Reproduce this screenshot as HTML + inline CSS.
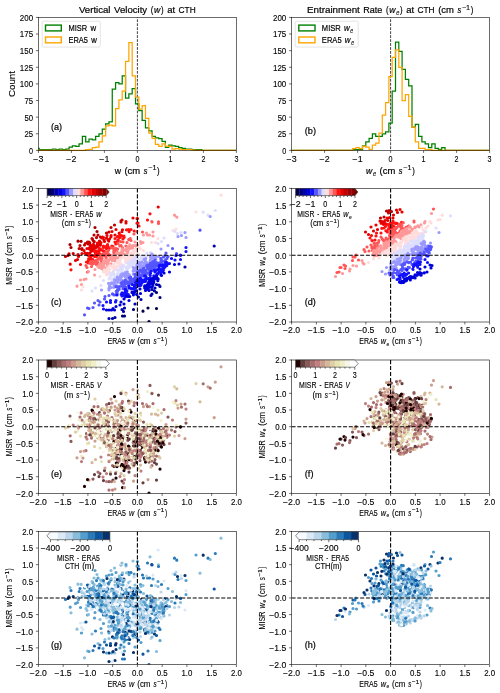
<!DOCTYPE html><html><head><meta charset="utf-8"><style>html,body{margin:0;padding:0;background:#fff}svg{display:block;will-change:transform}text{stroke:#000;stroke-width:0.12px}</style></head><body><svg width="500" height="693" viewBox="0 0 500 693" font-family="'Liberation Sans', sans-serif">
<rect width="500" height="693" fill="#fff"/>
<defs><clipPath id="ch0"><rect x="38.4" y="17.4" width="198" height="134"/></clipPath></defs>
<path d="M137.4 17.4V150.4" stroke="#000" stroke-width="0.75" stroke-dasharray="2.77 1.2" stroke-dashoffset="2.07"/>
<g clip-path="url(#ch0)">
<path d="M38.4 150.4H35.9V148.41H39.22V149.74H42.54V149.74H45.86V149.74H49.18V149.74H52.5V149.07H55.82V149.74H59.14V149.07H62.46V149.74H65.78V149.07H69.1V147.08H72.42V145.75H75.74V146.41H79.06V143.75H82.38V136.44H85.7V141.75H89.02V139.09H92.34V139.76H95.66V136.44H98.98V133.78H102.3V129.12H105.62V123.8H108.94V121.81H112.26V89.22H115.58V82.57H118.9V83.9H122.22V75.92H125.54V98.2H128.86V93.88H132.18V88.56H135.5V103.85H138.82V110.5H142.14V120.48H145.46V127.79H148.78V130.78H152.1V136.44H155.42V137.77H158.74V138.7H162.06V141.49H165.38V147.47H168.7V145.08H172.02V145.75H175.34V146.41H178.66V147.74H181.98V148.41H185.3V149.07H188.62V149.07H191.94V149.74H195.26V149.74H198.58V149.74H201.9V150.4H236.4" fill="none" stroke="#008000" stroke-width="1.25" stroke-linejoin="miter"/>
<path d="M38.4 150.4H85.7V149.74H89.02V149.4H92.34V147.74H95.66V147.08H98.98V141.75H102.3V135.77H105.62V125.8H108.94V125.13H112.26V125.8H115.58V108.5H118.9V99.86H122.22V91.22H125.54V61.29H128.86V42.67H132.18V75.92H135.5V97.2H138.82V109.17H142.14V105.51H145.46V118.48H148.78V133.11H152.1V138.43H155.42V144.41H158.74V146.41H162.06V143.75H165.38V146.01H168.7V146.41H172.02V149.07H175.34V148.74H178.66V149.07H181.98V149.74H185.3V149.74H188.62V149.74H191.94V150.07H195.26V150.4H236.4" fill="none" stroke="#ffa500" stroke-width="1.25" stroke-linejoin="miter"/>
</g>
<rect x="38.4" y="17.4" width="198" height="133" fill="none" stroke="#000" stroke-width="0.58"/>
<path d="M38.4 150.4v2.5M71.4 150.4v2.5M104.4 150.4v2.5M137.4 150.4v2.5M170.4 150.4v2.5M203.4 150.4v2.5M236.4 150.4v2.5" stroke="#000" stroke-width="0.58"/>
<text x="38.4" y="161.6" text-anchor="middle" font-size="8.32" textLength="10.1" lengthAdjust="spacingAndGlyphs">−3</text>
<text x="71.4" y="161.6" text-anchor="middle" font-size="8.32" textLength="10.1" lengthAdjust="spacingAndGlyphs">−2</text>
<text x="104.4" y="161.6" text-anchor="middle" font-size="8.32" textLength="10.1" lengthAdjust="spacingAndGlyphs">−1</text>
<text x="137.4" y="161.6" text-anchor="middle" font-size="8.32" textLength="3.99" lengthAdjust="spacingAndGlyphs">0</text>
<text x="170.4" y="161.6" text-anchor="middle" font-size="8.32" textLength="3.99" lengthAdjust="spacingAndGlyphs">1</text>
<text x="203.4" y="161.6" text-anchor="middle" font-size="8.32" textLength="3.99" lengthAdjust="spacingAndGlyphs">2</text>
<text x="236.4" y="161.6" text-anchor="middle" font-size="8.32" textLength="3.99" lengthAdjust="spacingAndGlyphs">3</text>
<path d="M38.4 150.4h-2.5M38.4 133.78h-2.5M38.4 117.15h-2.5M38.4 100.53h-2.5M38.4 83.9h-2.5M38.4 67.28h-2.5M38.4 50.65h-2.5M38.4 34.03h-2.5M38.4 17.4h-2.5" stroke="#000" stroke-width="0.58"/>
<text x="33.1" y="153.8" text-anchor="end" font-size="8.32" textLength="3.99" lengthAdjust="spacingAndGlyphs">0</text>
<text x="33.1" y="137.18" text-anchor="end" font-size="8.32" textLength="8.63" lengthAdjust="spacingAndGlyphs">25</text>
<text x="33.1" y="120.55" text-anchor="end" font-size="8.32" textLength="8.63" lengthAdjust="spacingAndGlyphs">50</text>
<text x="33.1" y="103.93" text-anchor="end" font-size="8.32" textLength="8.63" lengthAdjust="spacingAndGlyphs">75</text>
<text x="33.1" y="87.3" text-anchor="end" font-size="8.32" textLength="13.28" lengthAdjust="spacingAndGlyphs">100</text>
<text x="33.1" y="70.68" text-anchor="end" font-size="8.32" textLength="13.28" lengthAdjust="spacingAndGlyphs">125</text>
<text x="33.1" y="54.05" text-anchor="end" font-size="8.32" textLength="13.28" lengthAdjust="spacingAndGlyphs">150</text>
<text x="33.1" y="37.43" text-anchor="end" font-size="8.32" textLength="13.28" lengthAdjust="spacingAndGlyphs">175</text>
<text x="33.1" y="20.8" text-anchor="end" font-size="8.32" textLength="13.28" lengthAdjust="spacingAndGlyphs">200</text>
<defs><clipPath id="ch1"><rect x="291.6" y="17.4" width="198" height="134"/></clipPath></defs>
<path d="M390.6 17.4V150.4" stroke="#000" stroke-width="0.75" stroke-dasharray="2.77 1.2" stroke-dashoffset="2.07"/>
<g clip-path="url(#ch1)">
<path d="M291.6 150.4H352.6V149.74H355.9V149.74H359.2V149.74H362.5V145.75H365.8V141.75H369.1V138.43H372.4V133.78H375.7V136.44H379V136.44H382.3V133.78H385.6V131.78H388.9V123.14H392.2V91.22H395.5V42H398.8V51.31H402.1V69.27H405.4V79.25H408.7V85.89H412V127.12H415.3V124.47H418.6V136.44H421.9V141.75H425.2V143.75H428.5V147.74H431.8V143.75H435.1V148.41H438.4V149.4H441.7V147.74H445V150.4H489.6" fill="none" stroke="#008000" stroke-width="1.25" stroke-linejoin="miter"/>
<path d="M291.6 150.4H352.6V148.74H355.9V147.74H359.2V148.74H362.5V146.01H365.8V147.08H369.1V149.4H372.4V145.08H375.7V143.09H379V133.11H382.3V115.16H385.6V102.52H388.9V76.59H392.2V57.3H395.5V49.98H398.8V67.28H402.1V100.53H405.4V94.54H408.7V116.49H412V127.12H415.3V141.75H418.6V148.41H421.9V148.41H425.2V149.74H428.5V149.74H431.8V150.4H489.6" fill="none" stroke="#ffa500" stroke-width="1.25" stroke-linejoin="miter"/>
</g>
<rect x="291.6" y="17.4" width="198" height="133" fill="none" stroke="#000" stroke-width="0.58"/>
<path d="M291.6 150.4v2.5M324.6 150.4v2.5M357.6 150.4v2.5M390.6 150.4v2.5M423.6 150.4v2.5M456.6 150.4v2.5M489.6 150.4v2.5" stroke="#000" stroke-width="0.58"/>
<text x="291.6" y="161.6" text-anchor="middle" font-size="8.32" textLength="10.1" lengthAdjust="spacingAndGlyphs">−3</text>
<text x="324.6" y="161.6" text-anchor="middle" font-size="8.32" textLength="10.1" lengthAdjust="spacingAndGlyphs">−2</text>
<text x="357.6" y="161.6" text-anchor="middle" font-size="8.32" textLength="10.1" lengthAdjust="spacingAndGlyphs">−1</text>
<text x="390.6" y="161.6" text-anchor="middle" font-size="8.32" textLength="3.99" lengthAdjust="spacingAndGlyphs">0</text>
<text x="423.6" y="161.6" text-anchor="middle" font-size="8.32" textLength="3.99" lengthAdjust="spacingAndGlyphs">1</text>
<text x="456.6" y="161.6" text-anchor="middle" font-size="8.32" textLength="3.99" lengthAdjust="spacingAndGlyphs">2</text>
<text x="489.6" y="161.6" text-anchor="middle" font-size="8.32" textLength="3.99" lengthAdjust="spacingAndGlyphs">3</text>
<path d="M291.6 150.4h-2.5M291.6 133.78h-2.5M291.6 117.15h-2.5M291.6 100.53h-2.5M291.6 83.9h-2.5M291.6 67.28h-2.5M291.6 50.65h-2.5M291.6 34.03h-2.5M291.6 17.4h-2.5" stroke="#000" stroke-width="0.58"/>
<text x="286.3" y="153.8" text-anchor="end" font-size="8.32" textLength="3.99" lengthAdjust="spacingAndGlyphs">0</text>
<text x="286.3" y="137.18" text-anchor="end" font-size="8.32" textLength="8.63" lengthAdjust="spacingAndGlyphs">25</text>
<text x="286.3" y="120.55" text-anchor="end" font-size="8.32" textLength="8.63" lengthAdjust="spacingAndGlyphs">50</text>
<text x="286.3" y="103.93" text-anchor="end" font-size="8.32" textLength="8.63" lengthAdjust="spacingAndGlyphs">75</text>
<text x="286.3" y="87.3" text-anchor="end" font-size="8.32" textLength="13.28" lengthAdjust="spacingAndGlyphs">100</text>
<text x="286.3" y="70.68" text-anchor="end" font-size="8.32" textLength="13.28" lengthAdjust="spacingAndGlyphs">125</text>
<text x="286.3" y="54.05" text-anchor="end" font-size="8.32" textLength="13.28" lengthAdjust="spacingAndGlyphs">150</text>
<text x="286.3" y="37.43" text-anchor="end" font-size="8.32" textLength="13.28" lengthAdjust="spacingAndGlyphs">175</text>
<text x="286.3" y="20.8" text-anchor="end" font-size="8.32" textLength="13.28" lengthAdjust="spacingAndGlyphs">200</text>
<rect x="42.2" y="21.2" width="58.1" height="25.9" rx="1.4" fill="#fff" fill-opacity="0.8" stroke="#d0d0d0" stroke-width="0.58"/>
<rect x="45.5" y="25.1" width="15.8" height="5.8" fill="none" stroke="#008000" stroke-width="1.4"/>
<rect x="45.5" y="37.0" width="15.8" height="5.8" fill="none" stroke="#ffa500" stroke-width="1.4"/>
<text x="68.47" y="31" font-size="9.46" textLength="18.68" lengthAdjust="spacingAndGlyphs" style="stroke-width:0.2px">MISR</text><text x="90.39" y="31" font-size="9.46" textLength="5.64" lengthAdjust="spacingAndGlyphs" style="stroke-width:0.2px">w</text>
<text x="68.47" y="42.9" font-size="9.46" textLength="19.45" lengthAdjust="spacingAndGlyphs" style="stroke-width:0.2px">ERA5</text><text x="91.14" y="42.9" font-size="9.46" textLength="5.59" lengthAdjust="spacingAndGlyphs" style="stroke-width:0.2px">w</text>
<rect x="295.2" y="21.2" width="63" height="25.9" rx="1.4" fill="#fff" fill-opacity="0.8" stroke="#d0d0d0" stroke-width="0.58"/>
<rect x="298.8" y="25.1" width="16.2" height="5.8" fill="none" stroke="#008000" stroke-width="1.4"/>
<rect x="298.8" y="37.0" width="16.2" height="5.8" fill="none" stroke="#ffa500" stroke-width="1.4"/>
<text x="321.87" y="31" font-size="9.46" textLength="18.89" lengthAdjust="spacingAndGlyphs" style="stroke-width:0.2px">MISR</text><text x="344.02" y="31" font-size="9.46" font-style="italic" textLength="5.71" lengthAdjust="spacingAndGlyphs" style="stroke-width:0.2px">w</text><text x="350.36" y="32.83" font-size="6.62" font-style="italic" textLength="2.88" lengthAdjust="spacingAndGlyphs">e</text>
<text x="321.87" y="42.9" font-size="9.46" textLength="19.74" lengthAdjust="spacingAndGlyphs" style="stroke-width:0.2px">ERA5</text><text x="344.86" y="42.9" font-size="9.46" font-style="italic" textLength="5.68" lengthAdjust="spacingAndGlyphs" style="stroke-width:0.2px">w</text><text x="351.18" y="44.73" font-size="6.62" font-style="italic" textLength="2.86" lengthAdjust="spacingAndGlyphs">e</text>
<text x="78.99" y="13.2" font-size="9.8" textLength="31.53" lengthAdjust="spacingAndGlyphs" style="stroke-width:0.2px">Vertical</text><text x="114.04" y="13.2" font-size="9.8" textLength="33.09" lengthAdjust="spacingAndGlyphs" style="stroke-width:0.2px">Velocity</text><text x="150.64" y="13.2" font-size="9.8" textLength="2.59" lengthAdjust="spacingAndGlyphs" style="stroke-width:0.2px">(</text><text x="154.01" y="13.2" font-size="9.8" font-style="italic" textLength="6.29" lengthAdjust="spacingAndGlyphs" style="stroke-width:0.2px">w</text><text x="161.07" y="13.2" font-size="9.8" textLength="2.59" lengthAdjust="spacingAndGlyphs" style="stroke-width:0.2px">)</text><text x="167.18" y="13.2" font-size="9.8" textLength="7.9" lengthAdjust="spacingAndGlyphs" style="stroke-width:0.2px">at</text><text x="178.6" y="13.2" font-size="9.8" textLength="17.02" lengthAdjust="spacingAndGlyphs" style="stroke-width:0.2px">CTH</text>
<text x="306.99" y="13.2" font-size="9.8" textLength="52.84" lengthAdjust="spacingAndGlyphs" style="stroke-width:0.2px">Entrainment</text><text x="363.35" y="13.2" font-size="9.8" textLength="19.03" lengthAdjust="spacingAndGlyphs" style="stroke-width:0.2px">Rate</text><text x="385.9" y="13.2" font-size="9.8" textLength="2.6" lengthAdjust="spacingAndGlyphs" style="stroke-width:0.2px">(</text><text x="389.27" y="13.2" font-size="9.8" font-style="italic" textLength="6.29" lengthAdjust="spacingAndGlyphs" style="stroke-width:0.2px">w</text><text x="396.21" y="15.09" font-size="6.86" font-style="italic" textLength="3.18" lengthAdjust="spacingAndGlyphs">e</text><text x="400.05" y="13.2" font-size="9.8" textLength="2.6" lengthAdjust="spacingAndGlyphs" style="stroke-width:0.2px">)</text><text x="406.16" y="13.2" font-size="9.8" textLength="7.9" lengthAdjust="spacingAndGlyphs" style="stroke-width:0.2px">at</text><text x="417.59" y="13.2" font-size="9.8" textLength="17.03" lengthAdjust="spacingAndGlyphs" style="stroke-width:0.2px">CTH</text><text x="438.13" y="13.2" font-size="9.8" textLength="15.76" lengthAdjust="spacingAndGlyphs" style="stroke-width:0.2px">(cm</text><text x="457.41" y="13.2" font-size="9.8" font-style="italic" textLength="3.73" lengthAdjust="spacingAndGlyphs" style="stroke-width:0.2px">s</text><text x="461.79" y="9.76" font-size="6.86" textLength="8.37" lengthAdjust="spacingAndGlyphs">−1</text><text x="470.82" y="13.2" font-size="9.8" textLength="2.6" lengthAdjust="spacingAndGlyphs" style="stroke-width:0.2px">)</text>
<g transform="rotate(-90 15.3 84)"><text x="2.26" y="84" font-size="9.23" textLength="26.07" lengthAdjust="spacingAndGlyphs">Count</text></g>
<text x="114.69" y="173.5" font-size="9.8" textLength="6.28" lengthAdjust="spacingAndGlyphs" style="stroke-width:0.2px">w</text><text x="124.48" y="173.5" font-size="9.8" textLength="15.73" lengthAdjust="spacingAndGlyphs" style="stroke-width:0.2px">(cm</text><text x="143.73" y="173.5" font-size="9.8" font-style="italic" textLength="3.72" lengthAdjust="spacingAndGlyphs" style="stroke-width:0.2px">s</text><text x="148.11" y="170.06" font-size="6.86" textLength="8.36" lengthAdjust="spacingAndGlyphs">−1</text><text x="157.12" y="173.5" font-size="9.8" textLength="2.59" lengthAdjust="spacingAndGlyphs" style="stroke-width:0.2px">)</text>
<text x="366.09" y="173.9" font-size="9.8" font-style="italic" textLength="6.26" lengthAdjust="spacingAndGlyphs" style="stroke-width:0.2px">w</text><text x="373.01" y="175.79" font-size="6.86" font-style="italic" textLength="3.16" lengthAdjust="spacingAndGlyphs">e</text><text x="379.56" y="173.9" font-size="9.8" textLength="15.7" lengthAdjust="spacingAndGlyphs" style="stroke-width:0.2px">(cm</text><text x="398.77" y="173.9" font-size="9.8" font-style="italic" textLength="3.71" lengthAdjust="spacingAndGlyphs" style="stroke-width:0.2px">s</text><text x="403.14" y="170.46" font-size="6.86" textLength="8.34" lengthAdjust="spacingAndGlyphs">−1</text><text x="412.13" y="173.9" font-size="9.8" textLength="2.58" lengthAdjust="spacingAndGlyphs" style="stroke-width:0.2px">)</text>
<text x="50.98" y="130.3" font-size="9.58" textLength="11.14" lengthAdjust="spacingAndGlyphs" style="stroke-width:0.2px">(a)</text>
<text x="304.78" y="133.7" font-size="9.58" textLength="11.24" lengthAdjust="spacingAndGlyphs" style="stroke-width:0.2px">(b)</text>
<defs><clipPath id="csc"><rect x="38.4" y="188.4" width="198" height="133.6"/></clipPath></defs>
<g clip-path="url(#csc)">
<path d="M122 220h0M121 221h0M80 245.5h0M84.5 245h0M87.5 242h0M82 248.5h0M69 253.8h0M73.2 253.5h0M68 255.5h0M121 222h0M114.5 225h0M111 227.5h0M109 232h0M106.5 233h0M94 235h0M98 235h0M100.5 237h0M92 238.5h0M89 242h0M93.5 241h0M88.2 244h0M65.5 256.5h0M79.2 248.5h0M89.8 242.9h0M85.3 243.5h0M96.5 237.6h0M82 249.4h0M92.6 239.4h0M88.9 243.5h0M94.2 241.7h0" stroke="#c30000" stroke-width="3.2" stroke-linecap="round"/>
<path d="M126 221.5h0M133 218h0M137 218.5h0M158.2 207h0M137.5 218.5h0M84 250.5h0M87 248.5h0M78 254.5h0M82 253.5h0M86.5 254h0M126 223h0M116 229.5h0M122.5 229.8h0M112 231.5h0M107 235.5h0M115 235h0M103.5 237.5h0M109.5 239h0M97.5 243h0M101 242.5h0M104.5 241.5h0M94.2 249.2h0M96.9 245.2h0M90.1 246h0M95.5 246.7h0M91.1 251.5h0M92 246h0M96.2 247.5h0M92.8 250.1h0M89.4 248h0M91.4 249.5h0M98.1 245.6h0M89.8 253h0M91.8 247.6h0M97.5 245h0M93.7 250.2h0M93 245.8h0M92.6 250.3h0M94.3 250.8h0M90.8 245.3h0M92.8 250h0M90.9 246.6h0M94.1 247.2h0M93.4 244.4h0M93.6 247h0M89.4 248.8h0M100.5 245.1h0M78.5 256.5h0M75.5 260.5h0M77.5 259.5h0M70.2 264.2h0M102.5 237.2h0M89.5 249.1h0M78 255.3h0M87.2 253.3h0M108.1 240.1h0M111.1 235.6h0M104 240h0M111 236.8h0M106.5 238h0M100.2 243.3h0M97.8 246.5h0M99.5 241.1h0M101.7 238h0M100.5 243.2h0M92 246.2h0M119.2 233.2h0M108.7 241.1h0M85.1 253.2h0M122 231.6h0" stroke="#e60000" stroke-width="3.2" stroke-linecap="round"/>
<path d="M150 213.8h0M147.5 220h0M137 223.2h0M126.5 229.8h0M128.5 229.5h0M131 229.5h0M119.5 235h0M120 237.5h0M123 239h0M115 238.5h0M118 240h0M107.5 244.5h0M115 242h0M103.5 246h0M109.5 248h0M113 246.5h0M106.4 246.3h0M88.2 255.3h0M99.6 250.3h0M97.3 251.1h0M104.3 251.3h0M98.1 253.2h0M100.2 254.5h0M107.7 246.1h0M100.4 249h0M97.8 251.5h0M102.6 250.5h0M109.3 248.4h0M107.8 246.2h0M98.3 250.8h0M96.7 255.3h0M103.4 246.6h0M99.1 252.9h0M96.1 251.1h0M96 252.8h0M97.7 253.4h0M99.3 248.4h0M106.4 248.8h0M103.2 250.8h0M96.6 252.7h0M89.2 255.3h0M98.1 251.5h0M98.8 250.7h0M94.4 251.3h0M103.3 247.4h0M138 223h0M139 226h0M80.5 264.5h0M71 269.8h0M86.5 262h0M88.7 260.4h0M95 256.2h0M91.5 260.5h0M89.2 260h0M89.2 259.1h0M94.6 256.4h0M88.1 262.8h0M92.9 259.6h0M88.6 258.9h0M90.6 258.2h0M91.7 255.7h0M92.1 255.6h0M96.6 256.5h0M88.6 260.6h0M90.2 256.6h0M95 255h0M95 255.1h0M104.7 246.9h0M121.8 235.9h0M117.6 241.2h0M124.2 237.3h0M111.9 246h0M123.9 236.1h0M92 255.7h0M121 235.6h0M95.5 252.9h0M134.2 231h0M117.4 236.7h0M104.2 252.4h0M115.8 244h0M118.3 240h0M129.1 231.6h0" stroke="#ff1111" stroke-width="3.2" stroke-linecap="round"/>
<path d="M151.8 221.5h0M158.5 221.8h0M134 234h0M131 240.5h0M118 243.5h0M123 242h0M127 242.5h0M121 245.5h0M126 246h0M115.7 248.3h0M105 255.6h0M108.7 254.6h0M106.4 252.1h0M109 255.4h0M114.9 250.2h0M108.3 253.5h0M122.6 247.9h0M113.8 250.9h0M106.6 252.5h0M105.3 255.1h0M105.5 254.8h0M105.9 255.7h0M102.2 254.3h0M115.5 251.9h0M108.5 250.3h0M114.6 251.1h0M105.7 253.8h0M103.7 253.6h0M100.1 255.9h0M99.8 255.8h0M116.1 251.8h0M116.5 251.6h0M113.8 252.6h0M152 222h0M158.5 223.5h0M142.5 232h0M86 265.5h0M87 267.5h0M87.5 272h0M91.5 266.5h0M90 263.3h0M110.6 255.4h0M92.9 261.3h0M103.7 255.7h0M95 261.7h0M100.9 259.5h0M98.1 258.5h0M96.3 260.3h0M100.1 257.1h0M110.4 256.1h0M101.7 255.4h0M93.4 263.7h0M94.7 261.3h0M90.8 261.7h0M102.1 258.5h0M98.4 259.2h0M92.4 263.8h0M103.2 261.5h0M101.2 262.1h0M106.1 257.8h0M95.5 261.9h0M97.6 262.4h0M96.5 264.6h0M97.2 264.6h0M104.3 253.5h0M111.4 247.7h0M128.7 239.6h0M105.2 252.8h0M119.8 245.9h0M112.6 247.9h0M115.7 252.8h0M117.6 249h0M102.6 254.5h0M114.3 249.3h0M120.6 241.6h0M114 250.3h0M136.7 231.5h0M130.2 238.6h0" stroke="#ff5555" stroke-width="3.2" stroke-linecap="round"/>
<path d="M174.5 215.2h0M176.8 217.2h0M135 242h0M130 245.5h0M135 245.5h0M129.3 247.6h0M116.9 252.8h0M123.5 253.9h0M128.4 246.8h0M131.7 246.6h0M128.1 250.7h0M113.9 255.5h0M127.4 253.3h0M126.1 249.8h0M122.9 250.7h0M136.4 246.8h0M118.4 253.6h0M122 250.2h0M132.7 248h0M122.7 252.1h0M127.9 247.1h0M122.3 248.8h0M124.9 249.8h0M121.8 251.5h0M124.3 254.2h0M128.9 246.8h0M127.6 248.1h0M121.1 254.4h0M126.4 250.7h0M122.5 252h0M122.2 249.1h0M127.9 251.5h0M127.7 247h0M116.2 253.5h0M127.2 247.9h0M146.5 233h0M143.5 235h0M147.5 235h0M149.5 235h0M153 232h0M153 236h0M140.5 241.5h0M143 242.5h0M141 243.5h0M137.5 245h0M80.5 280h0M84 279.5h0M86 279h0M77 286.2h0M81.5 284.5h0M95 269.5h0M88.5 271.5h0M94.5 275h0M101.3 265.7h0M107.4 265.6h0M105.3 268.3h0M112.6 258.6h0M105.1 262.2h0M97.8 266.3h0M115.9 259.5h0M108.1 261.9h0M110.5 259.1h0M109.3 264.5h0M101.2 267.7h0M103.5 264.9h0M112.3 258.6h0M119.8 255.9h0M110.2 257.4h0M107.2 260.3h0M108.5 259.9h0M118.4 257.6h0M108.1 266h0M100 264.1h0M107.5 264.3h0M108.4 261.3h0M101.2 266h0M116.6 258h0M101.4 265.9h0M100.1 267h0M103.9 266.6h0M111.3 259.6h0M110.2 259h0M120.9 255.9h0M105.9 262.6h0M103.7 263.7h0M103.4 261.7h0M122.7 255.1h0M114.1 255.7h0M114.7 258.1h0M99.9 264.2h0M111.2 263.9h0M101.8 264.2h0M102.4 266.4h0M113.9 255.9h0M112.2 260.4h0M102.9 265.3h0M111.7 259.4h0M103.6 269.4h0M115.6 259.9h0M115.6 256.7h0M115.1 260.9h0M101.7 268.7h0M100.7 263.9h0M112.1 257.8h0M112.8 255.6h0M99 267.4h0M105.5 260h0M103.2 262.2h0M102.8 267.2h0M103.5 267.4h0M104 264.1h0M103.8 268.1h0M129.9 244.8h0M118.3 252.9h0M128.9 246.9h0M121 252.6h0M130.3 248.5h0M133.1 245.6h0" stroke="#ff9999" stroke-width="3.2" stroke-linecap="round"/>
<path d="M221 195.2h0M196 212h0M136.9 248.9h0M136.9 252.9h0M131.5 253.3h0M137.2 254h0M135.7 249h0M137.5 255.1h0M133 250.6h0M134.5 251.7h0M131.3 255h0M133.7 254.9h0M136.5 248.6h0M132.9 252.3h0M173 230.5h0M176 229h0M158 238.5h0M151.5 242.5h0M155.5 242.5h0M139 247h0M140.5 249h0M143.5 250.5h0M138.5 254h0M83 286.5h0M100 276.5h0M108.6 268.3h0M125.6 260.3h0M119.4 265.8h0M127.8 259.5h0M125.8 262.8h0M127 259.3h0M120.1 263h0M134.3 256.6h0M106.9 274.7h0M113.9 267.5h0M120 260.8h0M128.2 261.3h0M105.5 272.2h0M129.4 258.5h0M130.1 255.4h0M118.4 262.6h0M120.4 258.4h0M104.4 271h0M109 266.3h0M113.9 269.8h0M108.7 273.6h0M119.4 261.6h0M117.1 262.9h0M118.7 266h0M104.4 269.8h0M107.3 269.5h0M131.8 258.1h0M127.5 257.9h0M132 258.7h0M116.4 269.3h0M121.8 257.5h0M104.4 270.5h0M106.7 269.8h0M116.9 266.7h0M132.7 255.3h0M128.3 256.7h0M124.7 257.9h0M131.2 258h0M107.3 272.1h0M110.2 265.6h0M120.1 263.9h0M127.4 255.7h0M114.7 265.9h0M117.6 260.7h0M128.5 259.4h0M117.9 266h0M108.3 268.2h0M109.9 269.1h0M113.6 264.1h0M121.4 258.2h0M125.6 261.5h0M103.4 272h0M129.5 260.1h0M117.8 261.5h0M120.9 263.9h0M125.8 261.3h0M123.7 256.6h0M125.1 258.4h0M112.6 267.1h0M116 269.1h0M130.9 255.5h0M108.8 273.7h0M106.5 275h0M109.5 272.2h0M128.1 261.1h0M81.5 290h0M131.4 255.5h0M130.8 253h0" stroke="#ffdddd" stroke-width="3.2" stroke-linecap="round"/>
<path d="M203.2 212.2h0M208 215.2h0M215.3 210.5h0M137.7 255h0M175 231.5h0M177.5 233.5h0M181 232.5h0M164 238h0M161.5 241.5h0M158 243.5h0M147 253h0M150.5 252.5h0M103.5 280.5h0M95.5 288h0M101 285.5h0M122.1 268.7h0M114.9 277.4h0M133.8 260.4h0M109.1 278.9h0M118 270.6h0M136.8 262.7h0M113.4 271.7h0M132.1 265.9h0M121.6 272h0M127.6 262.9h0M121.6 272.6h0M111.6 273.8h0M133 259.6h0M127.8 269h0M121.2 274h0M118.7 270.3h0M111.7 275h0M128.2 262.1h0M133.5 263.9h0M129.5 265.2h0M122.3 267.1h0M129.1 267.5h0M115.9 277.1h0M111.1 273.5h0M112.4 279.9h0M127.2 266.8h0M122.5 273.1h0M122.6 266.5h0M109.4 278.3h0M135.5 258.3h0M122.1 269.9h0M120.7 266.9h0M120.1 273.9h0M113.3 274.3h0M113.9 274.1h0M117.4 273.9h0M135.2 261.6h0M115.1 276.8h0M131 262.3h0M132.8 260.6h0M113.4 278.6h0M120.7 268.6h0M131.2 261.7h0M122.4 268.4h0M130.3 264.6h0M128.1 263.6h0M130.5 263.6h0M125.7 267.2h0M110.2 276.6h0M134.8 257.5h0M123.1 265.1h0M129.9 261.9h0M118.5 273.5h0M133.8 260.3h0M136.7 259.8h0M113.6 273.9h0M137.3 255.8h0M135.8 262.1h0M110.1 277.8h0M117.6 275.8h0M117.3 270.1h0M122.2 268.8h0M129.3 262.2h0M127.5 269.2h0M131.5 265h0M136.6 256.6h0M113.6 274.1h0M135.8 262.6h0M120.1 269h0M136.2 263.1h0M110.5 273.5h0M137 257.3h0M126.5 270h0M133.4 261.6h0M128.3 267.7h0M135.5 261.3h0M110.8 273.5h0M143.4 256.6h0M143.1 258.6h0M140.7 258h0M139 259.5h0M146.5 256.3h0M139.9 259.5h0M141.5 256.3h0M137.3 260.8h0M137.9 258.7h0M146.9 256.2h0M141.5 258h0M138.8 261.4h0M92 291h0" stroke="#ddddff" stroke-width="3.2" stroke-linecap="round"/>
<path d="M210.2 216.5h0M185 232.5h0M178 236.5h0M181.5 235.5h0M186 237.5h0M168 245.5h0M161 249h0M152 254h0M114 285h0M120.3 279.7h0M128.5 274.4h0M120.1 280.1h0M116.4 285.6h0M129.4 275.2h0M122.3 280.7h0M117.4 277.2h0M136.7 265.6h0M122.2 273.9h0M121.1 274.9h0M114.1 282.4h0M125.1 276.7h0M128.2 277.8h0M127.5 275h0M121 276.5h0M114.2 284h0M134.7 268.3h0M136 271.3h0M133.3 267.5h0M120.8 282.6h0M108.6 283.4h0M111 287.6h0M124.6 274.5h0M121.3 277.6h0M113.8 287.3h0M136.8 266.3h0M137.4 264.3h0M117.7 281.1h0M117.6 282.3h0M133.2 270.9h0M109.5 286.3h0M120.7 275.4h0M124.1 280.7h0M115.4 282h0M123.9 275.6h0M126 277.3h0M111.5 282.9h0M133.9 269.4h0M108.9 288.4h0M125 272.5h0M111.1 283.8h0M115.3 285.5h0M119.6 277.5h0M127.3 272h0M116 285.5h0M114.6 279.9h0M133.4 274.2h0M127.4 273.5h0M118.4 280h0M124.8 274.2h0M136.1 269.3h0M134.4 269.3h0M135.5 269.3h0M116.2 279.8h0M158.5 256.5h0M152 257.3h0M137.3 270.3h0M139.1 264h0M139.6 265.2h0M151.5 255.5h0M151.1 257.9h0M143.9 263.4h0M139.2 267h0M152.5 256.3h0M140.4 263h0M138.9 262.7h0M144.2 259.3h0M140.4 267.5h0M142.8 266.2h0M147.3 262.8h0M150.2 260.8h0M140.7 264.7h0M153.9 257.1h0M139.3 264.7h0M140.1 269.9h0M145.7 258.7h0M150.4 257h0M139 263.3h0M150.5 259.5h0M142 261.8h0M145.8 264.9h0M140.6 264.6h0M101.5 290h0M109 290h0M155.9 256.6h0M145.2 263.7h0M146.4 264.5h0M155.9 259.2h0M153 257.8h0M144.2 266.6h0M140 266h0M145.5 261.7h0M150.5 260.2h0M152.3 256.3h0M153.2 256.9h0M152.6 260.9h0M144.4 263.1h0" stroke="#9999ff" stroke-width="3.2" stroke-linecap="round"/>
<path d="M78 241.2h0M70 244.5h0M71 247.5h0M95 227.5h0M97 231.5h0M81.1 241.3h0" stroke="#a20000" stroke-width="3.2" stroke-linecap="round"/>
<path d="M172.5 248.5h0M166 253h0M176.5 253.5h0M165 255.5h0M200 230.2h0M137.5 272.1h0M136.6 278.9h0M124.6 283.2h0M121.9 286.1h0M118.8 287.3h0M125.4 280.2h0M118 286.9h0M135.8 279.4h0M132.9 279.2h0M127.7 282.6h0M123.6 286.7h0M135 274.3h0M126 287.9h0M137.7 277h0M128.7 282h0M130.6 280h0M125.8 287.1h0M123.4 287.8h0M126.2 280.6h0M128.5 285h0M131.3 282.2h0M137.8 279.8h0M122 285.3h0M134.2 279.2h0M134.3 279.8h0M137.2 279.8h0M123 288.7h0M121.8 284.2h0M115.9 286.7h0M130.7 279.9h0M121.1 283.4h0M130.8 279.4h0M133.7 281.9h0M125.7 283.6h0M124.2 286.2h0M122.9 281.8h0M134.6 281.8h0M121.7 284.6h0M130 280h0M129.4 277.9h0M119.1 287.2h0M130.5 282h0M125.2 288.2h0M123.9 282h0M135.1 277.2h0M124 288.3h0M133.8 281.6h0M125.7 281.1h0M125.8 287h0M119.2 286.6h0M131.2 282.8h0M130.6 277.1h0M129.5 283.8h0M131.3 279.4h0M132.1 281.9h0M163.5 257h0M168 256.5h0M156 262.5h0M159.5 263h0M143.6 269.7h0M148.8 272.5h0M141.4 275.9h0M152 266.5h0M145 270.4h0M151.6 267.3h0M158.1 264.3h0M150.3 263.4h0M152.7 262.1h0M146.9 265.6h0M150.3 266.3h0M139.2 277.7h0M140.8 276.5h0M145.7 270.6h0M153.4 268.5h0M154.2 261.9h0M146.4 273.7h0M138.3 277.7h0M138.1 277.7h0M146.5 272.6h0M138.9 273.4h0M137.9 272.7h0M137.7 274.8h0M142.7 270.8h0M149.3 266.3h0M143.4 271.7h0M153.3 264.4h0M148 265.1h0M157.5 264.8h0M144.1 273.5h0M157.9 265.3h0M150.6 265.8h0M156.7 265.7h0M139.7 276.7h0M145.5 271.5h0M153 268.4h0M151.1 268.6h0M157.6 265.5h0M148.2 266.2h0M154 267h0M149 269.4h0M160.4 264.6h0M146.1 274.2h0M149 268.2h0M157.7 265.9h0M150.1 268.6h0M139.4 278.1h0M138.9 271.7h0M142.9 273.9h0M139.2 270.8h0M147.6 273.1h0M155.9 264.8h0M158 266.2h0M159.4 264.9h0M142.3 270.8h0M152.6 263h0M138.1 272.1h0M152.1 265.2h0M139.7 275.9h0M144 268.3h0M160.3 263.4h0M151 263.6h0M146.7 266.3h0M151.9 270.4h0M105 296.5h0M104.5 299h0M109 295.5h0M114 295h0M98 300.5h0M100 302h0M94.5 303h0M99 305h0M89 308.5h0M93 307.5h0M119.2 289.3h0M117.2 293.3h0M117.6 290.8h0M117.5 290h0M115.9 294.6h0M116.3 291.4h0M117.6 289.5h0M112.5 293.9h0M84.5 314.8h0M87.5 308h0M141.8 271.8h0M142 274.6h0M153.8 267.1h0M153.3 268.4h0M142.4 271.3h0M144.1 272.8h0M165 261.1h0M160.8 258.4h0M161.1 261.7h0M153.4 261.7h0M139.9 274.9h0M154.8 262.3h0M143.4 270.6h0M159.7 264.7h0M154.9 260.2h0M161.7 262.4h0M149 269.4h0M156.5 265.7h0M160.9 263.9h0M147.6 268.6h0M143.2 274.7h0M140.4 270.3h0M167 258.4h0M154.1 264.2h0M150.1 264.3h0M143.1 275.9h0M142.8 268.9h0M161 259.8h0M162.1 260.5h0M155 267.4h0M157.3 262.9h0M165.7 259.5h0M162.1 262.1h0" stroke="#5555ff" stroke-width="3.2" stroke-linecap="round"/>
<path d="M186 247.5h0M186 251.5h0M180.5 255h0M134.8 286h0M136.3 282.5h0M138 286h0M136.3 282.1h0M134.6 285.1h0M132.3 284.5h0M135.5 288.1h0M129 286.4h0M131.5 288.9h0M136.8 280.7h0M134.3 286h0M131.4 288.3h0M135.6 282.5h0M135.4 288.3h0M134.3 287.3h0M136.9 281h0M129.1 288.1h0M133.4 288.9h0M171.5 258.5h0M175 260h0M180.5 259.5h0M176 255.5h0M180.5 255.5h0M165.5 262.5h0M169.5 263.5h0M164 268h0M161.5 271h0M141 285h0M154.4 270.4h0M145.8 279.4h0M157.6 273.8h0M148.7 279h0M163.3 267.4h0M163.2 269h0M145.5 281.1h0M162.8 271.3h0M150.9 271.4h0M141.5 281.2h0M163.4 270.1h0M140.5 281h0M140.6 278.7h0M161.4 269.5h0M140.3 285.7h0M139.3 279.5h0M137.5 284.1h0M166.9 265.3h0M145.1 279.3h0M145.2 281.4h0M163 264.9h0M157.3 273.9h0M160.6 272.7h0M138.4 283.9h0M159.2 265.7h0M141.5 283.2h0M144.7 275.9h0M140 278.6h0M144.9 279.7h0M163.7 265.2h0M143.8 280.8h0M162.3 266.2h0M155.3 270.8h0M166.4 265.7h0M141 284.1h0M150.6 273h0M140 283.9h0M160.4 265.1h0M137.5 285h0M152.6 278.3h0M162.4 271.2h0M142.8 282h0M140.6 283.6h0M137.9 280.9h0M139.4 281.4h0M117 295h0M122 296h0M103 305.5h0M106.5 302h0M110.5 300.5h0M110.5 302.5h0M116 300.5h0M115.5 302h0M103.5 309h0M125.1 292.2h0M125.1 292.7h0M125.2 289.3h0M128.3 294.6h0M126.9 290.9h0M126.5 294.2h0M126.6 290.6h0M122.9 293.6h0M121.2 294.4h0M122 292.8h0M123.2 294.1h0M125.4 290.8h0M126.8 294.6h0M126.6 292.9h0M125.3 291.5h0M124.9 295.8h0M125.1 296.9h0M125.1 292.4h0M124.8 295.6h0M139.8 283.1h0M152 278.6h0M155.6 270.8h0M157.4 269.6h0M150.7 278.7h0M149.8 278.1h0M163.1 265.1h0M150 275.1h0M150.2 275.4h0M159.3 266.5h0M146 276.7h0M165.8 263.5h0M153.8 275.9h0M159.2 268.8h0M145.7 281.1h0M161.4 265.7h0M163.1 267.3h0M165 267h0M155.9 276.1h0M142.9 280h0M141.4 281h0M164.9 266.7h0M159.1 271.6h0M164.5 265.2h0M150.2 279.2h0M148.5 278.7h0M156.1 275.7h0M166.9 262.5h0M155 272h0M166.8 263.7h0M166.5 262.3h0" stroke="#1111ff" stroke-width="3.2" stroke-linecap="round"/>
<path d="M214.2 246h0M185 267h0M156.5 284.5h0M159 285h0M160 286.5h0M155 288h0M135 304h0M122 309.5h0M124.5 308h0M123.5 311.5h0M109 318.5h0M112.5 318.5h0M115 317.5h0M149 290.5h0M152 289.5h0M154.5 291h0M151 295.5h0M152 294h0M138.5 297h0M141 299.5h0" stroke="#0000ac" stroke-width="3.2" stroke-linecap="round"/>
<path d="M174.5 264.5h0M179 264h0M164 273h0M169.5 272h0M161.5 275.5h0M156 278.5h0M153 284h0M152 287h0M146 288h0M148 283.5h0M146.9 288.3h0M152.8 285.3h0M153.8 281.8h0M144.8 285.8h0M145.2 287.7h0M151.3 282.8h0M151 282.8h0M146.5 286.3h0M151.6 280h0M153.5 282.9h0M150.4 283.7h0M144.7 288.1h0M150 287.2h0M148.9 282.8h0M149.7 284.5h0M154.5 277.5h0M146.8 285.4h0M156.7 277.4h0M152.8 285h0M146.1 287.6h0M145.3 286.7h0M149 285h0M150.2 281.6h0M144.6 286.5h0M150.1 280.3h0M154.1 279.4h0M152.9 279.8h0M148 287.3h0M148 288.5h0M156 277.9h0M148.9 281.6h0M128 296.5h0M134 293.5h0M121 302h0M124 299h0M129 300.5h0M120 305h0M124 304h0M106.5 310h0M109 310h0M111.5 310h0M114.5 310h0M113 308.5h0M116 306.5h0M136.8 294.6h0M133.4 294.8h0M133 292.5h0M134.6 291.7h0M129.7 296.5h0M132 292.4h0M126.6 296.1h0M136.6 290.9h0M140 289h0M145.5 290.5h0M140.5 293.5h0M148.9 285.1h0M153.3 282h0M147.1 285.4h0M157.8 280.7h0M158.2 279h0M151.5 279.3h0M147.9 289.2h0M153 283.2h0M153.1 278.5h0M148.2 284.5h0M156.6 275.9h0M160.9 274.8h0M145.9 285.9h0M157.4 278.1h0M149.5 281.8h0" stroke="#0000db" stroke-width="3.2" stroke-linecap="round"/>
<path d="M133.5 309.5h0M122.5 316h0M124.5 316h0M156.5 292.5h0M160 297.5h0" stroke="#00007c" stroke-width="3.2" stroke-linecap="round"/>
<path d="M148 308h0M156.5 308.5h0M143 311.2h0M149 321.5h0" stroke="#00004c" stroke-width="3.2" stroke-linecap="round"/>
<path d="M38.4 255.2H236.4" stroke="#000" stroke-width="1.1" stroke-dasharray="4 1.715"/>
<path d="M137.4 188.4V322" stroke="#000" stroke-width="1.1" stroke-dasharray="4.16 1.8"/>
</g>
<rect x="38.4" y="188.4" width="198" height="133.6" fill="none" stroke="#000" stroke-width="0.58"/>
<path d="M38.4 322v2.5M63.15 322v2.5M87.9 322v2.5M112.65 322v2.5M137.4 322v2.5M162.15 322v2.5M186.9 322v2.5M211.65 322v2.5M236.4 322v2.5" stroke="#000" stroke-width="0.58"/>
<text x="38.4" y="333.1" text-anchor="middle" font-size="8.32" textLength="17.07" lengthAdjust="spacingAndGlyphs">−2.0</text>
<text x="63.15" y="333.1" text-anchor="middle" font-size="8.32" textLength="17.07" lengthAdjust="spacingAndGlyphs">−1.5</text>
<text x="87.9" y="333.1" text-anchor="middle" font-size="8.32" textLength="17.07" lengthAdjust="spacingAndGlyphs">−1.0</text>
<text x="112.65" y="333.1" text-anchor="middle" font-size="8.32" textLength="17.07" lengthAdjust="spacingAndGlyphs">−0.5</text>
<text x="137.4" y="333.1" text-anchor="middle" font-size="8.32" textLength="10.95" lengthAdjust="spacingAndGlyphs">0.0</text>
<text x="162.15" y="333.1" text-anchor="middle" font-size="8.32" textLength="10.95" lengthAdjust="spacingAndGlyphs">0.5</text>
<text x="186.9" y="333.1" text-anchor="middle" font-size="8.32" textLength="10.95" lengthAdjust="spacingAndGlyphs">1.0</text>
<text x="211.65" y="333.1" text-anchor="middle" font-size="8.32" textLength="10.95" lengthAdjust="spacingAndGlyphs">1.5</text>
<text x="236.4" y="333.1" text-anchor="middle" font-size="8.32" textLength="10.95" lengthAdjust="spacingAndGlyphs">2.0</text>
<path d="M38.4 322h-2.5M38.4 305.3h-2.5M38.4 288.6h-2.5M38.4 271.9h-2.5M38.4 255.2h-2.5M38.4 238.5h-2.5M38.4 221.8h-2.5M38.4 205.1h-2.5M38.4 188.4h-2.5" stroke="#000" stroke-width="0.58"/>
<text x="33.1" y="325.4" text-anchor="end" font-size="8.32" textLength="17.07" lengthAdjust="spacingAndGlyphs">−2.0</text>
<text x="33.1" y="308.7" text-anchor="end" font-size="8.32" textLength="17.07" lengthAdjust="spacingAndGlyphs">−1.5</text>
<text x="33.1" y="292" text-anchor="end" font-size="8.32" textLength="17.07" lengthAdjust="spacingAndGlyphs">−1.0</text>
<text x="33.1" y="275.3" text-anchor="end" font-size="8.32" textLength="17.07" lengthAdjust="spacingAndGlyphs">−0.5</text>
<text x="33.1" y="258.6" text-anchor="end" font-size="8.32" textLength="10.95" lengthAdjust="spacingAndGlyphs">0.0</text>
<text x="33.1" y="241.9" text-anchor="end" font-size="8.32" textLength="10.95" lengthAdjust="spacingAndGlyphs">0.5</text>
<text x="33.1" y="225.2" text-anchor="end" font-size="8.32" textLength="10.95" lengthAdjust="spacingAndGlyphs">1.0</text>
<text x="33.1" y="208.5" text-anchor="end" font-size="8.32" textLength="10.95" lengthAdjust="spacingAndGlyphs">1.5</text>
<text x="33.1" y="191.8" text-anchor="end" font-size="8.32" textLength="10.95" lengthAdjust="spacingAndGlyphs">2.0</text>
<rect x="47.1" y="188.5" width="3.99" height="7.1" fill="#00004c"/>
<rect x="50.79" y="188.5" width="3.99" height="7.1" fill="#00007c"/>
<rect x="54.49" y="188.5" width="3.99" height="7.1" fill="#0000ac"/>
<rect x="58.18" y="188.5" width="3.99" height="7.1" fill="#0000db"/>
<rect x="61.88" y="188.5" width="3.99" height="7.1" fill="#1111ff"/>
<rect x="65.57" y="188.5" width="3.99" height="7.1" fill="#5555ff"/>
<rect x="69.26" y="188.5" width="3.99" height="7.1" fill="#9999ff"/>
<rect x="72.96" y="188.5" width="3.99" height="7.1" fill="#ddddff"/>
<rect x="76.65" y="188.5" width="3.99" height="7.1" fill="#ffdddd"/>
<rect x="80.34" y="188.5" width="3.99" height="7.1" fill="#ff9999"/>
<rect x="84.04" y="188.5" width="3.99" height="7.1" fill="#ff5555"/>
<rect x="87.73" y="188.5" width="3.99" height="7.1" fill="#ff1111"/>
<rect x="91.43" y="188.5" width="3.99" height="7.1" fill="#e60000"/>
<rect x="95.12" y="188.5" width="3.99" height="7.1" fill="#c30000"/>
<rect x="98.81" y="188.5" width="3.99" height="7.1" fill="#a20000"/>
<rect x="102.51" y="188.5" width="3.69" height="7.1" fill="#800000"/>
<path d="M106.2 188.5L109.2 192.05L106.2 195.6Z" fill="#800000"/>
<path d="M47.1 188.5H106.2L109.2 192.05L106.2 195.6H47.1Z" fill="none" stroke="#333" stroke-width="0.58"/>
<path d="M47.1 195.6v2.5M50.79 195.6v1.44M54.49 195.6v1.44M58.18 195.6v1.44M61.88 195.6v2.5M65.57 195.6v1.44M69.26 195.6v1.44M72.96 195.6v1.44M76.65 195.6v2.5M80.34 195.6v1.44M84.04 195.6v1.44M87.73 195.6v1.44M91.43 195.6v2.5M95.12 195.6v1.44M98.81 195.6v1.44M102.51 195.6v1.44M106.2 195.6v2.5" stroke="#000" stroke-width="0.58"/>
<text x="47.1" y="206.8" text-anchor="middle" font-size="8.32" textLength="10.1" lengthAdjust="spacingAndGlyphs">−2</text>
<text x="61.88" y="206.8" text-anchor="middle" font-size="8.32" textLength="10.1" lengthAdjust="spacingAndGlyphs">−1</text>
<text x="76.65" y="206.8" text-anchor="middle" font-size="8.32" textLength="3.99" lengthAdjust="spacingAndGlyphs">0</text>
<text x="91.43" y="206.8" text-anchor="middle" font-size="8.32" textLength="3.99" lengthAdjust="spacingAndGlyphs">1</text>
<text x="106.2" y="206.8" text-anchor="middle" font-size="8.32" textLength="3.99" lengthAdjust="spacingAndGlyphs">2</text>
<text x="50.22" y="217.2" font-size="8.21" textLength="17.22" lengthAdjust="spacingAndGlyphs">MISR</text><text x="70.37" y="217.2" font-size="8.21" textLength="1.94" lengthAdjust="spacingAndGlyphs">-</text><text x="75.25" y="217.2" font-size="8.21" textLength="18.07" lengthAdjust="spacingAndGlyphs">ERA5</text><text x="96.25" y="217.2" font-size="8.21" font-style="italic" textLength="5.23" lengthAdjust="spacingAndGlyphs">w</text>
<text x="61.82" y="226" font-size="8.21" textLength="13.01" lengthAdjust="spacingAndGlyphs">(cm</text><text x="77.76" y="226" font-size="8.21" font-style="italic" textLength="3.07" lengthAdjust="spacingAndGlyphs">s</text><text x="81.38" y="223.12" font-size="5.75" textLength="6.91" lengthAdjust="spacingAndGlyphs">−1</text><text x="88.84" y="226" font-size="8.21" textLength="2.14" lengthAdjust="spacingAndGlyphs">)</text>
<text x="107.54" y="344.1" font-size="8.66" textLength="18.37" lengthAdjust="spacingAndGlyphs">ERA5</text><text x="128.92" y="344.1" font-size="8.66" font-style="italic" textLength="5.29" lengthAdjust="spacingAndGlyphs">w</text><text x="137.22" y="344.1" font-size="8.66" textLength="13.31" lengthAdjust="spacingAndGlyphs">(cm</text><text x="153.54" y="344.1" font-size="8.66" font-style="italic" textLength="3.12" lengthAdjust="spacingAndGlyphs">s</text><text x="157.24" y="341.06" font-size="6.06" textLength="7.06" lengthAdjust="spacingAndGlyphs">−1</text><text x="164.89" y="344.1" font-size="8.66" textLength="2.17" lengthAdjust="spacingAndGlyphs">)</text>
<g transform="rotate(-90 12.5 255.2)"><text x="-17.16" y="255.2" font-size="8.66" textLength="17.7" lengthAdjust="spacingAndGlyphs">MISR</text><text x="3.58" y="255.2" font-size="8.66" font-style="italic" textLength="5.36" lengthAdjust="spacingAndGlyphs">w</text><text x="11.98" y="255.2" font-size="8.66" textLength="13.47" lengthAdjust="spacingAndGlyphs">(cm</text><text x="28.48" y="255.2" font-size="8.66" font-style="italic" textLength="3.17" lengthAdjust="spacingAndGlyphs">s</text><text x="32.23" y="252.16" font-size="6.06" textLength="7.15" lengthAdjust="spacingAndGlyphs">−1</text><text x="39.96" y="255.2" font-size="8.66" textLength="2.2" lengthAdjust="spacingAndGlyphs">)</text></g>
<text x="50.98" y="305.1" font-size="9.58" textLength="10.42" lengthAdjust="spacingAndGlyphs" style="stroke-width:0.2px">(c)</text>
<defs><clipPath id="csd"><rect x="291.6" y="188.4" width="198" height="133.6"/></clipPath></defs>
<g clip-path="url(#csd)">
<path d="M386.5 211h0M389 210.5h0M388.5 213h0M380.5 218h0M384 217h0M391.5 211.5h0" stroke="#c30000" stroke-width="3.2" stroke-linecap="round"/>
<path d="M387 218h0M389.5 217.5h0M385 220.5h0M388 220.5h0M380 221h0M382 221.5h0M393.5 215h0M393 218h0M396.5 210h0M397.5 212.5h0M400 209.5h0M402 212h0M376 225h0M371 227h0M365.5 232h0M373.5 231h0M377.5 229.5h0M368.5 234.5h0M384 222.1h0M383.4 224.3h0M385.8 223.9h0M385.7 224.1h0M385 223.8h0M383.1 222.3h0M381.1 223.2h0" stroke="#e60000" stroke-width="3.2" stroke-linecap="round"/>
<path d="M393 221h0M371.5 235.5h0M376.5 233h0M376 236h0M381 233h0M384 228h0M387 231h0M370 238h0M372 240.5h0M375 240h0M388.9 225.6h0M385.6 226.3h0M390.5 223.1h0M390.7 226.9h0M387.6 224.3h0M385.9 230.8h0M381.8 228.3h0M387.5 231.9h0M388.7 224.8h0M389.5 224.6h0M388.6 228.7h0M390.6 227.4h0M395.9 223.2h0M393 227.5h0M391 227h0M391 226.1h0M395.5 223.4h0M390.1 229.8h0M394.1 226.6h0M401.5 222.4h0M392.4 228.7h0M390.5 225.9h0M392.2 225.2h0M393.1 222.7h0M393.5 222.6h0M397.3 223.5h0M390.5 227.6h0" stroke="#ff1111" stroke-width="3.2" stroke-linecap="round"/>
<path d="M433.5 209h0M414 221h0M371 245h0M367 247h0M364 249.5h0M365 251.5h0M369 251h0M356 255h0M381 237h0M383 240h0M390.7 230.9h0M389.4 231.3h0M373.1 247.4h0M376.2 247.8h0M374.5 243.7h0M384.2 241.8h0M373.3 248h0M375.4 246.3h0M386.6 240.5h0M378.4 242.6h0M378.9 240.6h0M389.5 235.6h0M382.3 238.9h0M387 239.9h0M373.5 247h0M378 246h0M386.1 238.2h0M386.2 238.4h0M389.9 237h0M372.6 247.4h0M372.5 250.4h0M374 242.8h0M377.1 243.4h0M375.7 246.9h0M372.8 250.3h0M373.4 248.1h0M373.7 246.8h0M386.5 240.3h0M371.8 247.8h0M414 222h0M393.9 235.3h0M391.6 230.3h0M394.1 228.3h0M390 233.5h0M403.2 222.7h0M395.9 228.7h0M404.4 229.2h0M398.2 233.3h0M408.9 226.1h0M400.8 226.5h0M406.1 227.3h0M407.3 226.9h0M390.6 233.7h0M398.5 225.5h0M400.1 231.1h0M396.9 227.3h0M391.2 232.8h0M391 234h0M408.7 226h0M400.2 224.1h0M393.9 232.9h0M390.4 233.5h0M394.6 230.7h0M395.6 228.3h0M402.9 228.7h0M390.3 236.3h0M394 235.5h0M401.9 225.5h0M392.9 233.2h0M400 231.2h0M398.7 226.2h0M393.7 230.8h0M402.7 228.5h0M395.6 232.4h0M390.3 236h0M401.1 229.1h0M400.6 230.9h0M340 267.5h0M337 272.5h0M339 272h0M353 257h0M355 257h0M352.5 260.5h0M358.5 260h0M344 265h0M345.5 266h0M345 268.5h0M341 267.5h0M384.8 240.5h0M396 234.7h0M384 241.2h0M389 239.1h0M374.5 248.5h0M392.2 237h0M377.5 246.7h0" stroke="#ff5555" stroke-width="3.2" stroke-linecap="round"/>
<path d="M431.5 213.5h0M425 221.5h0M377.1 249.3h0M385.7 245.1h0M378.3 255h0M373.4 251.1h0M384.4 246.7h0M390.3 239.8h0M380.8 245.9h0M382.4 251.8h0M377.9 251.6h0M390 243.8h0M374.4 253.4h0M384 245.9h0M388.7 241.9h0M384.3 249.1h0M380.4 247.1h0M377.2 249.9h0M384.1 243.4h0M385.2 245.1h0M376.6 254.3h0M383.9 248.1h0M376.7 253.9h0M386.4 242.2h0M376.9 255.5h0M375.3 253h0M381.1 248.8h0M380.7 247.3h0M376.8 252.1h0M375.9 251.8h0M372.8 254.7h0M373.9 250.6h0M374.3 255.9h0M388.8 246.6h0M373.3 251.5h0M385.9 246.8h0M374.2 255.6h0M384.2 248.9h0M381.4 248.7h0M384.1 243.9h0M390.3 243.1h0M381.5 248.4h0M386.6 248.2h0M380.4 250.1h0M381.4 251.6h0M386.3 241.9h0M384 243.4h0M424.5 223h0M415.5 227h0M419 227h0M401.2 232.7h0M407.3 235.3h0M406.3 232.6h0M404.6 235.3h0M392.7 244.4h0M395.1 236.9h0M406.8 228.9h0M407.9 231.5h0M401.1 234.7h0M403 231.9h0M406.9 233h0M397.9 235.9h0M390.5 242h0M407.7 233.3h0M406.4 231.3h0M407.1 228.3h0M401.1 233h0M401.3 232.9h0M400.2 234h0M396 241.9h0M391.1 245.1h0M403.3 233.6h0M409.6 226.6h0M403.8 236.8h0M401.1 238.6h0M395.8 236.3h0M405.1 229.6h0M403.1 230.7h0M390.4 246.2h0M403.8 237.5h0M393 241.2h0M390.1 245.4h0M409.5 230.9h0M408.6 232.6h0M401.6 231.2h0M402.1 233.4h0M410.4 227.4h0M402.5 232.3h0M395.3 237h0M407 235.2h0M392.3 245.7h0M391.8 243.8h0M403.1 236.4h0M411.5 231.1h0M392.6 244.1h0M401.5 235.7h0M392.4 242.1h0M399.2 234.4h0M396.2 235.4h0M335.5 276.5h0M362 260.5h0M363 263h0M364 264h0M350 269h0M349.5 271h0M353 265.5h0M356.5 266h0M342.5 273.5h0M400.7 234.1h0M379.8 246.3h0M400.3 237.7h0M384.6 247.8h0M401.9 237.2h0M404.8 231.9h0M398.2 237h0M404.7 233.2h0M400.4 234.7h0M394.6 241h0M392.3 244.7h0M393.9 238.4h0M394.9 240.8h0M377.6 248.2h0M386.9 244.4h0M412.4 229h0M402.5 238.4h0M410.6 233.1h0M380.4 252.6h0M415 227.1h0M401.6 235.1h0M400.5 236.1h0M420.9 224.9h0M393.9 244.3h0M415 227.7h0M394.2 241.8h0M394.5 242h0M386.5 243.1h0M385.8 246.8h0M406.8 233.9h0M380.4 245.9h0M417.8 225.9h0M391.4 244.8h0M402.2 232.6h0" stroke="#ff9999" stroke-width="3.2" stroke-linecap="round"/>
<path d="M438 220h0M430 221.5h0M442.2 215.2h0M440 219.5h0M380.4 255.1h0M390.6 252.5h0M390.9 254.3h0M386.4 251.2h0M385 252.8h0M383.6 253.2h0M390.8 254.4h0M389.5 248.4h0M388 254.2h0M389.1 254.1h0M388.8 249.6h0M426 228h0M428 226h0M431 223h0M399.7 243.1h0M416.3 232.8h0M415.2 237.6h0M395.8 248.1h0M411.3 238.7h0M391.9 246.1h0M394.2 245.3h0M405.9 241.7h0M391 254.5h0M390.9 249.4h0M409.8 240.8h0M400.7 245.9h0M411.7 234.5h0M415.8 237.3h0M409.9 242h0M404.7 239.2h0M395.5 243.8h0M390.6 254.2h0M403.8 238h0M418.8 234.1h0M390.5 248.1h0M409.4 240.5h0M411.8 236.8h0M407.4 240.6h0M393.3 248.6h0M419.1 233.5h0M394.3 251.2h0M415.8 233h0M395.1 246.2h0M417.4 233.9h0M406.2 236.5h0M398.4 245.6h0M413.8 236.3h0M417.5 235.6h0M405.7 236.8h0M414.3 233.7h0M418.9 235.4h0M406.2 239.1h0M394.8 247.4h0M393.5 247.7h0M400.4 243.9h0M393.8 250.5h0M395.7 249.6h0M412.4 232.9h0M396.7 250.9h0M400.4 241.9h0M415.1 233h0M408.4 236.1h0M391.8 249.7h0M392.3 249.9h0M402 241.2h0M411.5 240.9h0M403 239h0M414.6 237.1h0M418.8 235.8h0M395.2 244.6h0M391.5 251.5h0M368.5 262.5h0M373.5 259h0M379 258h0M395.9 244.4h0M403.6 239.6h0M415.7 237.5h0M398.7 245.2h0M382.5 252.8h0M414.8 232.2h0M410.8 238.4h0M417.1 233.8h0M405.5 244.2h0M416.7 232.4h0M386.9 255.6h0M413.7 238.9h0M414.1 231.9h0M390.2 252.3h0M409.2 241.8h0M411.5 237h0M421.6 227.1h0M392.1 250.2h0M398.1 244.7h0M405 238.1h0M400.5 247.6h0M388.5 250.4h0M408.6 237.1h0M395.6 244.8h0M423.2 230h0M419.5 233.3h0M415.7 230.5h0M397 245.3h0M412.1 234.5h0M390.1 253.6h0M412.9 233h0M424.7 232h0M401.6 242.5h0M411.9 236.5h0M416.3 233.9h0M419.6 235.2h0M400 248.6h0M416.8 231.1h0M415.3 232.3h0M405.6 242.6h0M400.2 244.7h0M411.9 238.9h0M422.2 233.4h0M394.6 245.2h0M390.8 249.7h0M405.9 242.2h0M407 242.5h0M386.3 250.8h0" stroke="#ffdddd" stroke-width="3.2" stroke-linecap="round"/>
<path d="M450.5 215.8h0M436 228h0M412.6 244.4h0M407.7 245.9h0M405.7 245.5h0M414.7 244.2h0M418.2 239h0M401.3 251h0M418.3 239.6h0M404.9 253.7h0M418.7 240.9h0M394.2 253.3h0M417.8 241.9h0M423.5 236h0M417.9 241h0M393.2 254.2h0M417.7 243.5h0M413.4 244.1h0M406 252.6h0M407.3 250.4h0M410.5 246.9h0M419 240.1h0M420.7 241.5h0M407.9 245.3h0M403.4 249.8h0M418.7 236.9h0M418 244.6h0M398.4 251.6h0M417 240.9h0M394.7 255.1h0M404.3 248.5h0M411.3 241.3h0M405.4 246.1h0M411.8 241.1h0M403.6 250.3h0M414.7 240.9h0M396.9 252.5h0M412.8 243.8h0M402.9 253.2h0M411.3 245.6h0M417.5 242.4h0M405.7 250.3h0M401.2 253.8h0M420.1 242.6h0M406.1 252.8h0M409.8 249.9h0M400.3 251.3h0M408.6 243.6h0M405.1 246.1h0M421.1 239.5h0M404.4 251.9h0M409.4 250.8h0M415.6 240.5h0M416.6 244.5h0M392.8 255h0M423 239h0M408.5 244.8h0M412.3 246.9h0M398.2 252.7h0M414.9 242.8h0M423.2 236.2h0M403.2 249.9h0M411.5 241.1h0M394.8 258.4h0M396.1 258.7h0M393.4 260.7h0M391.4 255.8h0M395.5 259.8h0M392.7 261.2h0M394.5 255h0M395.9 259.8h0M394.5 255.1h0M396.9 255.8h0M390.3 262.6h0M396.5 256.8h0M392.3 259.5h0M392.8 260.1h0M392.4 261h0M394 256.5h0M393.6 259h0M392 258.8h0M392.1 257.3h0M397.7 257.1h0M393.6 261.2h0M400.1 255.7h0M404.1 246.5h0M421.3 235h0M399.9 251.2h0M403.7 252.4h0M425.8 231.7h0M399.6 250.3h0M398.4 253h0M405.1 246.2h0M421.2 236.6h0M399.3 252.2h0M412.9 244h0M406.2 246.4h0M410.9 247.7h0M396.9 254.2h0M407.7 248.1h0M407.5 249.3h0M398.4 251.7h0M422.7 235.4h0M410.4 247.2h0M409.3 246.5h0M410 245h0M402.1 250.9h0M421.5 241h0M423.1 234.9h0M416.3 246.1h0M407.4 250h0M397 252.5h0M422.9 234.7h0M415.3 241.6h0M395.4 253.7h0" stroke="#ddddff" stroke-width="3.2" stroke-linecap="round"/>
<path d="M439 232.5h0M430.5 243h0M417.2 246.7h0M424 241.4h0M420.8 250.2h0M417 247.1h0M418.5 253.1h0M413.8 252.6h0M424.7 242.2h0M418.8 247.7h0M415.9 254.3h0M421.4 247.2h0M415.2 253.9h0M411.9 249.4h0M421.2 243.7h0M423.8 244.8h0M423.2 242h0M427.7 246.2h0M423.4 249.6h0M412 251h0M417.5 249.6h0M409.3 254.6h0M424.2 249h0M425.7 247h0M411.7 254.3h0M422.1 247.6h0M414.9 248.1h0M418.6 252.3h0M414.9 249.3h0M408 253.3h0M407.4 254.7h0M405.1 256h0M418.4 251.2h0M413.4 253.7h0M425.9 246.9h0M417.8 250.4h0M426 246.4h0M420.3 247.7h0M413 249h0M421.6 250.6h0M421.9 244.3h0M407.5 255.4h0M419.3 248.8h0M418.3 251.6h0M425.3 247h0M424.8 244.9h0M412.9 252.5h0M416.1 254.2h0M413.5 252.5h0M420.1 249h0M421.6 248.1h0M416.2 253.6h0M386.5 267.5h0M382 271.5h0M385.5 274h0M390 270h0M405.8 261h0M401.6 256.4h0M401.2 257.5h0M394.4 261.3h0M393.4 262.3h0M399.7 258.6h0M397.1 264.5h0M399.5 261.1h0M399.9 261.2h0M400.2 259.5h0M396.4 263.9h0M400.1 261.5h0M397 262.4h0M402.6 263.8h0M406 256.2h0M406 260.8h0M398.5 262.7h0M405.6 261.1h0M404.2 259.2h0M406.8 258.5h0M400.5 260.3h0M405.4 255.3h0M405 256.4h0M404.1 260.7h0M397.3 259.2h0M399.2 262.8h0M406.6 255.7h0M408.4 258.4h0M400.1 264.4h0M400.1 263.8h0M390.9 263.8h0M408.3 256.4h0M396.1 262.9h0M393.6 266.6h0M395.6 264.8h0M390.3 267.4h0M392.8 269.6h0M391.1 266.1h0M392.5 268.8h0M396.2 267.9h0M395.6 265.7h0M392.2 267.7h0M415.7 246.8h0" stroke="#9999ff" stroke-width="3.2" stroke-linecap="round"/>
<path d="M429.3 253h0M430.6 249.5h0M430.1 246.4h0M419.9 253.7h0M430.6 249.1h0M421.9 254.9h0M429.1 252.1h0M421.8 254.1h0M419.7 254.8h0M424 252h0M426.4 249.2h0M427.2 251.5h0M428.8 246.2h0M428.9 246.8h0M431.4 246.8h0M424.4 253.4h0M419.4 255.7h0M428.4 248.9h0M426.6 255.9h0M420.4 253.2h0M429.2 248.8h0M431 247.7h0M428.9 253h0M426.5 255.3h0M425.7 249h0M421.2 255.2h0M420.3 255.3h0M428.5 248.6h0M429.9 249.5h0M421.7 254h0M426.2 249.8h0M389 273h0M390 275h0M420.6 258.8h0M407.9 262h0M417.4 255.3h0M410.5 262h0M409.4 267.5h0M413.5 264.6h0M402.3 269.2h0M420.9 259.1h0M404.4 264.3h0M403.3 264.3h0M401.9 265h0M421.3 256.2h0M414.6 262.5h0M419.1 258.3h0M415.8 261.4h0M403.8 263.6h0M408.1 267.4h0M420.4 258.1h0M415.6 258h0M404.6 264.3h0M408.6 262.7h0M412 264.4h0M402.5 267h0M418.1 261.2h0M407.9 268.4h0M412.5 259.7h0M407.4 261.8h0M404.8 263.2h0M417.7 258.5h0M416 262.2h0M405.3 268.9h0M416.8 257.6h0M412.8 258.1h0M404.9 268.9h0M397.1 270.4h0M397.9 273.6h0M398.8 274.6h0M393.3 276.5h0M400.5 273.5h0M394.6 269.5h0M393.8 277.5h0M393.8 272.6h0M392.9 277.3h0M392.4 273.6h0M397.3 274.8h0M392.7 273.1h0M400.8 269.7h0M396.5 273.1h0M391.4 273.8h0M393.3 276h0M398.7 271.6h0M394.4 269.5h0M402 270.5h0" stroke="#5555ff" stroke-width="3.2" stroke-linecap="round"/>
<path d="M425 259.5h0M427.5 262.5h0M428 256h0M414 264.5h0M420 264.5h0M413 269.5h0M415.2 264.2h0M417.3 266h0M419.7 262.2h0M420.4 262.1h0M417.7 267.2h0M406.8 270.1h0M417.9 262h0M414.7 265h0M417.5 263.2h0M413.5 266.5h0M412.8 269.1h0M418.1 262.5h0M400.1 279.1h0M399.5 276h0M399.8 278.2h0M398.4 278.8h0M401.2 275h0M406.7 274.3h0M403 274.4h0M397.1 279.5h0M399.4 282.1h0M408.6 273h0M405.6 275.3h0M403.1 277.1h0M404.2 273.2h0" stroke="#1111ff" stroke-width="3.2" stroke-linecap="round"/>
<path d="M430 265h0M432 265.5h0M431 268h0M420 269h0M425 267h0M417.5 272.5h0M427 272h0M421 275.2h0M421.2 275.1h0M415.1 274.8h0M401.7 281.9h0M419.1 274.1h0M408 278.3h0M410.3 280h0M406.5 280.5h0M404.7 280h0M405.7 280.9h0M411.6 276.9h0M402 281.4h0M414.3 276.9h0M401.2 282.7h0M400.3 282.2h0M404.8 281.2h0M406.2 279.2h0M409.2 277.4h0M421.3 273.3h0M417 275.3h0M406.2 278.5h0M411.1 278h0M409.6 278.2h0M403.5 282.5h0M415.1 277.9h0M413.5 277.2h0M404.6 279.2h0M424.2 272.9h0M413.2 277.6h0M419.9 272.5h0M410.6 276.7h0" stroke="#0000db" stroke-width="3.2" stroke-linecap="round"/>
<path d="M291.6 255.2H489.6" stroke="#000" stroke-width="1.1" stroke-dasharray="4 1.715"/>
<path d="M390.6 188.4V322" stroke="#000" stroke-width="1.1" stroke-dasharray="4.16 1.8"/>
</g>
<rect x="291.6" y="188.4" width="198" height="133.6" fill="none" stroke="#000" stroke-width="0.58"/>
<path d="M291.6 322v2.5M316.35 322v2.5M341.1 322v2.5M365.85 322v2.5M390.6 322v2.5M415.35 322v2.5M440.1 322v2.5M464.85 322v2.5M489.6 322v2.5" stroke="#000" stroke-width="0.58"/>
<text x="291.6" y="333.1" text-anchor="middle" font-size="8.32" textLength="17.07" lengthAdjust="spacingAndGlyphs">−2.0</text>
<text x="316.35" y="333.1" text-anchor="middle" font-size="8.32" textLength="17.07" lengthAdjust="spacingAndGlyphs">−1.5</text>
<text x="341.1" y="333.1" text-anchor="middle" font-size="8.32" textLength="17.07" lengthAdjust="spacingAndGlyphs">−1.0</text>
<text x="365.85" y="333.1" text-anchor="middle" font-size="8.32" textLength="17.07" lengthAdjust="spacingAndGlyphs">−0.5</text>
<text x="390.6" y="333.1" text-anchor="middle" font-size="8.32" textLength="10.95" lengthAdjust="spacingAndGlyphs">0.0</text>
<text x="415.35" y="333.1" text-anchor="middle" font-size="8.32" textLength="10.95" lengthAdjust="spacingAndGlyphs">0.5</text>
<text x="440.1" y="333.1" text-anchor="middle" font-size="8.32" textLength="10.95" lengthAdjust="spacingAndGlyphs">1.0</text>
<text x="464.85" y="333.1" text-anchor="middle" font-size="8.32" textLength="10.95" lengthAdjust="spacingAndGlyphs">1.5</text>
<text x="489.6" y="333.1" text-anchor="middle" font-size="8.32" textLength="10.95" lengthAdjust="spacingAndGlyphs">2.0</text>
<path d="M291.6 322h-2.5M291.6 305.3h-2.5M291.6 288.6h-2.5M291.6 271.9h-2.5M291.6 255.2h-2.5M291.6 238.5h-2.5M291.6 221.8h-2.5M291.6 205.1h-2.5M291.6 188.4h-2.5" stroke="#000" stroke-width="0.58"/>
<text x="286.3" y="325.4" text-anchor="end" font-size="8.32" textLength="17.07" lengthAdjust="spacingAndGlyphs">−2.0</text>
<text x="286.3" y="308.7" text-anchor="end" font-size="8.32" textLength="17.07" lengthAdjust="spacingAndGlyphs">−1.5</text>
<text x="286.3" y="292" text-anchor="end" font-size="8.32" textLength="17.07" lengthAdjust="spacingAndGlyphs">−1.0</text>
<text x="286.3" y="275.3" text-anchor="end" font-size="8.32" textLength="17.07" lengthAdjust="spacingAndGlyphs">−0.5</text>
<text x="286.3" y="258.6" text-anchor="end" font-size="8.32" textLength="10.95" lengthAdjust="spacingAndGlyphs">0.0</text>
<text x="286.3" y="241.9" text-anchor="end" font-size="8.32" textLength="10.95" lengthAdjust="spacingAndGlyphs">0.5</text>
<text x="286.3" y="225.2" text-anchor="end" font-size="8.32" textLength="10.95" lengthAdjust="spacingAndGlyphs">1.0</text>
<text x="286.3" y="208.5" text-anchor="end" font-size="8.32" textLength="10.95" lengthAdjust="spacingAndGlyphs">1.5</text>
<text x="286.3" y="191.8" text-anchor="end" font-size="8.32" textLength="10.95" lengthAdjust="spacingAndGlyphs">2.0</text>
<rect x="295.6" y="188.5" width="4.01" height="7.1" fill="#00004c"/>
<rect x="299.31" y="188.5" width="4.01" height="7.1" fill="#00007c"/>
<rect x="303.03" y="188.5" width="4.01" height="7.1" fill="#0000ac"/>
<rect x="306.74" y="188.5" width="4.01" height="7.1" fill="#0000db"/>
<rect x="310.45" y="188.5" width="4.01" height="7.1" fill="#1111ff"/>
<rect x="314.16" y="188.5" width="4.01" height="7.1" fill="#5555ff"/>
<rect x="317.88" y="188.5" width="4.01" height="7.1" fill="#9999ff"/>
<rect x="321.59" y="188.5" width="4.01" height="7.1" fill="#ddddff"/>
<rect x="325.3" y="188.5" width="4.01" height="7.1" fill="#ffdddd"/>
<rect x="329.01" y="188.5" width="4.01" height="7.1" fill="#ff9999"/>
<rect x="332.73" y="188.5" width="4.01" height="7.1" fill="#ff5555"/>
<rect x="336.44" y="188.5" width="4.01" height="7.1" fill="#ff1111"/>
<rect x="340.15" y="188.5" width="4.01" height="7.1" fill="#e60000"/>
<rect x="343.86" y="188.5" width="4.01" height="7.1" fill="#c30000"/>
<rect x="347.57" y="188.5" width="4.01" height="7.1" fill="#a20000"/>
<rect x="351.29" y="188.5" width="3.71" height="7.1" fill="#800000"/>
<path d="M355 188.5L357.9 192.05L355 195.6Z" fill="#800000"/>
<path d="M295.6 188.5H355L357.9 192.05L355 195.6H295.6Z" fill="none" stroke="#333" stroke-width="0.58"/>
<path d="M295.6 195.6v2.5M299.31 195.6v1.44M303.03 195.6v1.44M306.74 195.6v1.44M310.45 195.6v2.5M314.16 195.6v1.44M317.88 195.6v1.44M321.59 195.6v1.44M325.3 195.6v2.5M329.01 195.6v1.44M332.73 195.6v1.44M336.44 195.6v1.44M340.15 195.6v2.5M343.86 195.6v1.44M347.57 195.6v1.44M351.29 195.6v1.44M355 195.6v2.5" stroke="#000" stroke-width="0.58"/>
<text x="295.6" y="206.8" text-anchor="middle" font-size="8.32" textLength="10.1" lengthAdjust="spacingAndGlyphs">−2</text>
<text x="310.45" y="206.8" text-anchor="middle" font-size="8.32" textLength="10.1" lengthAdjust="spacingAndGlyphs">−1</text>
<text x="325.3" y="206.8" text-anchor="middle" font-size="8.32" textLength="3.99" lengthAdjust="spacingAndGlyphs">0</text>
<text x="340.15" y="206.8" text-anchor="middle" font-size="8.32" textLength="3.99" lengthAdjust="spacingAndGlyphs">1</text>
<text x="355" y="206.8" text-anchor="middle" font-size="8.32" textLength="3.99" lengthAdjust="spacingAndGlyphs">2</text>
<text x="297.22" y="217.2" font-size="8.21" textLength="17.19" lengthAdjust="spacingAndGlyphs">MISR</text><text x="317.34" y="217.2" font-size="8.21" textLength="1.94" lengthAdjust="spacingAndGlyphs">-</text><text x="322.2" y="217.2" font-size="8.21" textLength="18.04" lengthAdjust="spacingAndGlyphs">ERA5</text><text x="343.17" y="217.2" font-size="8.21" font-style="italic" textLength="5.22" lengthAdjust="spacingAndGlyphs">w</text><text x="348.94" y="218.78" font-size="5.75" font-style="italic" textLength="2.63" lengthAdjust="spacingAndGlyphs">e</text>
<text x="310.32" y="226" font-size="8.21" textLength="13.01" lengthAdjust="spacingAndGlyphs">(cm</text><text x="326.26" y="226" font-size="8.21" font-style="italic" textLength="3.07" lengthAdjust="spacingAndGlyphs">s</text><text x="329.88" y="223.12" font-size="5.75" textLength="6.91" lengthAdjust="spacingAndGlyphs">−1</text><text x="337.34" y="226" font-size="8.21" textLength="2.14" lengthAdjust="spacingAndGlyphs">)</text>
<text x="359.34" y="344.1" font-size="8.66" textLength="18.33" lengthAdjust="spacingAndGlyphs">ERA5</text><text x="380.67" y="344.1" font-size="8.66" font-style="italic" textLength="5.28" lengthAdjust="spacingAndGlyphs">w</text><text x="386.53" y="345.77" font-size="6.06" font-style="italic" textLength="2.66" lengthAdjust="spacingAndGlyphs">e</text><text x="392.09" y="344.1" font-size="8.66" textLength="13.28" lengthAdjust="spacingAndGlyphs">(cm</text><text x="408.37" y="344.1" font-size="8.66" font-style="italic" textLength="3.12" lengthAdjust="spacingAndGlyphs">s</text><text x="412.07" y="341.06" font-size="6.06" textLength="7.05" lengthAdjust="spacingAndGlyphs">−1</text><text x="419.7" y="344.1" font-size="8.66" textLength="2.16" lengthAdjust="spacingAndGlyphs">)</text>
<g transform="rotate(-90 264.7 255.2)"><text x="233.14" y="255.2" font-size="8.66" textLength="17.88" lengthAdjust="spacingAndGlyphs">MISR</text><text x="254.08" y="255.2" font-size="8.66" font-style="italic" textLength="5.42" lengthAdjust="spacingAndGlyphs">w</text><text x="260.09" y="256.87" font-size="6.06" font-style="italic" textLength="2.74" lengthAdjust="spacingAndGlyphs">e</text><text x="265.78" y="255.2" font-size="8.66" textLength="13.6" lengthAdjust="spacingAndGlyphs">(cm</text><text x="282.44" y="255.2" font-size="8.66" font-style="italic" textLength="3.21" lengthAdjust="spacingAndGlyphs">s</text><text x="286.22" y="252.16" font-size="6.06" textLength="7.22" lengthAdjust="spacingAndGlyphs">−1</text><text x="294.03" y="255.2" font-size="8.66" textLength="2.23" lengthAdjust="spacingAndGlyphs">)</text></g>
<text x="304.78" y="305.1" font-size="9.58" textLength="11.13" lengthAdjust="spacingAndGlyphs" style="stroke-width:0.2px">(d)</text>
<defs><clipPath id="cse"><rect x="38.4" y="360" width="198" height="133.4"/></clipPath></defs>
<g clip-path="url(#cse)">
<path d="M113 480.1h0M154.9 431.8h0M101.2 437.6h0M138.3 449.3h0M154.5 462.6h0M140.6 436.2h0M148 458.9h0M94.5 474.6h0M135.7 420.6h0M125.4 462.4h0M158 437.8h0M139.3 451.1h0M115.3 457.1h0M115.9 458.3h0M122.9 453.4h0M136 442.9h0M103.5 480.6h0" stroke="#643f3f" stroke-width="3.2" stroke-linecap="round"/>
<path d="M90.8 416.9h0M154.1 435.8h0M73.2 425.1h0M125.6 433.1h0M81.1 412.9h0M103 477.1h0M143.4 442.2h0M125.2 460.9h0M150.1 435.9h0M136.2 434.7h0M156.7 437.3h0M154.8 433.9h0M95 433.3h0M150.3 435h0M169.5 443.6h0M150.5 431.8h0M112 403.1h0M131.5 436.6h0M88.9 415.1h0M91.4 421.1h0M164.5 436.8h0M120.9 427.5h0M107.5 416.1h0M111.1 455.4h0" stroke="#c17e7e" stroke-width="3.2" stroke-linecap="round"/>
<path d="M149.5 453.4h0M129.4 430.1h0M111 399.1h0M100.9 431.1h0M125.1 448.3h0M97.8 437.9h0M178 408.1h0M103.5 439h0M118 415.1h0M123.4 459.4h0M128.9 418.5h0M139.9 431.1h0M102.2 425.9h0M141.5 452.8h0M166 424.6h0M133 389.6h0M77 457.8h0M115 489.1h0M181 404.1h0M208 386.8h0M115 410.1h0M151.1 429.5h0M143.4 443.3h0M118 411.6h0M126 448.9h0M126.4 422.3h0" stroke="#cb9d8c" stroke-width="3.2" stroke-linecap="round"/>
<path d="M134.8 457.6h0M131 401.1h0M65.5 428.1h0M115 413.6h0M134.5 423.3h0M127.4 445.1h0M110.5 472.1h0M154.4 442h0M121.1 446.5h0M132.3 456.1h0M111.5 454.5h0M92.8 421.6h0M120.6 413.2h0M165 427.1h0M128.2 449.4h0M161.5 413.1h0" stroke="#decfa6" stroke-width="3.2" stroke-linecap="round"/>
<path d="M125.7 452.7h0M155.5 414.1h0M155.9 447.7h0M146.1 459.2h0M146.5 457.9h0M140 450.2h0M114.5 481.6h0M137.9 444.3h0M155.6 442.4h0M129.3 419.2h0M154.1 451h0M124.2 457.8h0M176.8 388.8h0M151.5 450.9h0M153.8 453.4h0M89.2 431.6h0M94.4 422.9h0M158 415.1h0" stroke="#d5b89a" stroke-width="3.2" stroke-linecap="round"/>
<path d="M112.4 451.5h0M108.9 460h0M97.6 434h0M133.4 466.4h0M111.1 445.1h0M158 410.1h0M103.4 443.6h0M134.8 429.1h0M96.5 436.2h0M113.9 439.1h0M99 439h0M135.1 448.8h0M150.3 437.9h0M154.2 433.5h0M122.3 420.4h0" stroke="#e7e4b2" stroke-width="3.2" stroke-linecap="round"/>
<path d="M114.5 396.6h0M92.6 411h0M117.6 453.9h0M124.6 446.1h0M117.6 462.4h0M127.7 454.2h0M121.3 449.2h0M135.5 459.7h0M120.1 445.5h0M84.5 486.4h0M149 493.1h0M133.9 441h0M160 469.1h0" stroke="#1e0000" stroke-width="3.2" stroke-linecap="round"/>
<path d="M77.5 431.1h0M100.5 408.6h0M161.4 441.1h0M94.7 432.9h0M69 425.4h0M105.3 439.9h0M123.9 407.7h0M118.7 437.6h0M94.2 420.8h0M137.5 426.7h0M128.1 435.2h0" stroke="#efefcc" stroke-width="3.2" stroke-linecap="round"/>
<path d="M144.2 430.9h0M107.2 431.9h0M153 403.6h0M130 417.1h0M150.5 431.1h0M112.5 465.5h0M116.9 424.4h0M176 427.1h0M153.3 453.6h0M86 450.6h0M152 461.1h0M137.2 425.6h0M135.5 440.9h0M100.5 414.8h0M70.2 435.8h0" stroke="#a86d6d" stroke-width="3.2" stroke-linecap="round"/>
<path d="M138.9 443.3h0M137.4 435.9h0M151.6 438.9h0M103.5 436.5h0M137.9 452.5h0" stroke="#ffffff" stroke-width="3.2" stroke-linecap="round"/>
<path d="M140.7 429.6h0M152 438.1h0M142 446.2h0M98.1 423.1h0M186 423.1h0M150.2 453.2h0M160.8 430h0M126.6 467.7h0M86.5 433.6h0M150 385.4h0" stroke="#8a5959" stroke-width="3.2" stroke-linecap="round"/>
<path d="M165.8 435.1h0M91.8 419.2h0M92.9 431.2h0M96.1 422.7h0M139.3 436.3h0M96.5 409.2h0M137.5 416.6h0M97.8 423.1h0M116.9 438.3h0M128.2 432.9h0M131 433.9h0M149.7 456.1h0M82 421h0M97.2 436.2h0M103.4 433.3h0" stroke="#f7f7e7" stroke-width="3.2" stroke-linecap="round"/>
<path d="M99.5 412.7h0M138.9 445h0M112.6 430.2h0M129 472.1h0M99 476.6h0M133.8 432h0M153 454.8h0M128.7 453.6h0M104.5 470.6h0M122 481.1h0M137.5 455.7h0M114 466.6h0M144.8 457.4h0M130.6 451.6h0" stroke="#643f3f" stroke-width="3.2" stroke-linecap="round"/>
<path d="M136.8 466.2h0M158.2 378.6h0M153.3 436h0M114.7 429.7h0M88.7 432h0M156.6 447.5h0M148.9 454.4h0M78 426.9h0M113 418.1h0" stroke="#ffffff" stroke-width="3.2" stroke-linecap="round"/>
<path d="M135 475.6h0M97.5 414.6h0M124.9 421.4h0M116.5 423.2h0M145.2 459.3h0M172.5 420.1h0M108.6 455h0M116.2 451.4h0M124.5 479.6h0M150 446.7h0M120.7 440.2h0M108.6 439.9h0M186 409.1h0M144.7 447.5h0M97.7 425h0M106.5 481.6h0M149.8 449.7h0M136.7 437.2h0M101.7 409.6h0M115.6 428.3h0M137.7 446.4h0" stroke="#c17e7e" stroke-width="3.2" stroke-linecap="round"/>
<path d="M125.1 468.5h0M133.8 453.2h0M90.9 418.2h0M92.4 435.4h0M130 451.6h0M147.6 440.2h0M144.9 451.3h0M122.9 465.2h0M124.3 425.8h0M145 442h0M128.3 428.3h0M152.8 456.6h0M82 420.1h0M137.8 451.4h0M128 468.1h0M159.3 438.1h0" stroke="#a86d6d" stroke-width="3.2" stroke-linecap="round"/>
<path d="M149 439.8h0M167 430h0M96.7 426.9h0M89 480.1h0M121.2 445.6h0M107.7 417.7h0M161.7 434h0M148 479.6h0M139 434.9h0M125.1 464h0M92.9 432.9h0M139.1 435.6h0M117.4 408.3h0M179 435.6h0M146 459.6h0M153.8 447.5h0M90.6 429.8h0M135.4 459.9h0M106.5 446.6h0M113.3 445.9h0M120 409.1h0M155.9 436.4h0M98.3 422.4h0M111.7 446.6h0M126.5 465.8h0" stroke="#cb9d8c" stroke-width="3.2" stroke-linecap="round"/>
<path d="M103.6 441h0M104.3 422.9h0M165 438.6h0M106.4 423.7h0M133.8 431.9h0M120 432.4h0M115.6 431.5h0M94.6 428h0M139 418.6h0M119.5 406.6h0M143.1 447.5h0M123.5 425.5h0M104 435.7h0M99.1 424.5h0" stroke="#e7e4b2" stroke-width="3.2" stroke-linecap="round"/>
<path d="M107.4 437.2h0M140.4 441.9h0M177.5 405.1h0M146.4 445.3h0M109.3 420h0M129.9 416.4h0M122.2 445.5h0M107.3 441.1h0M140.5 420.6h0M124 475.6h0M101.4 437.5h0M159.2 440.4h0M84 422.1h0M174.5 436.1h0M140.5 452.6h0M92 417.8h0M174.5 386.8h0M126.1 421.4h0M107.8 417.8h0M93.4 416h0M145.3 458.3h0M88.5 443.1h0M137 428.9h0" stroke="#decfa6" stroke-width="3.2" stroke-linecap="round"/>
<path d="M81.5 456.1h0M145.7 452.7h0M176.5 425.1h0M93 417.4h0M131.3 426.6h0M127.6 419.7h0M111.3 431.2h0M131.3 451h0M150.1 451.9h0M138.8 433h0M139.6 436.8h0M108.1 433.5h0" stroke="#efefcc" stroke-width="3.2" stroke-linecap="round"/>
<path d="M124.6 454.8h0M112.8 427.2h0M131.4 459.9h0M103.5 417.6h0M96.3 431.9h0M153 407.6h0M137.3 432.4h0M100.1 428.7h0M96.6 424.3h0M150.4 455.3h0" stroke="#f7f7e7" stroke-width="3.2" stroke-linecap="round"/>
<path d="M164 439.6h0M151.8 393.1h0M145.8 436.5h0M119.1 458.8h0M107 407.1h0M106.6 424.1h0M78 426.1h0M149 441h0M116.1 423.4h0M115.9 466.2h0M122.7 423.7h0M119.4 433.2h0M113.8 458.9h0M163.4 441.7h0M139.4 453h0M125.3 463.1h0M125.1 464.3h0M90.2 428.2h0M92.8 421.7h0M117.1 434.5h0" stroke="#d5b89a" stroke-width="3.2" stroke-linecap="round"/>
<path d="M144.4 434.7h0M144.7 459.7h0M153 440h0M143.4 428.2h0M175 431.6h0M147.1 457h0M97.5 416.6h0M146.8 457h0M93.7 421.8h0" stroke="#8a5959" stroke-width="3.2" stroke-linecap="round"/>
<path d="M141.8 443.4h0M166.8 435.3h0M149 456.6h0M134.3 458.9h0M127.2 438.4h0M121.2 466h0M139.4 449.7h0M123 410.6h0M113.9 441.4h0M160.9 446.4h0M153 455.6h0M121.8 407.5h0M117.5 461.6h0" stroke="#1e0000" stroke-width="3.2" stroke-linecap="round"/>
<path d="M155 443.6h0M104.7 418.5h0M117.4 445.5h0M122 421.8h0M113.9 427.5h0M166.9 434.1h0M122.5 401.4h0M89.8 424.6h0M121 392.6h0M101 457.1h0M120.1 434.6h0M117.8 433.1h0M148.7 450.6h0M121 424.2h0M160.9 435.5h0M145.5 452.7h0" stroke="#c17e7e" stroke-width="3.2" stroke-linecap="round"/>
<path d="M151.6 451.6h0M101.7 427h0M137.5 443.7h0M115.7 419.9h0M142.8 437.8h0M101.5 461.6h0M141 415.1h0M111 408.4h0M80.5 436.1h0M131.2 429.6h0M122 467.6h0M132.7 419.6h0M122.1 441.5h0" stroke="#e7e4b2" stroke-width="3.2" stroke-linecap="round"/>
<path d="M143.5 422.1h0M133.7 453.5h0M168 417.1h0M98.1 430.1h0M129.4 446.8h0M149 462.1h0M122.6 438.1h0M70 416.1h0M150.2 447h0M119.6 449.1h0M122.3 452.3h0M108.5 431.5h0M161.5 442.6h0M138.1 443.7h0M140.4 439.1h0M155 459.6h0M152 393.6h0M148 436.7h0" stroke="#8a5959" stroke-width="3.2" stroke-linecap="round"/>
<path d="M88.2 415.6h0M146.5 444.2h0M105 468.1h0M119.2 404.8h0M94.2 413.3h0M128.5 431h0M140.7 436.3h0M150 458.8h0M122.2 420.7h0M185 438.6h0M137.9 430.3h0M150.2 450.8h0M153.4 433.3h0M113.4 450.2h0M105.5 426.4h0M152.5 427.9h0M132.9 450.8h0M138.1 449.3h0M127.4 424.9h0M140 455.5h0M122.4 440h0M94.1 418.8h0M95 441.1h0M162.4 442.8h0" stroke="#cb9d8c" stroke-width="3.2" stroke-linecap="round"/>
<path d="M122.9 422.3h0M115.5 423.5h0M126.5 441.6h0M119.8 417.5h0M146.9 459.9h0M157.3 434.5h0M109.9 440.7h0M101 414.1h0M135.8 433.7h0M121.4 429.8h0M149 441h0M124.1 452.3h0M100.2 426.1h0M148.9 453.2h0M97 403.1h0M145.8 451h0M127.5 440.8h0M103.5 452.1h0" stroke="#f7f7e7" stroke-width="3.2" stroke-linecap="round"/>
<path d="M135 417.1h0M133.4 433.2h0M128.1 422.3h0M103.7 425.2h0M161 420.6h0M132.1 437.5h0M103.8 439.7h0M98.8 422.3h0M124.7 429.5h0M152 428.9h0M120.1 440.6h0M93.4 435.3h0M111.2 435.5h0M108.7 412.7h0M117.6 412.8h0M110.6 427h0M114.7 437.5h0M144.1 444.4h0M133.7 426.5h0M112.2 432h0M143.9 435h0" stroke="#efefcc" stroke-width="3.2" stroke-linecap="round"/>
<path d="M105.5 443.8h0M131.5 424.9h0M153.1 450.1h0M151.5 414.1h0M106.5 409.6h0M147.3 434.4h0M130.9 427.1h0M146.9 427.8h0M155.9 428.2h0M130.6 448.7h0M68 427.1h0M200 401.8h0M124 459.9h0M126 417.6h0M133 422.2h0M136.8 452.3h0M88.2 426.9h0M140.5 465.1h0M126.6 464.5h0M134.3 451.4h0" stroke="#d5b89a" stroke-width="3.2" stroke-linecap="round"/>
<path d="M126.8 466.2h0M122 456.9h0M135 445.9h0M159.7 436.3h0M160.4 436.7h0M122 464.4h0M92 410.1h0M158.5 428.1h0M120.1 451.7h0M134.6 456.7h0M129.1 439.1h0" stroke="#1e0000" stroke-width="3.2" stroke-linecap="round"/>
<path d="M94.5 446.6h0M153.4 440.1h0M123.6 458.3h0M120.8 454.2h0M115.8 415.6h0M108.3 425.1h0M109.3 436.1h0M143.6 441.3h0M87.5 413.6h0M85.1 424.8h0M123.9 447.2h0M104 411.6h0" stroke="#decfa6" stroke-width="3.2" stroke-linecap="round"/>
<path d="M157.7 437.5h0M140.6 450.3h0M118.4 434.2h0M136.3 454.1h0M110.5 474.1h0M133.4 445.8h0M122.2 440.4h0M130.7 451.5h0M139.9 446.5h0M153.2 428.5h0M122.5 444.7h0M157.6 445.4h0M118 458.5h0" stroke="#643f3f" stroke-width="3.2" stroke-linecap="round"/>
<path d="M99.6 421.9h0M158.5 393.4h0M127.4 427.3h0M127.3 443.6h0M126.5 401.4h0M142.9 451.6h0M109.5 443.8h0M121.8 423.1h0" stroke="#ffffff" stroke-width="3.2" stroke-linecap="round"/>
<path d="M164 409.6h0M108.3 439.8h0M163.7 436.8h0M163.5 428.6h0M152 450.2h0M131.3 453.8h0M148.5 450.3h0M96 424.4h0M111.9 417.6h0M160.4 436.2h0M98 406.6h0" stroke="#a86d6d" stroke-width="3.2" stroke-linecap="round"/>
<path d="M128.9 418.4h0M133.2 442.5h0M141.5 429.6h0M106.4 420.4h0M130.5 435.2h0M91.5 438.1h0M156.1 447.3h0M137.5 390.1h0M111.5 481.6h0M115.7 424.4h0M150.6 437.4h0M147.6 444.7h0M165 432.7h0M89.2 426.9h0M181.5 407.1h0M152 465.6h0M104.4 441.4h0M127.9 423.1h0M116 440.7h0M159.4 436.5h0M144.2 438.2h0" stroke="#a86d6d" stroke-width="3.2" stroke-linecap="round"/>
<path d="M121 407.2h0M135.8 451h0M180.5 426.6h0M143.1 430.2h0M105.2 424.4h0M136.3 453.7h0M148.9 456.7h0M108.5 421.9h0M129.7 468.1h0M102.6 426.1h0M130.2 410.2h0M134.7 439.9h0M93 479.1h0" stroke="#8a5959" stroke-width="3.2" stroke-linecap="round"/>
<path d="M142.7 442.4h0M141 456.6h0M103.3 419h0M95.5 459.6h0M88.6 430.5h0M114.1 454h0M136.7 431.4h0M133 431.2h0M159 456.6h0M85.3 415.1h0M111 459.2h0M108.1 437.6h0M145.5 443.1h0M88.1 434.4h0M130.5 453.6h0M152.6 449.9h0M112.1 429.4h0M139.7 448.3h0M116.4 440.9h0M153.5 454.5h0" stroke="#d5b89a" stroke-width="3.2" stroke-linecap="round"/>
<path d="M142.8 440.5h0M118.5 445.1h0M146.5 427.9h0M100.1 427.5h0M95 426.6h0M136.9 452.6h0M89.5 420.7h0M119.2 458.2h0M151.5 427.1h0M110.2 448.2h0M130.8 451h0M125 444.1h0M149.5 406.6h0M117.6 461.1h0M126 459.5h0M129.3 433.8h0M124.8 467.2h0M146.5 404.6h0M123.1 436.7h0M143.5 406.6h0M214.2 417.6h0M137.7 448.6h0M102.5 408.8h0M126 393.1h0" stroke="#cb9d8c" stroke-width="3.2" stroke-linecap="round"/>
<path d="M87 420.1h0M100.1 438.6h0M141.5 427.9h0M116.6 429.6h0M125.8 458.7h0M125.8 434.4h0M136.5 420.2h0M103.9 438.2h0M113.6 445.5h0M122.7 426.7h0M127.2 419.5h0M125.7 438.8h0M105.3 426.7h0" stroke="#efefcc" stroke-width="3.2" stroke-linecap="round"/>
<path d="M82 425.1h0M145.2 453h0M148.2 437.8h0M116.2 425.1h0M114.3 420.9h0M165.5 434.1h0M114.6 451.5h0M175 403.1h0M87.5 443.6h0M89.8 414.5h0M129.5 455.4h0M100 448.1h0M127.5 446.6h0M147 424.6h0M101.7 440.3h0M118.4 451.6h0" stroke="#e7e4b2" stroke-width="3.2" stroke-linecap="round"/>
<path d="M137.7 426.6h0M176 400.6h0M163.1 436.7h0M115.4 453.6h0M134.2 450.8h0M125.1 463.8h0M112.6 419.5h0M140.3 457.3h0M138 394.6h0M154.5 449.1h0M153.9 428.7h0M102.8 438.8h0M146.1 445.8h0M139.2 449.3h0M136.6 450.5h0M157.9 436.9h0M143.2 446.3h0M95 426.7h0" stroke="#c17e7e" stroke-width="3.2" stroke-linecap="round"/>
<path d="M127 414.1h0M92.1 427.2h0M143 414.1h0M109 467.1h0M104.3 425.1h0M131.2 454.4h0M88.6 432.2h0" stroke="#ffffff" stroke-width="3.2" stroke-linecap="round"/>
<path d="M156.5 464.1h0M135.6 454.1h0M96.2 419.1h0M95.5 418.3h0M128.5 401.1h0M118.4 425.2h0M113.6 435.7h0" stroke="#643f3f" stroke-width="3.2" stroke-linecap="round"/>
<path d="M162.1 433.7h0M158.1 435.9h0M102.1 430.1h0M109 427h0M115.1 448.4h0M97.3 422.7h0M130.8 424.6h0M78 412.8h0M111.4 419.3h0M144.1 445.1h0M105 427.2h0M130.1 427h0M127 430.9h0" stroke="#f7f7e7" stroke-width="3.2" stroke-linecap="round"/>
<path d="M116 478.1h0M128.1 432.7h0M119.4 437.4h0M125.2 459.8h0M135.2 433.2h0M121 448.1h0M131 412.1h0M115.9 448.7h0M142.3 442.4h0M122.3 438.7h0M133 464.1h0M134.4 440.9h0M144.6 458.1h0M180.5 427.1h0M121.1 426h0M129.1 459.7h0M87.5 479.6h0" stroke="#1e0000" stroke-width="3.2" stroke-linecap="round"/>
<path d="M91.1 423.1h0M148.8 444.1h0M152.9 451.4h0M116 401.1h0M95 399.1h0M106.9 446.3h0M97.8 418.1h0M142.9 445.5h0M145.5 433.3h0M135 413.6h0M138.5 468.6h0M140.6 455.2h0M91.7 427.3h0M103.5 409.1h0M129.5 431.7h0M75.5 432.1h0M160 458.1h0" stroke="#decfa6" stroke-width="3.2" stroke-linecap="round"/>
<path d="M121 417.1h0M118.3 424.5h0M221 366.8h0M100.2 414.9h0M142 433.4h0M84 451.1h0M142.4 442.9h0M121.8 455.8h0M83 458.1h0M117.6 420.6h0M143.8 452.4h0M186 419.1h0M110.1 449.4h0M127.5 429.5h0M94.3 422.4h0M110.2 429h0M105.9 434.2h0M111.1 407.2h0M125.4 451.8h0M152.8 456.9h0M133.5 481.1h0" stroke="#cb9d8c" stroke-width="3.2" stroke-linecap="round"/>
<path d="M137.3 427.4h0M135.8 434.2h0M96.6 428.1h0M128.7 411.2h0M104.4 442.1h0M173 402.1h0M95.5 424.5h0M153.8 438.7h0M146.9 437.2h0M92 427.3h0M133.4 460.5h0" stroke="#efefcc" stroke-width="3.2" stroke-linecap="round"/>
<path d="M86 437.1h0M136.7 403.1h0M156 449.5h0M127.8 440.6h0M98 472.1h0M138.9 434.3h0M108.7 426.2h0M118 442.2h0M141.4 452.6h0M104.5 413.1h0M141.5 454.8h0M142.5 403.6h0M106.5 404.6h0M94 406.6h0M122 403.2h0M136.1 440.9h0M129.5 436.8h0M147.5 406.6h0M171.5 430.1h0M151 454.4h0" stroke="#a86d6d" stroke-width="3.2" stroke-linecap="round"/>
<path d="M114.1 427.3h0M123 413.6h0M136.4 418.4h0M110.2 430.6h0M106.7 441.4h0M152.3 427.9h0M98.4 430.8h0M137 390.1h0M114 421.9h0M109 437.9h0M102.6 422.1h0" stroke="#f7f7e7" stroke-width="3.2" stroke-linecap="round"/>
<path d="M156.5 437.3h0M128.4 418.4h0M95.5 433.5h0M145.9 457.5h0M162.3 437.8h0M129 458h0M84.5 416.6h0M122.6 419.5h0M156.7 449h0M121 473.6h0M92 462.6h0M91.5 432.1h0M105.1 433.8h0M149.3 437.9h0M89.2 430.7h0M129.1 403.2h0M157.3 445.5h0M100.5 416.7h0M125.8 458.6h0M116 472.1h0M90.8 433.3h0" stroke="#d5b89a" stroke-width="3.2" stroke-linecap="round"/>
<path d="M153 429.4h0M134 465.1h0M166.9 436.9h0M156.5 480.1h0M137.5 456.6h0M143 482.8h0M89.4 419.6h0M117.9 437.6h0M160.6 444.3h0M131.8 429.7h0M140.8 448.1h0M118.8 458.9h0" stroke="#643f3f" stroke-width="3.2" stroke-linecap="round"/>
<path d="M117 466.6h0M128.5 446h0M127.6 434.5h0M136.6 462.5h0M146.4 436.1h0M126.6 462.2h0M110.5 445.1h0M122.5 487.6h0M134.3 428.2h0M154 438.6h0M152.6 432.5h0M137.3 441.9h0M121.1 455h0M145.5 462.1h0M116.3 463h0M156 434.1h0M123.2 465.7h0M141.4 447.5h0M124 470.6h0M156 450.1h0" stroke="#1e0000" stroke-width="3.2" stroke-linecap="round"/>
<path d="M145.7 430.3h0M81.5 461.6h0M141 455.7h0M107.5 435.9h0M157.5 436.4h0M139.2 442.4h0M126.9 462.5h0M141 471.1h0M117.4 448.8h0M123.7 428.2h0M112.6 438.7h0M120.7 447h0M136.9 424.5h0M87 439.1h0M119.8 427.5h0M118.3 411.6h0M113.9 427.1h0M139.8 454.7h0M155 439h0M166.4 437.3h0M120 476.6h0M109 461.6h0M113.8 424.2h0M132.9 423.9h0M125.1 430h0M150.6 444.6h0M99.3 420h0" stroke="#c17e7e" stroke-width="3.2" stroke-linecap="round"/>
<path d="M135.5 432.9h0M155.3 442.4h0M134.6 463.3h0M163.2 440.6h0M109 481.6h0M129.4 449.5h0M140 460.6h0M104.4 442.6h0M120.7 438.5h0M153.3 440h0M142.8 453.6h0M129.9 433.5h0M116 457.1h0" stroke="#8a5959" stroke-width="3.2" stroke-linecap="round"/>
<path d="M122.1 440.3h0M110.8 445.1h0M108.7 445.2h0M113.4 443.3h0M139 397.6h0M124.2 408.9h0M196 383.6h0M117.2 464.9h0M98.1 417.2h0M133.5 435.5h0M92 417.6h0" stroke="#decfa6" stroke-width="3.2" stroke-linecap="round"/>
<path d="M110.2 437.2h0M150.5 424.1h0M109.5 419.6h0M99.9 435.8h0M133.3 439.1h0M113.8 422.5h0M150.1 440.2h0M122 391.6h0M145.1 450.9h0M106.4 417.9h0M114.2 455.6h0M107.3 443.7h0" stroke="#e7e4b2" stroke-width="3.2" stroke-linecap="round"/>
<path d="M102.4 438h0M150.2 432.4h0M86.5 425.6h0M132.8 432.2h0M103.7 427.3h0M139.7 447.5h0" stroke="#ffffff" stroke-width="3.2" stroke-linecap="round"/>
<path d="M118.7 441.9h0M215.3 382.1h0M120.1 435.5h0M80.5 451.6h0M138 457.6h0M163.1 438.9h0M92.6 421.9h0M118.4 429.2h0M161.1 433.3h0M124.8 445.8h0M124.5 487.6h0M128.5 456.6h0M115 406.6h0M145.2 435.3h0M140 437.6h0M123.9 453.6h0M132.7 426.9h0M111.6 445.4h0M138.5 425.6h0M78.5 428.1h0" stroke="#cb9d8c" stroke-width="3.2" stroke-linecap="round"/>
<path d="M100.4 420.6h0M147.5 391.6h0M157.8 452.3h0M139 431.1h0M148 455.1h0M131.2 433.3h0M148.2 456.1h0M109.1 450.5h0M127.8 431.1h0M79.2 420.1h0M105.9 427.3h0M137 394.8h0M152 458.6h0M101.2 433.7h0M122.5 423.6h0M117.6 447.4h0M134.6 453.4h0" stroke="#efefcc" stroke-width="3.2" stroke-linecap="round"/>
<path d="M139.2 438.6h0M164 444.6h0M151.9 442h0M132 430.3h0M108.4 432.9h0M158.5 395.1h0M136.8 434.3h0M116.4 457.2h0M111.7 431h0M117.6 432.3h0M109 403.6h0M128.3 466.2h0M95 427.8h0M159.2 437.3h0M115.5 473.6h0M90 434.9h0M136.8 437.9h0M121 393.6h0M128.3 439.3h0" stroke="#643f3f" stroke-width="3.2" stroke-linecap="round"/>
<path d="M125.8 432.9h0M105.5 431.6h0M96.9 416.8h0M100 435.7h0M109.5 457.9h0M152.6 434.6h0" stroke="#ffffff" stroke-width="3.2" stroke-linecap="round"/>
<path d="M127.9 418.7h0M121.6 443.6h0M93.6 418.6h0M126.2 452.2h0M131.7 418.2h0M109.5 410.6h0M138.4 455.5h0M71 441.4h0M105.7 425.4h0M140.4 434.6h0M140.1 441.5h0M150.7 450.3h0M114.6 422.7h0M151 435.2h0M100 473.6h0" stroke="#8a5959" stroke-width="3.2" stroke-linecap="round"/>
<path d="M98.1 424.8h0M165.7 431.1h0M103.2 433.8h0M157.4 449.7h0M90.1 417.6h0M108.8 445.3h0M144 439.9h0M101.3 437.3h0M80 417.1h0M203.2 383.8h0M123.5 483.1h0M134 405.6h0M99.8 427.4h0M156.5 456.1h0M210.2 388.1h0M109 490.1h0M185 404.1h0" stroke="#a86d6d" stroke-width="3.2" stroke-linecap="round"/>
<path d="M160.3 435h0M166.5 433.9h0M128.2 433.7h0M93.5 412.6h0M134.2 402.6h0M145.7 442.2h0M100.7 435.5h0M131.4 427.1h0M136.9 420.5h0M125.7 455.2h0M132.1 453.5h0M112.5 490.1h0M119.2 460.9h0M137.2 451.4h0M131.5 460.5h0M106.5 473.6h0M159.5 434.6h0M102.9 436.9h0M147.9 460.8h0M120.3 451.3h0M169.5 435.1h0" stroke="#c17e7e" stroke-width="3.2" stroke-linecap="round"/>
<path d="M121.6 444.2h0M161.4 437.3h0M155.9 430.8h0M161.5 447.1h0M120.4 430h0M158.2 450.6h0M162.8 442.9h0M157.4 441.2h0M124.9 467.4h0M159.1 443.2h0M120.9 435.5h0" stroke="#1e0000" stroke-width="3.2" stroke-linecap="round"/>
<path d="M123 460.3h0M89.4 420.4h0M152.1 436.8h0M113.6 445.7h0M89 413.6h0M152 425.6h0M101.2 439.3h0M132 464h0M103.7 435.3h0M108.1 411.7h0M150.9 443h0M152.7 433.7h0M151 467.1h0M87.2 424.9h0M117.3 441.7h0M121.8 429.1h0M161 431.4h0M163 436.5h0" stroke="#d5b89a" stroke-width="3.2" stroke-linecap="round"/>
<path d="M115.9 431.1h0M157.6 437.1h0M106.1 429.4h0M114.9 449h0M148 460.1h0M121.9 457.7h0M127.7 418.6h0M163.3 439h0M103.2 422.4h0M126 394.6h0M103.4 418.2h0M146 448.3h0" stroke="#e7e4b2" stroke-width="3.2" stroke-linecap="round"/>
<path d="M135.5 429.9h0M125.6 431.9h0M130.3 436.2h0M115.1 432.5h0M180.5 431.1h0M121.7 456.2h0M151.1 440.2h0M101.8 435.8h0M164.9 438.3h0M103.2 433.1h0M146.7 437.9h0M110.4 427.7h0M112.3 430.2h0M71 419.1h0M150.4 428.6h0M130.3 420.1h0M113.9 445.7h0" stroke="#f7f7e7" stroke-width="3.2" stroke-linecap="round"/>
<path d="M134.3 457.6h0M104.2 424h0M168 428.1h0M151.3 454.4h0M114 456.6h0M109.4 449.9h0M136.6 428.2h0M140.5 413.1h0M117.7 452.7h0M110.5 430.7h0M133.1 417.2h0M162.1 432.1h0M114.9 421.8h0" stroke="#decfa6" stroke-width="3.2" stroke-linecap="round"/>
<path d="M38.4 426.7H236.4" stroke="#000" stroke-width="1.1" stroke-dasharray="4 1.715"/>
<path d="M137.4 360V493.4" stroke="#000" stroke-width="1.1" stroke-dasharray="4.16 1.8"/>
</g>
<rect x="38.4" y="360" width="198" height="133.4" fill="none" stroke="#000" stroke-width="0.58"/>
<path d="M38.4 493.4v2.5M63.15 493.4v2.5M87.9 493.4v2.5M112.65 493.4v2.5M137.4 493.4v2.5M162.15 493.4v2.5M186.9 493.4v2.5M211.65 493.4v2.5M236.4 493.4v2.5" stroke="#000" stroke-width="0.58"/>
<text x="38.4" y="504.5" text-anchor="middle" font-size="8.32" textLength="17.07" lengthAdjust="spacingAndGlyphs">−2.0</text>
<text x="63.15" y="504.5" text-anchor="middle" font-size="8.32" textLength="17.07" lengthAdjust="spacingAndGlyphs">−1.5</text>
<text x="87.9" y="504.5" text-anchor="middle" font-size="8.32" textLength="17.07" lengthAdjust="spacingAndGlyphs">−1.0</text>
<text x="112.65" y="504.5" text-anchor="middle" font-size="8.32" textLength="17.07" lengthAdjust="spacingAndGlyphs">−0.5</text>
<text x="137.4" y="504.5" text-anchor="middle" font-size="8.32" textLength="10.95" lengthAdjust="spacingAndGlyphs">0.0</text>
<text x="162.15" y="504.5" text-anchor="middle" font-size="8.32" textLength="10.95" lengthAdjust="spacingAndGlyphs">0.5</text>
<text x="186.9" y="504.5" text-anchor="middle" font-size="8.32" textLength="10.95" lengthAdjust="spacingAndGlyphs">1.0</text>
<text x="211.65" y="504.5" text-anchor="middle" font-size="8.32" textLength="10.95" lengthAdjust="spacingAndGlyphs">1.5</text>
<text x="236.4" y="504.5" text-anchor="middle" font-size="8.32" textLength="10.95" lengthAdjust="spacingAndGlyphs">2.0</text>
<path d="M38.4 493.4h-2.5M38.4 476.72h-2.5M38.4 460.05h-2.5M38.4 443.38h-2.5M38.4 426.7h-2.5M38.4 410.02h-2.5M38.4 393.35h-2.5M38.4 376.68h-2.5M38.4 360h-2.5" stroke="#000" stroke-width="0.58"/>
<text x="33.1" y="496.8" text-anchor="end" font-size="8.32" textLength="17.07" lengthAdjust="spacingAndGlyphs">−2.0</text>
<text x="33.1" y="480.12" text-anchor="end" font-size="8.32" textLength="17.07" lengthAdjust="spacingAndGlyphs">−1.5</text>
<text x="33.1" y="463.45" text-anchor="end" font-size="8.32" textLength="17.07" lengthAdjust="spacingAndGlyphs">−1.0</text>
<text x="33.1" y="446.77" text-anchor="end" font-size="8.32" textLength="17.07" lengthAdjust="spacingAndGlyphs">−0.5</text>
<text x="33.1" y="430.1" text-anchor="end" font-size="8.32" textLength="10.95" lengthAdjust="spacingAndGlyphs">0.0</text>
<text x="33.1" y="413.42" text-anchor="end" font-size="8.32" textLength="10.95" lengthAdjust="spacingAndGlyphs">0.5</text>
<text x="33.1" y="396.75" text-anchor="end" font-size="8.32" textLength="10.95" lengthAdjust="spacingAndGlyphs">1.0</text>
<text x="33.1" y="380.07" text-anchor="end" font-size="8.32" textLength="10.95" lengthAdjust="spacingAndGlyphs">1.5</text>
<text x="33.1" y="363.4" text-anchor="end" font-size="8.32" textLength="10.95" lengthAdjust="spacingAndGlyphs">2.0</text>
<rect x="46.9" y="360" width="5.22" height="7.2" fill="#1e0000"/>
<rect x="51.82" y="360" width="5.22" height="7.2" fill="#643f3f"/>
<rect x="56.73" y="360" width="5.22" height="7.2" fill="#8a5959"/>
<rect x="61.65" y="360" width="5.22" height="7.2" fill="#a86d6d"/>
<rect x="66.57" y="360" width="5.22" height="7.2" fill="#c17e7e"/>
<rect x="71.48" y="360" width="5.22" height="7.2" fill="#cb9d8c"/>
<rect x="76.4" y="360" width="5.22" height="7.2" fill="#d5b89a"/>
<rect x="81.32" y="360" width="5.22" height="7.2" fill="#decfa6"/>
<rect x="86.23" y="360" width="5.22" height="7.2" fill="#e7e4b2"/>
<rect x="91.15" y="360" width="5.22" height="7.2" fill="#efefcc"/>
<rect x="96.07" y="360" width="5.22" height="7.2" fill="#f7f7e7"/>
<rect x="100.98" y="360" width="4.92" height="7.2" fill="#ffffff"/>
<path d="M105.9 360L109.4 363.6L105.9 367.2Z" fill="#ffffff"/>
<path d="M46.9 360H105.9L109.4 363.6L105.9 367.2H46.9Z" fill="none" stroke="#333" stroke-width="0.58"/>
<path d="M46.9 367.2v2.5M51.82 367.2v1.44M56.73 367.2v1.44M61.65 367.2v1.44M66.57 367.2v2.5M71.48 367.2v1.44M76.4 367.2v1.44M81.32 367.2v1.44M86.23 367.2v2.5M91.15 367.2v1.44M96.07 367.2v1.44M100.98 367.2v1.44M105.9 367.2v2.5" stroke="#000" stroke-width="0.58"/>
<text x="46.9" y="378.1" text-anchor="middle" font-size="8.32" textLength="3.99" lengthAdjust="spacingAndGlyphs">0</text>
<text x="66.57" y="378.1" text-anchor="middle" font-size="8.32" textLength="3.99" lengthAdjust="spacingAndGlyphs">1</text>
<text x="86.23" y="378.1" text-anchor="middle" font-size="8.32" textLength="3.99" lengthAdjust="spacingAndGlyphs">2</text>
<text x="105.9" y="378.1" text-anchor="middle" font-size="8.32" textLength="3.99" lengthAdjust="spacingAndGlyphs">3</text>
<text x="50.62" y="388" font-size="8.21" textLength="17.38" lengthAdjust="spacingAndGlyphs">MISR</text><text x="70.95" y="388" font-size="8.21" textLength="1.97" lengthAdjust="spacingAndGlyphs">-</text><text x="75.87" y="388" font-size="8.21" textLength="18.24" lengthAdjust="spacingAndGlyphs">ERA5</text><text x="97.07" y="388" font-size="8.21" font-style="italic" textLength="4.31" lengthAdjust="spacingAndGlyphs">V</text>
<text x="63.92" y="397.6" font-size="8.21" textLength="9.44" lengthAdjust="spacingAndGlyphs">(m</text><text x="76.36" y="397.6" font-size="8.21" font-style="italic" textLength="3.2" lengthAdjust="spacingAndGlyphs">s</text><text x="80.11" y="394.72" font-size="5.75" textLength="7.17" lengthAdjust="spacingAndGlyphs">−1</text><text x="87.84" y="397.6" font-size="8.21" textLength="2.24" lengthAdjust="spacingAndGlyphs">)</text>
<text x="107.54" y="515.5" font-size="8.66" textLength="18.37" lengthAdjust="spacingAndGlyphs">ERA5</text><text x="128.92" y="515.5" font-size="8.66" font-style="italic" textLength="5.29" lengthAdjust="spacingAndGlyphs">w</text><text x="137.22" y="515.5" font-size="8.66" textLength="13.31" lengthAdjust="spacingAndGlyphs">(cm</text><text x="153.54" y="515.5" font-size="8.66" font-style="italic" textLength="3.12" lengthAdjust="spacingAndGlyphs">s</text><text x="157.24" y="512.46" font-size="6.06" textLength="7.06" lengthAdjust="spacingAndGlyphs">−1</text><text x="164.89" y="515.5" font-size="8.66" textLength="2.17" lengthAdjust="spacingAndGlyphs">)</text>
<g transform="rotate(-90 12.5 426.7)"><text x="-17.16" y="426.7" font-size="8.66" textLength="17.7" lengthAdjust="spacingAndGlyphs">MISR</text><text x="3.58" y="426.7" font-size="8.66" font-style="italic" textLength="5.36" lengthAdjust="spacingAndGlyphs">w</text><text x="11.98" y="426.7" font-size="8.66" textLength="13.47" lengthAdjust="spacingAndGlyphs">(cm</text><text x="28.48" y="426.7" font-size="8.66" font-style="italic" textLength="3.17" lengthAdjust="spacingAndGlyphs">s</text><text x="32.23" y="423.66" font-size="6.06" textLength="7.15" lengthAdjust="spacingAndGlyphs">−1</text><text x="39.96" y="426.7" font-size="8.66" textLength="2.2" lengthAdjust="spacingAndGlyphs">)</text></g>
<text x="50.98" y="476.7" font-size="9.58" textLength="10.97" lengthAdjust="spacingAndGlyphs" style="stroke-width:0.2px">(e)</text>
<defs><clipPath id="csf"><rect x="291.6" y="360" width="198" height="133.4"/></clipPath></defs>
<g clip-path="url(#csf)">
<path d="M414.3 448.5h0M390.8 426h0M399.3 423.8h0M412 422.6h0M450.5 387.4h0M401.5 407.3h0M396 406.3h0M374.4 425h0M413.5 436.2h0M400 381.1h0M414.9 420.9h0M378.3 426.6h0" stroke="#a86d6d" stroke-width="3.2" stroke-linecap="round"/>
<path d="M405.9 413.3h0M392.8 431.7h0M380.7 418.9h0M408.1 439h0M412.5 431.3h0" stroke="#f7f7e7" stroke-width="3.2" stroke-linecap="round"/>
<path d="M386.4 413.8h0M396.5 381.6h0M352.5 432.1h0M425.7 420.6h0M418.1 432.8h0M379 429.6h0M356 426.6h0M417.8 397.5h0M426.4 420.8h0M422.2 405h0M373.1 419h0M401.7 453.5h0M364 435.6h0M416.3 405.5h0M389.5 407.2h0M400.4 413.5h0M421.3 427.8h0" stroke="#8a5959" stroke-width="3.2" stroke-linecap="round"/>
<path d="M383 411.6h0M423.1 406.5h0M388.5 422h0M400.2 431.1h0M393.4 432.3h0M411.3 412.9h0" stroke="#e7e4b2" stroke-width="3.2" stroke-linecap="round"/>
<path d="M399.8 449.8h0M385.2 416.7h0M398.2 404.9h0M395.1 417.8h0M416.1 425.8h0M384.2 413.4h0M383.6 424.8h0M413.5 424.1h0M413 441.1h0M403.3 435.9h0M384.4 418.3h0M417.5 414h0" stroke="#decfa6" stroke-width="3.2" stroke-linecap="round"/>
<path d="M407 406.8h0M393.9 415.9h0M419.7 426.4h0M392.2 408.6h0M381.1 394.8h0M400.4 406.3h0M413.4 425.3h0M404.8 403.5h0M401.9 397.1h0M419.1 405.1h0M403.8 408.4h0M403.1 448.7h0" stroke="#643f3f" stroke-width="3.2" stroke-linecap="round"/>
<path d="M425 438.6h0M397.1 451.1h0M430 393.1h0M407.9 403.1h0M405.7 421.9h0M391.1 416.7h0M408.5 416.4h0M407.9 416.9h0M390.9 425.9h0M420.9 396.5h0M406 432.4h0M392.2 439.3h0M372.8 426.3h0M382 443.1h0M380.5 389.6h0M399.7 430.2h0M387 389.6h0M403 446h0M382.3 410.5h0M418.1 434.1h0M414.7 415.8h0M418.4 422.8h0" stroke="#d5b89a" stroke-width="3.2" stroke-linecap="round"/>
<path d="M404.2 444.8h0M423.5 407.6h0M393.6 432.8h0" stroke="#ffffff" stroke-width="3.2" stroke-linecap="round"/>
<path d="M383.1 393.9h0M421.6 419.7h0M393.3 447.6h0M393.5 394.2h0M399.7 414.7h0M403.2 394.3h0M414.7 436.6h0M414 436.1h0M414.1 403.5h0M368.5 406.1h0M415.8 408.9h0M389 410.7h0M386.3 422.4h0M427 443.6h0M414.8 403.8h0M386.1 409.8h0M417.8 422h0M390.1 425.2h0M376 407.6h0" stroke="#c17e7e" stroke-width="3.2" stroke-linecap="round"/>
<path d="M372.6 419h0M407.9 440h0M404.1 418.1h0M390.5 413.6h0M394.2 416.9h0" stroke="#efefcc" stroke-width="3.2" stroke-linecap="round"/>
<path d="M418.8 405.7h0M405.1 417.7h0M390.6 424.1h0M380.4 421.7h0M388 392.1h0M403.5 454.1h0M409.2 449h0M386.5 411.9h0M384.1 415h0M405.7 452.5h0M421.5 412.6h0M407.5 427h0M355 428.6h0M402 442.1h0M405.1 427.6h0M400.1 450.7h0" stroke="#cb9d8c" stroke-width="3.2" stroke-linecap="round"/>
<path d="M374.3 427.5h0M421.8 425.7h0M419.6 406.8h0M418.3 411.2h0" stroke="#1e0000" stroke-width="3.2" stroke-linecap="round"/>
<path d="M353 437.1h0M394.6 402.3h0M388.5 384.6h0M400.3 453.8h0M403.8 409.1h0M395.6 399.9h0M393.9 406.9h0M412.9 404.6h0M391 397.7h0M396.5 444.7h0M397.9 445.2h0" stroke="#1e0000" stroke-width="3.2" stroke-linecap="round"/>
<path d="M420.3 426.9h0M376 396.6h0M390.3 407.6h0M393.8 444.2h0M417.9 433.6h0M397.5 384.1h0M402.9 424.8h0M378 417.6h0M415.7 418.4h0M393.1 394.3h0M373.4 419.7h0M376.7 425.5h0M419.1 429.9h0M417 412.5h0M389.5 389.1h0M401.9 436.6h0M381.5 420h0M413.4 415.7h0M394.6 441.1h0M397.3 430.8h0" stroke="#cb9d8c" stroke-width="3.2" stroke-linecap="round"/>
<path d="M429.3 424.6h0M398.7 397.8h0M417.4 426.9h0M395.3 408.6h0M429.2 420.4h0M398.5 397.1h0M419.5 404.9h0M388 425.8h0M395.8 419.7h0M408.6 408.7h0M391.2 404.4h0M407.4 412.2h0M421.9 415.9h0M411.3 410.3h0M376.5 404.6h0M401.2 446.6h0" stroke="#a86d6d" stroke-width="3.2" stroke-linecap="round"/>
<path d="M377.6 419.8h0M400.6 402.5h0M424.2 420.6h0M403.1 408h0M397.7 428.7h0M393.3 420.2h0M421.7 425.6h0M399.9 432.8h0M398.1 416.3h0M400.4 415.5h0M427.7 417.8h0M423.2 413.6h0M390 446.6h0" stroke="#d5b89a" stroke-width="3.2" stroke-linecap="round"/>
<path d="M392.3 416.3h0M436 399.6h0M404.4 423.5h0M413 420.6h0M400.8 441.3h0M369 422.6h0M394.6 416.8h0" stroke="#e7e4b2" stroke-width="3.2" stroke-linecap="round"/>
<path d="M405 409.7h0M374.5 415.3h0M420.8 421.8h0M388.7 413.5h0M380 392.6h0M341 439.1h0M398.4 450.4h0M391.6 401.9h0M428.9 424.6h0M407.3 398.5h0M405.1 401.2h0M412.1 406.1h0" stroke="#643f3f" stroke-width="3.2" stroke-linecap="round"/>
<path d="M428.5 420.2h0M390.6 425.8h0M396.1 430.3h0M392.7 432.8h0M376.8 423.7h0M404.4 435.9h0M414.3 405.3h0M392 430.4h0M387 411.5h0M353 428.6h0" stroke="#decfa6" stroke-width="3.2" stroke-linecap="round"/>
<path d="M421.2 446.7h0M404.4 400.8h0M400 420.2h0M372.5 422h0M392.8 426.6h0M404.8 434.8h0M413.2 449.2h0M420.3 419.3h0M407.3 406.9h0M390.3 439h0M426.6 427.5h0M376.2 419.4h0M390.5 397.5h0M385.8 395.5h0M387.6 395.9h0M390.9 435.4h0M401.3 422.6h0" stroke="#c17e7e" stroke-width="3.2" stroke-linecap="round"/>
<path d="M418.7 408.5h0M400.7 417.5h0M417 446.9h0M418.7 412.5h0M402.7 400.1h0M389.5 396.2h0M394.1 399.9h0M392.4 432.6h0M386.3 413.5h0M400.5 419.2h0M393 399.1h0M400.2 405.6h0M396.2 407h0" stroke="#8a5959" stroke-width="3.2" stroke-linecap="round"/>
<path d="M400.3 422.9h0M420 440.6h0M416.2 425.2h0M397 416.9h0M411.5 412.5h0M416.6 416.1h0" stroke="#efefcc" stroke-width="3.2" stroke-linecap="round"/>
<path d="M420.7 413.1h0M394.4 432.9h0M385.8 418.4h0M382.5 424.4h0M386.5 414.7h0" stroke="#f7f7e7" stroke-width="3.2" stroke-linecap="round"/>
<path d="M406.2 418h0M398.5 434.3h0M422.9 406.3h0" stroke="#ffffff" stroke-width="3.2" stroke-linecap="round"/>
<path d="M401.2 454.3h0M406.7 445.9h0M397.3 446.4h0M373.7 418.4h0M415.2 435.8h0M409.5 402.5h0M395.7 421.2h0M375 411.6h0M371 398.6h0M400.5 445.1h0M425 393.1h0M442.2 386.8h0M394.7 426.7h0M407.5 420.9h0M394.8 430h0" stroke="#d5b89a" stroke-width="3.2" stroke-linecap="round"/>
<path d="M412.8 440.7h0M402.6 435.4h0M372 412.1h0M392.3 431.1h0M391.4 427.4h0M390.3 411.4h0M400.1 433.1h0M403.8 435.2h0M403.2 421.5h0" stroke="#e7e4b2" stroke-width="3.2" stroke-linecap="round"/>
<path d="M406.2 450.1h0M390.7 402.5h0M420.4 429.7h0M430.6 420.7h0M392.5 440.4h0M406.1 398.9h0M391 426.1h0M415.1 404.6h0M394.2 424.9h0M405.6 446.9h0M419.4 427.3h0M362 432.1h0M418.9 407h0M382 393.1h0" stroke="#8a5959" stroke-width="3.2" stroke-linecap="round"/>
<path d="M392.6 415.7h0M386.5 439.1h0M393 412.8h0" stroke="#f7f7e7" stroke-width="3.2" stroke-linecap="round"/>
<path d="M416.7 404h0M335.5 448.1h0M394.3 422.8h0M377.2 421.5h0M395.1 408.5h0M421.9 426.5h0M418.8 407.4h0M417.7 430.1h0M411.9 408.1h0" stroke="#643f3f" stroke-width="3.2" stroke-linecap="round"/>
<path d="M371 416.6h0M420.4 433.7h0M420.6 430.4h0M395.6 436.4h0M402.1 405h0M384.3 420.7h0M417.3 437.6h0M399.4 453.7h0M395.9 400.3h0M405.7 408.4h0M339 443.6h0M425.3 418.6h0M407.4 426.3h0M419.3 420.4h0M392.9 448.9h0M371.5 407.1h0M398.7 443.2h0M404.7 451.6h0M393.3 448.1h0M368.5 434.1h0M424.8 416.5h0" stroke="#a86d6d" stroke-width="3.2" stroke-linecap="round"/>
<path d="M396.9 425.8h0M408.4 407.7h0M384 415h0M382.4 423.4h0M402 453h0M394.6 412.6h0M406.2 450.8h0M414.9 419.7h0M420.9 430.7h0M425.7 418.6h0M404.9 440.5h0M390.8 421.3h0M415 398.7h0M399.5 447.6h0M428.4 420.5h0M428.9 418.4h0M365.5 403.6h0M414 393.6h0" stroke="#c17e7e" stroke-width="3.2" stroke-linecap="round"/>
<path d="M411.1 449.6h0M402.3 440.8h0M391.4 445.4h0M412.6 416h0M412.8 429.7h0M400.8 398.1h0M426 418h0M373.3 419.6h0M407.7 419.7h0M394.5 426.6h0M411.5 412.7h0M394.4 441.1h0" stroke="#decfa6" stroke-width="3.2" stroke-linecap="round"/>
<path d="M409.6 398.2h0M411.5 408.6h0M370 409.6h0M415.7 409.1h0M401.1 400.7h0M390.6 399h0M411.8 408.4h0M393.9 410h0M403 403.5h0M401.6 402.8h0M431 419.3h0M401.1 410.2h0M400.7 405.7h0" stroke="#1e0000" stroke-width="3.2" stroke-linecap="round"/>
<path d="M409.4 412.1h0M404.3 420.1h0M398.4 424.6h0M395.5 431.4h0" stroke="#efefcc" stroke-width="3.2" stroke-linecap="round"/>
<path d="M384 417.5h0M401.6 428h0M392.4 413.7h0M381.4 420.3h0" stroke="#ffffff" stroke-width="3.2" stroke-linecap="round"/>
<path d="M405.6 414.2h0M381.4 423.2h0M404.6 450.8h0M400.1 402.7h0M367 418.6h0M424 423.6h0M384.6 419.4h0M388.9 397.2h0M401.2 404.3h0M385.9 402.4h0M424 413h0M432 437.1h0" stroke="#cb9d8c" stroke-width="3.2" stroke-linecap="round"/>
<path d="M404.8 452.8h0M431 439.6h0M403.7 424h0M404.7 404.8h0M337 444.1h0M417.5 421.2h0M430.5 414.6h0M421.3 444.9h0M396.7 422.5h0M394.2 413.4h0M413.5 448.8h0M430 436.6h0M373.5 402.6h0M418.5 424.7h0M404.7 410.8h0" stroke="#a86d6d" stroke-width="3.2" stroke-linecap="round"/>
<path d="M414.9 414.4h0M419.9 425.3h0M400.5 431.9h0M412.4 404.5h0M410 416.6h0M394.1 398.2h0M350 440.6h0M388.6 400.3h0M422.1 419.2h0M396 413.5h0M406.6 427.3h0M417.5 407.2h0M416.8 402.7h0M396.5 428.4h0" stroke="#8a5959" stroke-width="3.2" stroke-linecap="round"/>
<path d="M433.5 380.6h0M365 423.1h0M406 424.2h0M400.1 436h0M417.2 418.3h0M421.2 415.3h0M373.9 422.2h0M409.4 422.4h0M380.4 424.2h0M375.3 424.6h0M421.2 426.8h0M414.6 408.7h0M389 382.1h0M377.5 401.1h0M391.8 421.3h0M393.8 422.1h0M428.8 417.8h0M390 441.6h0" stroke="#cb9d8c" stroke-width="3.2" stroke-linecap="round"/>
<path d="M415.9 425.9h0M415.2 425.5h0M418.6 423.9h0M411.9 410.5h0M398.4 417.2h0M392.3 421.5h0M396.9 427.4h0M415.8 404.6h0M378.4 414.2h0M401.1 406.3h0M405.5 415.8h0M390.5 419.7h0M396.1 434.5h0M388.8 418.2h0M386.4 422.8h0M400.1 435.4h0M406.8 441.7h0" stroke="#c17e7e" stroke-width="3.2" stroke-linecap="round"/>
<path d="M417.7 415.1h0M377.9 423.2h0M407.4 433.4h0M375.4 417.9h0M420.1 414.2h0M372.8 421.9h0" stroke="#e7e4b2" stroke-width="3.2" stroke-linecap="round"/>
<path d="M391 398.6h0M409.2 413.4h0M415.3 413.2h0M405.8 432.6h0M384 399.6h0M390.9 421h0M373.5 430.6h0M390.3 407.9h0M406 427.8h0M384 393.7h0M380.4 417.5h0" stroke="#decfa6" stroke-width="3.2" stroke-linecap="round"/>
<path d="M401.5 394h0M405.4 417.7h0M413.7 410.5h0M340 439.1h0M395.9 394.8h0M390.7 398.5h0M376.9 427.1h0M345 440.1h0M392.2 396.8h0M395.8 407.9h0M429.9 421.1h0M406.2 410.7h0M400.5 407.7h0" stroke="#1e0000" stroke-width="3.2" stroke-linecap="round"/>
<path d="M399.5 432.7h0M394 428.1h0M384.1 415.5h0M409.8 421.5h0M408.6 444.6h0M402 412.8h0M398.4 423.3h0M407.9 433.6h0M409.9 413.6h0M381.1 420.4h0M430.1 418h0M394.5 426.7h0" stroke="#d5b89a" stroke-width="3.2" stroke-linecap="round"/>
<path d="M423.8 416.4h0M415.1 446.4h0M402.5 403.9h0M419 411.7h0M406.3 404.2h0M395.2 416.2h0M395.6 404h0M421.2 408.2h0M403.3 405.2h0M402 383.6h0" stroke="#643f3f" stroke-width="3.2" stroke-linecap="round"/>
<path d="M408.6 415.2h0M408.6 434.3h0M401.2 425.4h0M380.4 418.7h0M412 436h0" stroke="#efefcc" stroke-width="3.2" stroke-linecap="round"/>
<path d="M386.2 410h0M380.8 417.5h0M389.1 425.7h0M418 416.2h0M420 436.1h0M405.3 440.5h0" stroke="#f7f7e7" stroke-width="3.2" stroke-linecap="round"/>
<path d="M392.7 416h0M438 391.6h0M402.1 422.5h0M374.5 420.1h0M423.2 407.8h0M417.5 444.1h0" stroke="#ffffff" stroke-width="3.2" stroke-linecap="round"/>
<path d="M373.5 418.6h0M408.9 397.7h0M402.5 438.6h0M385 395.4h0M415.1 449.5h0M417.5 434.8h0" stroke="#decfa6" stroke-width="3.2" stroke-linecap="round"/>
<path d="M417 418.7h0M406.8 430.1h0M411.3 417.2h0M385 424.4h0M396.9 424.1h0M410.5 433.6h0M431 394.6h0" stroke="#efefcc" stroke-width="3.2" stroke-linecap="round"/>
<path d="M403.4 421.4h0M391.5 423.1h0M411.8 412.7h0M386.9 416h0M405.6 432.7h0M407.7 417.5h0M417.8 413.5h0M408 424.9h0M403.6 421.9h0M375.7 418.5h0M404.6 435.9h0" stroke="#e7e4b2" stroke-width="3.2" stroke-linecap="round"/>
<path d="M425.9 418.5h0M421.4 418.8h0M408.7 397.6h0M389.4 402.9h0M398.2 424.3h0M409.3 426.2h0M390.4 417.8h0M412.4 400.6h0M378.9 412.2h0M408 449.9h0M401.6 414.1h0M384.8 412.1h0M395.9 431.4h0M391.5 383.1h0M414 392.6h0M423.4 421.2h0M418.8 419.3h0M402.9 400.3h0" stroke="#8a5959" stroke-width="3.2" stroke-linecap="round"/>
<path d="M405.1 417.8h0M403.8 409.6h0M395.9 416h0M393 389.6h0M407.4 421.6h0M409.3 418.1h0M415.6 412.1h0M386.5 382.6h0M377.1 415h0M412.9 424.1h0M385 392.1h0M392.3 417.3h0M410.9 419.3h0M395.6 416.4h0M392.4 445.2h0M390.5 399.2h0M393.8 449.1h0M394.8 419h0M428 427.6h0" stroke="#cb9d8c" stroke-width="3.2" stroke-linecap="round"/>
<path d="M406.8 405.5h0M399.9 422.8h0M399.2 406h0M413.8 424.2h0M410.3 451.6h0M392.4 400.3h0M349.5 442.6h0M377.1 420.9h0M430.6 421.1h0M402.5 410h0M392.1 421.8h0M407.7 404.9h0M406.5 452.1h0M401.9 408.8h0M387 402.6h0M415.3 403.9h0M425 431.1h0" stroke="#a86d6d" stroke-width="3.2" stroke-linecap="round"/>
<path d="M394 407.1h0M417.4 405.5h0M431.4 418.4h0M419 398.6h0M400.2 395.7h0M406.4 402.9h0M410.4 399h0M413.8 407.9h0M388.7 396.4h0M374.2 427.2h0M390.4 405.1h0M344 436.6h0M401.3 404.5h0M415.5 398.6h0M403.6 411.2h0" stroke="#1e0000" stroke-width="3.2" stroke-linecap="round"/>
<path d="M395.6 437.3h0M404.1 432.3h0M405.4 426.9h0M406.8 400.5h0M383.4 395.9h0M385.7 395.7h0M402.2 404.2h0M397.1 436.1h0M421 446.8h0M397 434h0M419.1 445.7h0M391.1 437.7h0M417.7 438.8h0M384 388.6h0M390.3 434.2h0" stroke="#c17e7e" stroke-width="3.2" stroke-linecap="round"/>
<path d="M412.8 415.4h0M376.6 425.9h0M377.5 418.3h0M384.2 420.5h0M428 397.6h0" stroke="#f7f7e7" stroke-width="3.2" stroke-linecap="round"/>
<path d="M412.9 415.6h0M364 421.1h0M417.9 412.6h0M404.2 430.8h0M439 404.1h0M411.5 402.7h0M424.4 425h0M424.7 403.6h0M414.7 412.5h0M393.9 404.5h0M385.5 445.6h0" stroke="#d5b89a" stroke-width="3.2" stroke-linecap="round"/>
<path d="M390.1 401.4h0M393 392.6h0M392.9 404.8h0M397.1 442h0M421.6 398.7h0M393.4 433.9h0M416.3 404.4h0" stroke="#643f3f" stroke-width="3.2" stroke-linecap="round"/>
<path d="M395.5 415.4h0M390.3 414.7h0" stroke="#ffffff" stroke-width="3.2" stroke-linecap="round"/>
<path d="M342.5 445.1h0M424.7 413.8h0M404.6 406.9h0M356.5 437.6h0M390.1 417h0M396.4 435.5h0M403.1 402.3h0M388.8 421.2h0M397.9 407.5h0M390 415.4h0M426.2 421.4h0M417.1 405.4h0M385.7 416.7h0M408.6 404.2h0M397.3 395.1h0" stroke="#8a5959" stroke-width="3.2" stroke-linecap="round"/>
<path d="M379.8 417.9h0M421.1 411.1h0M345.5 437.6h0M398.2 408.6h0M415.6 429.6h0M415.7 402.1h0M396.9 398.9h0M415 399.3h0M403 410.6h0M406.9 404.6h0M420.4 424.8h0" stroke="#643f3f" stroke-width="3.2" stroke-linecap="round"/>
<path d="M391.9 417.7h0M390.2 423.9h0M411.9 421h0M399.2 434.4h0M386.6 412.1h0M409.8 412.4h0M384 412.8h0M391.4 416.4h0M405.7 417.1h0M404.9 425.3h0M398.8 446.2h0M385.9 418.4h0" stroke="#e7e4b2" stroke-width="3.2" stroke-linecap="round"/>
<path d="M381 404.6h0M426.5 426.9h0M427.5 434.1h0M390.6 405.3h0M420.1 420.6h0M400.3 409.3h0M416 433.8h0M426 399.6h0M410.4 418.8h0M390.5 394.7h0M418.3 423.2h0M389.9 408.6h0M408.3 428h0M415.2 409.2h0M393.2 425.8h0M411.7 406.1h0M413.5 438.1h0M416.8 429.2h0M424.2 444.5h0M421.6 422.2h0M415.8 433h0M358.5 431.6h0M416.3 417.7h0M418.2 410.6h0" stroke="#c17e7e" stroke-width="3.2" stroke-linecap="round"/>
<path d="M411.6 448.5h0M393.6 438.2h0M400.2 416.3h0M400.1 427.3h0M381.8 399.9h0M408.4 430h0M421.3 406.6h0M431.5 385.1h0M395.5 395h0M410.5 418.5h0M392.7 444.7h0M397 424.1h0M419.7 433.8h0M409.6 449.8h0M385.6 397.9h0M391.8 415.4h0M398.4 423.2h0" stroke="#cb9d8c" stroke-width="3.2" stroke-linecap="round"/>
<path d="M392.1 428.9h0M419.9 444.1h0M386.9 427.2h0M398.7 416.8h0M423.2 401.6h0M394.5 413.6h0M393.5 419.3h0M373.4 422.7h0" stroke="#efefcc" stroke-width="3.2" stroke-linecap="round"/>
<path d="M375.9 423.4h0M381 408.6h0M405.9 413.8h0M423 410.6h0M401.1 404.6h0M425.8 403.3h0M406.1 424.4h0M409.4 439.1h0" stroke="#decfa6" stroke-width="3.2" stroke-linecap="round"/>
<path d="M393.7 402.4h0M389 444.6h0M380.4 426.7h0M394.9 412.4h0M405 428h0M422.7 407h0M429.1 423.7h0M407.1 399.9h0M410.6 448.3h0M414.6 434.1h0M390 405.1h0M373.3 423.1h0M411.7 425.9h0M401.6 406.7h0M396.2 439.5h0" stroke="#a86d6d" stroke-width="3.2" stroke-linecap="round"/>
<path d="M400 402.8h0M410.6 404.7h0M410.8 410h0M406.2 408.1h0M427.2 423.1h0M363 434.6h0M387.5 403.5h0M391 405.6h0" stroke="#1e0000" stroke-width="3.2" stroke-linecap="round"/>
<path d="M392.8 441.2h0M424.5 394.6h0M393.5 386.6h0M374 414.4h0M393.6 430.6h0M383.9 419.7h0M389.5 420h0M399.6 421.9h0M407 414.1h0M386.6 419.8h0M412.3 418.5h0M395.4 425.3h0M401.2 429.1h0" stroke="#d5b89a" stroke-width="3.2" stroke-linecap="round"/>
<path d="M407.3 422h0M440 391.1h0" stroke="#ffffff" stroke-width="3.2" stroke-linecap="round"/>
<path d="M371.8 419.4h0" stroke="#f7f7e7" stroke-width="3.2" stroke-linecap="round"/>
<path d="M291.6 426.7H489.6" stroke="#000" stroke-width="1.1" stroke-dasharray="4 1.715"/>
<path d="M390.6 360V493.4" stroke="#000" stroke-width="1.1" stroke-dasharray="4.16 1.8"/>
</g>
<rect x="291.6" y="360" width="198" height="133.4" fill="none" stroke="#000" stroke-width="0.58"/>
<path d="M291.6 493.4v2.5M316.35 493.4v2.5M341.1 493.4v2.5M365.85 493.4v2.5M390.6 493.4v2.5M415.35 493.4v2.5M440.1 493.4v2.5M464.85 493.4v2.5M489.6 493.4v2.5" stroke="#000" stroke-width="0.58"/>
<text x="291.6" y="504.5" text-anchor="middle" font-size="8.32" textLength="17.07" lengthAdjust="spacingAndGlyphs">−2.0</text>
<text x="316.35" y="504.5" text-anchor="middle" font-size="8.32" textLength="17.07" lengthAdjust="spacingAndGlyphs">−1.5</text>
<text x="341.1" y="504.5" text-anchor="middle" font-size="8.32" textLength="17.07" lengthAdjust="spacingAndGlyphs">−1.0</text>
<text x="365.85" y="504.5" text-anchor="middle" font-size="8.32" textLength="17.07" lengthAdjust="spacingAndGlyphs">−0.5</text>
<text x="390.6" y="504.5" text-anchor="middle" font-size="8.32" textLength="10.95" lengthAdjust="spacingAndGlyphs">0.0</text>
<text x="415.35" y="504.5" text-anchor="middle" font-size="8.32" textLength="10.95" lengthAdjust="spacingAndGlyphs">0.5</text>
<text x="440.1" y="504.5" text-anchor="middle" font-size="8.32" textLength="10.95" lengthAdjust="spacingAndGlyphs">1.0</text>
<text x="464.85" y="504.5" text-anchor="middle" font-size="8.32" textLength="10.95" lengthAdjust="spacingAndGlyphs">1.5</text>
<text x="489.6" y="504.5" text-anchor="middle" font-size="8.32" textLength="10.95" lengthAdjust="spacingAndGlyphs">2.0</text>
<path d="M291.6 493.4h-2.5M291.6 476.72h-2.5M291.6 460.05h-2.5M291.6 443.38h-2.5M291.6 426.7h-2.5M291.6 410.02h-2.5M291.6 393.35h-2.5M291.6 376.68h-2.5M291.6 360h-2.5" stroke="#000" stroke-width="0.58"/>
<text x="286.3" y="496.8" text-anchor="end" font-size="8.32" textLength="17.07" lengthAdjust="spacingAndGlyphs">−2.0</text>
<text x="286.3" y="480.12" text-anchor="end" font-size="8.32" textLength="17.07" lengthAdjust="spacingAndGlyphs">−1.5</text>
<text x="286.3" y="463.45" text-anchor="end" font-size="8.32" textLength="17.07" lengthAdjust="spacingAndGlyphs">−1.0</text>
<text x="286.3" y="446.77" text-anchor="end" font-size="8.32" textLength="17.07" lengthAdjust="spacingAndGlyphs">−0.5</text>
<text x="286.3" y="430.1" text-anchor="end" font-size="8.32" textLength="10.95" lengthAdjust="spacingAndGlyphs">0.0</text>
<text x="286.3" y="413.42" text-anchor="end" font-size="8.32" textLength="10.95" lengthAdjust="spacingAndGlyphs">0.5</text>
<text x="286.3" y="396.75" text-anchor="end" font-size="8.32" textLength="10.95" lengthAdjust="spacingAndGlyphs">1.0</text>
<text x="286.3" y="380.07" text-anchor="end" font-size="8.32" textLength="10.95" lengthAdjust="spacingAndGlyphs">1.5</text>
<text x="286.3" y="363.4" text-anchor="end" font-size="8.32" textLength="10.95" lengthAdjust="spacingAndGlyphs">2.0</text>
<rect x="295.6" y="360" width="5.23" height="7.2" fill="#1e0000"/>
<rect x="300.53" y="360" width="5.23" height="7.2" fill="#643f3f"/>
<rect x="305.47" y="360" width="5.23" height="7.2" fill="#8a5959"/>
<rect x="310.4" y="360" width="5.23" height="7.2" fill="#a86d6d"/>
<rect x="315.33" y="360" width="5.23" height="7.2" fill="#c17e7e"/>
<rect x="320.27" y="360" width="5.23" height="7.2" fill="#cb9d8c"/>
<rect x="325.2" y="360" width="5.23" height="7.2" fill="#d5b89a"/>
<rect x="330.13" y="360" width="5.23" height="7.2" fill="#decfa6"/>
<rect x="335.07" y="360" width="5.23" height="7.2" fill="#e7e4b2"/>
<rect x="340" y="360" width="5.23" height="7.2" fill="#efefcc"/>
<rect x="344.93" y="360" width="5.23" height="7.2" fill="#f7f7e7"/>
<rect x="349.87" y="360" width="4.93" height="7.2" fill="#ffffff"/>
<path d="M354.8 360L358.2 363.6L354.8 367.2Z" fill="#ffffff"/>
<path d="M295.6 360H354.8L358.2 363.6L354.8 367.2H295.6Z" fill="none" stroke="#333" stroke-width="0.58"/>
<path d="M295.6 367.2v2.5M300.53 367.2v1.44M305.47 367.2v1.44M310.4 367.2v1.44M315.33 367.2v2.5M320.27 367.2v1.44M325.2 367.2v1.44M330.13 367.2v1.44M335.07 367.2v2.5M340 367.2v1.44M344.93 367.2v1.44M349.87 367.2v1.44M354.8 367.2v2.5" stroke="#000" stroke-width="0.58"/>
<text x="295.6" y="378.1" text-anchor="middle" font-size="8.32" textLength="3.99" lengthAdjust="spacingAndGlyphs">0</text>
<text x="315.33" y="378.1" text-anchor="middle" font-size="8.32" textLength="3.99" lengthAdjust="spacingAndGlyphs">1</text>
<text x="335.07" y="378.1" text-anchor="middle" font-size="8.32" textLength="3.99" lengthAdjust="spacingAndGlyphs">2</text>
<text x="354.8" y="378.1" text-anchor="middle" font-size="8.32" textLength="3.99" lengthAdjust="spacingAndGlyphs">3</text>
<text x="299.12" y="388" font-size="8.21" textLength="17.38" lengthAdjust="spacingAndGlyphs">MISR</text><text x="319.45" y="388" font-size="8.21" textLength="1.97" lengthAdjust="spacingAndGlyphs">-</text><text x="324.37" y="388" font-size="8.21" textLength="18.24" lengthAdjust="spacingAndGlyphs">ERA5</text><text x="345.57" y="388" font-size="8.21" font-style="italic" textLength="4.31" lengthAdjust="spacingAndGlyphs">V</text>
<text x="312.42" y="397.6" font-size="8.21" textLength="9.44" lengthAdjust="spacingAndGlyphs">(m</text><text x="324.86" y="397.6" font-size="8.21" font-style="italic" textLength="3.2" lengthAdjust="spacingAndGlyphs">s</text><text x="328.61" y="394.72" font-size="5.75" textLength="7.17" lengthAdjust="spacingAndGlyphs">−1</text><text x="336.34" y="397.6" font-size="8.21" textLength="2.24" lengthAdjust="spacingAndGlyphs">)</text>
<text x="359.34" y="515.5" font-size="8.66" textLength="18.33" lengthAdjust="spacingAndGlyphs">ERA5</text><text x="380.67" y="515.5" font-size="8.66" font-style="italic" textLength="5.28" lengthAdjust="spacingAndGlyphs">w</text><text x="386.53" y="517.17" font-size="6.06" font-style="italic" textLength="2.66" lengthAdjust="spacingAndGlyphs">e</text><text x="392.09" y="515.5" font-size="8.66" textLength="13.28" lengthAdjust="spacingAndGlyphs">(cm</text><text x="408.37" y="515.5" font-size="8.66" font-style="italic" textLength="3.12" lengthAdjust="spacingAndGlyphs">s</text><text x="412.07" y="512.46" font-size="6.06" textLength="7.05" lengthAdjust="spacingAndGlyphs">−1</text><text x="419.7" y="515.5" font-size="8.66" textLength="2.16" lengthAdjust="spacingAndGlyphs">)</text>
<g transform="rotate(-90 264.7 426.7)"><text x="233.14" y="426.7" font-size="8.66" textLength="17.88" lengthAdjust="spacingAndGlyphs">MISR</text><text x="254.08" y="426.7" font-size="8.66" font-style="italic" textLength="5.42" lengthAdjust="spacingAndGlyphs">w</text><text x="260.09" y="428.37" font-size="6.06" font-style="italic" textLength="2.74" lengthAdjust="spacingAndGlyphs">e</text><text x="265.78" y="426.7" font-size="8.66" textLength="13.6" lengthAdjust="spacingAndGlyphs">(cm</text><text x="282.44" y="426.7" font-size="8.66" font-style="italic" textLength="3.21" lengthAdjust="spacingAndGlyphs">s</text><text x="286.22" y="423.66" font-size="6.06" textLength="7.22" lengthAdjust="spacingAndGlyphs">−1</text><text x="294.03" y="426.7" font-size="8.66" textLength="2.23" lengthAdjust="spacingAndGlyphs">)</text></g>
<text x="304.78" y="476.7" font-size="9.58" textLength="8.76" lengthAdjust="spacingAndGlyphs" style="stroke-width:0.2px">(f)</text>
<defs><clipPath id="csg"><rect x="38.4" y="531.4" width="198" height="133.1"/></clipPath></defs>
<g clip-path="url(#csg)">
<path d="M87.5 615h0M121 578.6h0M113.8 630.3h0M112 574.5h0M109.3 591.4h0M119.5 578h0M117.6 584.2h0M152.1 608.2h0M157.6 608.5h0M139.3 607.7h0M114.1 598.7h0M99.5 584.1h0M78 597.5h0M196 555h0M139.4 621.1h0M95 570.5h0M90.8 588.3h0M126.6 633.6h0M102.6 597.5h0M163.2 612h0M107.3 615.1h0M94.1 590.2h0M98.1 596.2h0M141.8 614.8h0M122.5 595h0M95.5 589.7h0M101.4 608.9h0M103.4 604.7h0M104.7 589.9h0M139.9 602.5h0M96.7 598.3h0M121 565h0M132 601.7h0M161.4 608.7h0M75.5 603.5h0M142.4 614.3h0" stroke="#549ecd" stroke-width="3.2" stroke-linecap="round"/>
<path d="M140.6 621.7h0M120 603.8h0M120.4 601.4h0M114.1 625.4h0M137.4 607.3h0M109 609.3h0M113.6 616.9h0M137 561.5h0M144.2 609.6h0M131 605.3h0M153.8 618.9h0M121 564h0M121.7 627.6h0M133.8 624.6h0M124.6 617.5h0M107.2 603.3h0M151.6 610.3h0M139.3 622.5h0M173 573.5h0M165 610h0M158.2 550h0M164 581h0M81.5 627.5h0M154 610h0M108.1 609h0" stroke="#dbe9f6" stroke-width="3.2" stroke-linecap="round"/>
<path d="M152.6 621.3h0M110.2 602h0M148.9 624.6h0M105.1 605.2h0M146 631h0M117.3 613.1h0M134.2 622.2h0M122.3 591.8h0M94.4 594.3h0M113.8 593.9h0M136 614.3h0M97.6 605.4h0M87.5 651h0M89 585h0M122 563h0M147.6 611.6h0M118.7 609h0M158 609.2h0M122.9 636.6h0M108.8 616.7h0M133.3 610.5h0M135.7 592h0M88.7 603.4h0M114.2 627h0M156.5 608.7h0M143 585.5h0M140 626.9h0M137.3 603.8h0M138.9 605.7h0M172.5 591.5h0M95 598.1h0M101.5 633h0M100.9 602.5h0M142.7 613.8h0M117.6 603.7h0M100.4 592h0M105.3 611.3h0M180.5 598h0M82 596.5h0M134.6 624.8h0M125.4 623.2h0M134.3 622.8h0" stroke="#88bedc" stroke-width="3.2" stroke-linecap="round"/>
<path d="M108.5 593.3h0M117.9 609h0M110.4 599.1h0M144.4 606.1h0M133.9 612.4h0M167 601.4h0M134 577h0M144.7 618.9h0M145 613.4h0M132.9 622.2h0M93.5 584h0M156 621.5h0M156.5 627.5h0M114.6 622.9h0M158.5 599.5h0M124.8 617.2h0M133.4 637.8h0M111.1 616.5h0M121.4 601.2h0M106.7 612.8h0M107.5 607.3h0M158.1 607.3h0" stroke="#bbd6eb" stroke-width="3.2" stroke-linecap="round"/>
<path d="M94.5 646h0M166.8 606.7h0M153.9 600.1h0M131.4 598.5h0M126.9 633.9h0M138.9 616.4h0M148 631.5h0M143 654.2h0M89.8 596h0M121 588.5h0M127.3 615h0M138 566h0M130 588.5h0M126.5 637.2h0M165 598.5h0M87.2 596.3h0M180.5 598.5h0" stroke="#0c56a0" stroke-width="3.2" stroke-linecap="round"/>
<path d="M134.3 629h0M123.9 618.6h0M152.8 628.3h0M109.5 615.2h0M113.4 614.7h0M142.9 616.9h0M97.8 609.3h0M137.5 628h0M150.9 614.4h0" stroke="#f7fbff" stroke-width="3.2" stroke-linecap="round"/>
<path d="M131 572.5h0M155.6 613.8h0M151.9 613.4h0M160.9 606.9h0M88.2 587h0M147.5 578h0M128.5 572.5h0M114 628h0M104.5 642h0M103.4 589.6h0M155.9 607.8h0M161.5 584.5h0M122.5 659h0M107.8 589.2h0M152 597h0M126.1 592.8h0M93 650.5h0M129.9 587.8h0M153.3 611.4h0M137.9 615.7h0M103.4 615h0M125.8 630h0M79.2 591.5h0" stroke="#2a7aba" stroke-width="3.2" stroke-linecap="round"/>
<path d="M133.5 652.5h0M109 653h0M139.1 607h0M132.7 591h0M154.5 634h0M95 599.2h0M110.5 645.5h0M127.4 596.3h0M150.1 623.3h0M128.3 610.7h0M125.1 601.4h0" stroke="#08306b" stroke-width="3.2" stroke-linecap="round"/>
<path d="M124 642h0M106.5 576h0M113.9 617.1h0M129.3 590.6h0M132.9 595.3h0M84.5 588h0M111.6 616.8h0M113.9 612.8h0M111.5 653h0M168 588.5h0M131.3 625.2h0M129.5 626.8h0M119.2 629.6h0M80.5 607.5h0M124.9 592.8h0M150.4 626.7h0M125.1 619.7h0M162.8 614.3h0M117.6 633.8h0M93.4 587.4h0M129.4 601.5h0M118 629.9h0M92.6 582.4h0M99.9 607.2h0M153.3 607.4h0M131.5 631.9h0M115.9 637.6h0M98 578h0M124 631.3h0M140.4 613.3h0M106.5 653h0M103.2 604.5h0M92.9 602.6h0M115.4 625h0M140.5 584.5h0M186 594.5h0M127.5 600.9h0M152.3 599.3h0M91.1 594.5h0M134.3 599.6h0M146.8 628.4h0M100.7 606.9h0" stroke="#549ecd" stroke-width="3.2" stroke-linecap="round"/>
<path d="M155 610.4h0M148.2 627.5h0M115.1 619.8h0M150.6 616h0M149.5 624.8h0M146.9 608.6h0M85.3 586.5h0M108.4 604.3h0M164.9 609.7h0M147.6 616.1h0M125.7 624.1h0" stroke="#f7fbff" stroke-width="3.2" stroke-linecap="round"/>
<path d="M143.1 618.9h0M128.5 602.4h0M99.8 598.8h0M152.9 622.8h0M111.1 626.8h0M128.7 625h0M78 598.3h0M121.6 615h0M148.2 609.2h0M138.4 626.9h0M133 602.6h0M125.2 631.2h0M149 633.5h0M138.8 604.4h0M119.4 604.6h0M132 635.4h0M181.5 578.5h0M139.8 626.1h0M155.5 585.5h0M135 617.3h0M139.4 624.4h0M155.9 602.2h0M99.6 593.3h0M125 615.5h0M127.9 590.1h0M142 617.6h0M140 632h0M139.7 619.7h0M151 638.5h0" stroke="#bbd6eb" stroke-width="3.2" stroke-linecap="round"/>
<path d="M100.5 580h0M91.8 590.6h0M151.6 623h0M98.8 593.7h0M130.5 606.6h0M153.5 625.9h0M92.4 606.8h0M150.2 622.2h0M94.3 593.8h0M93 588.8h0M131.2 604.7h0M130.3 607.6h0M158.5 564.8h0M115.5 594.9h0M129 629.4h0M128 639.5h0M134.7 611.3h0M116.5 594.6h0M100.5 586.2h0M126.5 613h0M120.7 618.4h0M95 598h0M115.9 602.5h0M150 556.8h0M103.6 612.4h0M98.1 588.6h0M136.1 612.3h0M221 538.2h0M123.2 637.1h0M120.6 584.6h0M127.6 591.1h0M122.2 611.8h0M92 581.5h0M157.7 608.9h0M113.9 610.5h0M154.9 603.2h0M103.2 593.8h0M136.6 599.6h0M133 561h0M96.6 595.7h0M137.2 597h0M160.4 607.6h0M151.5 622.3h0M125.6 603.3h0M138 629h0M103.7 596.6h0M136.3 625.5h0M121.8 594.5h0M85.1 596.2h0M164 616h0M81.1 584.3h0" stroke="#88bedc" stroke-width="3.2" stroke-linecap="round"/>
<path d="M130.7 622.9h0M145.5 614.5h0M122 652.5h0M115.6 599.7h0M110.5 602.1h0M121.9 629.1h0M109.5 591h0M146.1 630.6h0M162.4 614.2h0M127 585.5h0M152.7 605.1h0M121 619.5h0M140.5 624h0M134.8 629h0M186 590.5h0" stroke="#dbe9f6" stroke-width="3.2" stroke-linecap="round"/>
<path d="M138.3 620.7h0M126.6 639.1h0M92.9 604.3h0M117.6 632.5h0M118 583h0M163.3 610.4h0M118 586.5h0M135.4 631.3h0M131.4 631.3h0M153 600.8h0M146.4 607.5h0" stroke="#0c56a0" stroke-width="3.2" stroke-linecap="round"/>
<path d="M151.5 585.5h0M139 606.3h0M98.1 594.5h0M122 635.8h0M121.2 617h0M100.2 586.3h0M125.1 639.9h0M159 628h0M96.3 603.3h0M112.8 598.6h0M176.8 560.2h0M154.1 607.2h0M96.5 580.6h0M121.1 597.4h0M178 579.5h0M143.5 578h0M145.8 622.4h0M122 593.2h0M140.5 592h0M122.9 593.7h0M115.7 595.8h0" stroke="#2a7aba" stroke-width="3.2" stroke-linecap="round"/>
<path d="M185 575.5h0M115 660.5h0M108.9 631.4h0M134.6 634.7h0M138.1 620.7h0M141.5 599.3h0" stroke="#08306b" stroke-width="3.2" stroke-linecap="round"/>
<path d="M89.2 603h0M103.3 590.4h0M90.1 589h0M153.4 611.5h0M149 612.4h0M155.3 613.8h0" stroke="#0c56a0" stroke-width="3.2" stroke-linecap="round"/>
<path d="M161.5 614h0M120.1 606.9h0M131.2 625.8h0M96.6 599.5h0M108.7 597.6h0M148 626.5h0M77 629.2h0M111.7 602.4h0M131.3 622.4h0M98 643.5h0M165 604.1h0M157.4 612.6h0M126 589h0M150.1 607.3h0M101.7 598.4h0M166.9 608.3h0M123.6 629.7h0M70 587.5h0M165.7 602.5h0M112.4 622.9h0M141.4 624h0M139.2 613.8h0M117.1 605.9h0M158 586.5h0M143.8 623.8h0M161.4 612.5h0M88.6 603.6h0M134 636.5h0M130.3 591.5h0M108.7 616.6h0M88.2 598.3h0M146.5 629.3h0M127.4 616.5h0M115.9 629.7h0M139.9 617.9h0M103.5 610.4h0M137.2 622.8h0M101.7 581h0M136.8 605.7h0M104.4 612.8h0M115 585h0M102.5 580.2h0M105 639.5h0M107.4 608.6h0M120.1 623.1h0M104 583h0M86 608.5h0M153.3 625h0M103.7 598.7h0" stroke="#88bedc" stroke-width="3.2" stroke-linecap="round"/>
<path d="M141.5 601h0M121.1 626.4h0M115 578h0M115.6 602.9h0M130.6 623h0M146.5 576h0M130.2 581.6h0M92.1 598.6h0M114.7 601.1h0M162.3 609.2h0M120.3 622.7h0M122 628.3h0M135.5 601.3h0M122.6 609.5h0M108.5 602.9h0M115.7 591.3h0M104.5 584.5h0M143.6 612.7h0M141.5 626.2h0M131.5 608h0M149.7 627.5h0M86.5 605h0M154.1 622.4h0M134.4 612.3h0M140.5 636.5h0M151 625.8h0M155.9 619.1h0M117.6 618.8h0M137.5 598.1h0M121.8 600.5h0M144.8 628.8h0M137.7 620h0M143.9 606.4h0M105.5 603h0M109 598.4h0M109.9 612.1h0M84 593.5h0M94.2 592.2h0M137.9 601.7h0" stroke="#bbd6eb" stroke-width="3.2" stroke-linecap="round"/>
<path d="M127.5 618h0M89.2 602.1h0M109.5 582h0M111.5 625.9h0M92 598.7h0M101 628.5h0M134.2 574h0M152 632.5h0M133.5 606.9h0M136.6 633.9h0M108.7 584.1h0M100.2 597.5h0M159.2 611.8h0M98.4 602.2h0M92 589.2h0M144.7 631.1h0M117.2 636.3h0M137 566.2h0M139.7 618.9h0M146.1 617.2h0M93.6 590h0M97.8 589.5h0M135.8 605.6h0M130.5 625h0M133.7 597.9h0M116 572.5h0M128.4 589.8h0M125.1 635.4h0M119.6 620.5h0M149.3 609.3h0M104.3 594.3h0" stroke="#549ecd" stroke-width="3.2" stroke-linecap="round"/>
<path d="M160.8 601.4h0M140.6 607.6h0M140.4 606h0M152 621.6h0" stroke="#f7fbff" stroke-width="3.2" stroke-linecap="round"/>
<path d="M151.8 564.5h0M122.4 611.4h0M134.5 594.7h0M122.1 611.7h0M122.7 595.1h0M146.7 609.3h0M129.7 639.5h0M111.3 602.6h0M69 596.8h0" stroke="#08306b" stroke-width="3.2" stroke-linecap="round"/>
<path d="M114.6 594.1h0M132.1 608.9h0M131.7 589.6h0M157.5 607.8h0M116.9 595.8h0M140.1 612.9h0M105 598.6h0M110.2 600.4h0M119.8 588.9h0M146.9 599.2h0M185 610h0M148.5 621.7h0M133.4 604.6h0M159.2 608.7h0M83 629.5h0M141 627.1h0M101.2 609h0M109.4 621.3h0M124.6 626.2h0M106.5 618h0M84 622.5h0M159.3 609.5h0M114.9 593.2h0" stroke="#dbe9f6" stroke-width="3.2" stroke-linecap="round"/>
<path d="M104.3 596.5h0M125.8 630.1h0M166.9 605.5h0M119.2 632.3h0M65.5 599.5h0M160 629.5h0M136.9 591.9h0M124.9 638.8h0M101 585.5h0M114.9 620.4h0M145.8 607.9h0M100 645h0M96.2 590.5h0M103.7 606.7h0M125.3 634.5h0M97.5 588h0M158.5 566.5h0M111 579.8h0M135.2 604.6h0M122 639h0M136.9 595.9h0M136.8 637.6h0M153.1 621.5h0M118.4 596.6h0" stroke="#2a7aba" stroke-width="3.2" stroke-linecap="round"/>
<path d="M135.8 622.4h0M102.9 608.3h0M142.8 609.2h0M94.6 599.4h0M112.1 600.8h0M95.5 604.9h0M154.4 613.4h0M135.5 612.3h0M153 575h0M143.4 599.6h0M126 630.9h0M121.8 627.2h0M125.7 610.2h0M153.8 624.8h0M116.6 601h0M108.6 611.3h0M138.9 614.7h0M145.2 606.7h0" stroke="#dbe9f6" stroke-width="3.2" stroke-linecap="round"/>
<path d="M103.2 605.2h0M160.4 608.1h0M97.5 586h0M124.7 600.9h0M95 612.5h0M116.4 628.6h0M124.2 629.2h0M122.1 612.9h0M124.5 651h0M151.3 625.8h0M147.3 605.8h0M155 631h0M96.1 594.1h0M92 589h0M142.3 613.8h0M127.4 598.7h0M145.9 628.9h0M136.7 602.8h0M120 648h0M113 589.5h0M150.7 621.7h0M128.2 604.3h0M129.9 604.9h0M87 591.5h0M155 615h0M103 648.5h0M153 626.2h0M89.2 598.3h0M127.6 605.9h0M91.7 598.7h0M101.7 611.7h0M145.5 624.1h0M124 647h0M130.8 596h0M110.5 616.5h0M102.4 609.4h0M77.5 602.5h0M156 620.9h0M162.1 603.5h0M164 611h0" stroke="#549ecd" stroke-width="3.2" stroke-linecap="round"/>
<path d="M99 610.4h0M121.6 615.6h0M107.5 587.5h0M118.3 595.9h0M132.8 603.6h0M137.3 613.3h0M139.2 610h0M150.4 600h0M116.9 609.7h0M105.2 595.8h0M120.7 609.9h0M112.2 603.4h0M137.3 598.8h0M112.6 601.6h0M91.5 603.5h0M150 618.1h0M136.4 589.8h0M169.5 615h0M113.9 598.5h0M98.1 601.5h0M137.5 615.1h0M120.1 612h0M163.5 600h0M129.1 610.5h0M122.7 598.1h0M88.9 586.5h0M176 598.5h0M176 572h0M147.1 628.4h0M154.8 605.3h0M118.8 630.3h0M90.2 599.6h0M133.7 624.9h0M153.2 599.9h0M128.3 599.7h0M110.2 619.6h0M118.4 605.6h0M106.9 617.7h0M157.8 623.7h0M117.7 624.1h0M145.7 601.7h0" stroke="#bbd6eb" stroke-width="3.2" stroke-linecap="round"/>
<path d="M139.6 608.2h0M135.6 625.5h0M115 581.5h0M116 628.5h0M138.5 597h0M100.5 588.1h0M71 612.8h0M146.5 615.6h0M135.5 631.1h0M135 588.5h0M126 566h0M94.2 584.7h0M94 578h0M142.9 623h0M127.8 612h0M133.1 588.6h0M143.5 593.5h0M157.3 605.9h0M141.4 618.9h0M171.5 601.5h0M97 574.5h0M157.6 616.8h0M140.7 601h0M180.5 602.5h0M140.6 626.6h0M123.4 630.8h0M114.3 592.3h0M111.1 578.6h0M87 610.5h0M127.7 590h0M144 611.3h0M100 607.1h0M96.5 607.6h0M163 607.9h0M121 595.6h0" stroke="#88bedc" stroke-width="3.2" stroke-linecap="round"/>
<path d="M137.8 622.8h0M177.5 576.5h0M103.5 652h0M123.9 579.1h0M102.2 597.3h0M113.4 621.6h0M203.2 555.2h0M157.4 621.1h0M126.2 623.6h0M68 598.5h0M145.1 622.3h0M146.9 631.3h0M144.1 616.5h0M117.4 579.7h0M73.2 596.5h0" stroke="#08306b" stroke-width="3.2" stroke-linecap="round"/>
<path d="M150.5 602.5h0M166 596h0M137 600.3h0M160.6 615.7h0M115.9 620.1h0M129.4 620.9h0M97.2 607.6h0M123.7 599.6h0M122.3 623.7h0M135.1 620.2h0M129.5 608.2h0M116.2 622.8h0" stroke="#f7fbff" stroke-width="3.2" stroke-linecap="round"/>
<path d="M148 651h0M136.8 623.7h0M99.1 595.9h0M175 603h0M88.6 601.9h0M128.3 637.6h0M104.4 613.5h0M149.8 621.1h0M105.5 615.2h0M131.2 601h0M164.5 608.2h0M161.7 605.4h0M108.3 596.5h0M147.5 563h0M133.8 603.3h0" stroke="#2a7aba" stroke-width="3.2" stroke-linecap="round"/>
<path d="M160.3 606.4h0M163.7 608.2h0M122.5 616.1h0M110.5 643.5h0M97.8 594.5h0M119.1 630.2h0M89.4 591.8h0M86 622h0M214.2 589h0M138.5 640h0" stroke="#0c56a0" stroke-width="3.2" stroke-linecap="round"/>
<path d="M89.4 591h0M129.4 618.2h0M119.8 598.9h0M122.6 590.9h0M166.5 605.3h0M109 575h0M123 585h0M102.1 601.5h0M127.8 602.5h0M163.1 610.3h0M109 633h0M126.6 635.9h0M168 599.5h0M175 574.5h0M150.3 606.4h0M140.3 628.7h0M78.5 599.5h0M126 564.5h0M127.5 612.2h0M160 640.5h0M116.1 594.8h0M163.1 608.1h0M105.7 596.8h0M94.5 618h0M146.5 599.3h0M137.5 561.5h0M89 651.5h0M117 638h0M103.5 623.5h0M143.2 617.7h0M141 642.5h0M103.8 611.1h0M156 605.5h0M186 580.5h0M108.3 611.2h0M158 581.5h0M128.1 606.6h0M127.2 590.9h0M145.5 604.7h0" stroke="#549ecd" stroke-width="3.2" stroke-linecap="round"/>
<path d="M107.3 612.5h0M127.9 594.5h0M118.7 613.3h0M159.1 614.6h0M140.4 610.5h0M108.1 604.9h0M145.7 624.1h0M136.3 625.1h0M120.9 598.9h0M151.5 598.5h0M140.8 619.5h0M103.5 589h0M110.1 620.8h0M111 630.6h0M134.3 630.3h0M128.1 604.1h0M142.8 611.9h0M174.5 607.5h0M121.1 617.9h0M161 592h0M150.5 603.2h0M139 602.5h0M117.6 592h0M122.2 616.9h0M101.8 607.2h0M136.7 608.6h0M115.8 587h0M124.3 597.2h0M152.8 628h0M106.1 600.8h0M139.2 620.7h0M159.7 607.7h0M145.2 624.4h0M102.6 593.5h0" stroke="#bbd6eb" stroke-width="3.2" stroke-linecap="round"/>
<path d="M84.5 657.8h0M145.2 630.7h0M99.3 591.4h0M93.7 593.2h0M123.5 596.9h0M160.9 617.8h0M135.8 605.1h0M150 630.2h0M161.1 604.7h0M82 592.4h0M152.6 606h0M117.6 625.3h0M161 602.8h0M129.5 603.1h0M135 585h0M88.5 614.5h0M92 634h0M152 630h0M136.8 609.3h0M92.8 593h0M154.2 604.9h0M103.9 609.6h0M119.2 576.2h0M113.8 595.6h0M139 590h0M118.3 583h0M155.9 599.6h0M127 602.3h0M86.5 597h0M128.7 582.6h0M141 586.5h0M122.9 624.8h0M150.1 611.6h0M109 638.5h0M159.5 606h0M200 573.2h0M112.3 601.6h0" stroke="#88bedc" stroke-width="3.2" stroke-linecap="round"/>
<path d="M103.5 580.5h0M111.9 589h0M80 588.5h0M71 590.5h0M137.9 623.9h0M92.8 593.1h0M120 580.5h0M113.6 617.1h0M122 574.6h0M108.1 583.1h0M174.5 558.2h0M154.5 620.5h0M137.5 588h0M130.1 598.4h0M107.7 589.1h0M127.7 625.6h0M142.5 575h0M121.2 637.4h0M133.4 631.9h0M110.8 616.5h0M125.1 635.2h0M136.5 591.6h0M124.8 638.6h0M163.4 613.1h0M133.2 613.9h0M129.3 605.2h0M133 635.5h0M152.6 603.9h0M106.4 591.8h0" stroke="#2a7aba" stroke-width="3.2" stroke-linecap="round"/>
<path d="M147 596h0M117.5 633h0M120.1 606h0M106.6 595.5h0M90.8 604.7h0M116.2 596.5h0M158.2 622h0M156.5 635.5h0M97.7 596.4h0M106.5 645h0" stroke="#0c56a0" stroke-width="3.2" stroke-linecap="round"/>
<path d="M140.7 607.7h0M181 575.5h0M128.2 605.1h0M142.8 625h0M143.4 613.6h0M135.5 604.3h0M165.5 605.5h0M123.1 608.1h0M128.5 628h0M126.8 637.6h0M126 620.3h0M133.4 617.2h0M130.6 620.1h0M90 606.3h0M109.5 629.3h0" stroke="#dbe9f6" stroke-width="3.2" stroke-linecap="round"/>
<path d="M123.9 625h0M106.5 581h0M134.6 628.1h0M145.7 613.6h0M120.7 611.6h0M122.2 592.1h0M118.5 616.5h0M131 583.5h0" stroke="#f7fbff" stroke-width="3.2" stroke-linecap="round"/>
<path d="M165.8 606.5h0M128.1 593.7h0M109 661.5h0M136.9 624h0M123.5 654.5h0M112.5 636.9h0M107 578.5h0M116.4 612.3h0M129.1 631.1h0M125.2 632.3h0M144.6 629.5h0M116 643.5h0M176.5 596.5h0" stroke="#08306b" stroke-width="3.2" stroke-linecap="round"/>
<path d="M110.6 598.4h0M150.2 603.8h0M156.6 618.9h0M138.1 615.1h0M78 584.2h0M114.7 608.9h0M100.1 598.9h0M142 604.8h0M122.5 572.8h0M109.1 621.9h0M113.6 607.1h0M117.4 616.9h0M126.5 572.8h0M112.6 590.9h0M95 604.7h0M111.4 590.7h0M114.5 568h0M124.2 580.3h0M210.2 559.5h0M150.6 608.8h0M144.1 615.8h0M114.5 653h0M112.6 610.1h0M153 611.4h0M152 609.5h0M111 570.5h0M150.5 595.5h0M111.2 606.9h0M143.1 601.6h0M100 619.5h0M156.7 608.7h0M137.7 598h0M148 608.1h0M101.3 608.7h0M152.5 599.3h0M89.5 592.1h0M104 607.1h0M156.5 651.5h0M145.3 629.7h0M121.8 578.9h0M152 637h0M125.6 604.5h0M108.6 626.4h0" stroke="#88bedc" stroke-width="3.2" stroke-linecap="round"/>
<path d="M143.4 614.7h0M151.1 611.6h0M144.9 622.7h0M128.9 589.8h0M136.7 574.5h0M153.4 604.7h0M157.9 608.3h0M157.3 616.9h0M104.4 614h0M179 607h0M131.8 601.1h0M106.4 595.1h0M106.4 589.3h0M146 619.7h0M118.4 600.6h0M148.9 625.8h0M92.6 593.3h0M148 630.3h0M148.8 615.5h0M119.4 608.8h0M148.7 622h0M82 591.5h0M103.5 607.9h0M120.8 625.6h0M146.4 616.7h0M105.9 598.7h0M121.3 620.6h0M166.4 608.7h0M110.2 608.6h0M95.5 595.9h0M140 621.6h0M105.5 597.8h0M90.6 601.2h0M94.7 604.3h0M148.9 628.1h0M137.5 627.1h0" stroke="#bbd6eb" stroke-width="3.2" stroke-linecap="round"/>
<path d="M162.1 605.1h0M117.4 620.2h0M159.4 607.9h0M88.1 605.8h0M113.9 598.9h0M118.4 623h0M126.4 593.7h0M105.9 605.6h0M96 595.8h0M104.2 595.4h0M128.5 617.4h0M81.5 633h0M129.1 574.6h0M125.7 626.6h0M156.1 618.7h0M70.2 607.2h0M141 628h0M144.2 602.3h0M115.3 628.5h0M135 647h0M153 627h0M140 609h0M169.5 606.5h0M122.3 610.1h0M100.1 600.1h0M125.4 633.8h0M123 582h0M105.3 598.1h0M130.8 622.4h0M90.9 589.6h0M153 579h0M131.3 598h0M125.8 605.8h0" stroke="#549ecd" stroke-width="3.2" stroke-linecap="round"/>
<path d="M99 648h0M139 569h0M111.7 618h0M152 565h0M128.2 620.8h0M87.5 585h0M125.1 635.7h0M113.3 617.3h0M133 593.6h0M149 664.5h0M151.1 600.9h0M98.3 593.8h0" stroke="#0c56a0" stroke-width="3.2" stroke-linecap="round"/>
<path d="M115.1 603.9h0M117.8 604.5h0M137.7 617.8h0M149 612.4h0M124.1 623.7h0M150.3 609.3h0M128.9 589.9h0M102.8 610.2h0M134.8 600.5h0M132.3 627.5h0" stroke="#f7fbff" stroke-width="3.2" stroke-linecap="round"/>
<path d="M80.5 623h0M150.2 624.6h0M149 611.2h0M136.6 621.9h0M125.8 604.3h0M89.8 585.9h0M127.2 609.8h0M130 623h0M141.5 624.2h0M109.3 607.5h0M96.9 588.2h0M149 628h0M120.1 616.9h0M91.5 609.5h0M133.8 603.4h0M132.1 624.9h0M130.9 598.5h0M156.7 620.4h0M120.9 606.9h0M161.5 618.5h0M91.4 592.5h0M112.5 661.5h0" stroke="#dbe9f6" stroke-width="3.2" stroke-linecap="round"/>
<path d="M131.5 596.3h0M150.2 618.4h0M97.3 594.1h0M124.5 659h0M116.3 634.4h0M100.1 610h0M116 612.1h0M215.3 553.5h0M114 638h0M101.2 610.7h0M149.5 578h0M153.8 610.1h0M121 645h0M132.7 598.3h0M147.9 632.2h0M123 631.7h0M152 600.3h0M93.4 606.7h0M101.2 605.1h0M95.5 631h0M208 558.2h0M114 593.3h0M129 643.5h0M118 613.6h0" stroke="#2a7aba" stroke-width="3.2" stroke-linecap="round"/>
<path d="M116 649.5h0M136.2 606.1h0M151 606.6h0M113 651.5h0M115.5 645h0M145.5 633.5h0" stroke="#08306b" stroke-width="3.2" stroke-linecap="round"/>
<path d="M38.4 597.95H236.4" stroke="#000" stroke-width="1.1" stroke-dasharray="4 1.715"/>
<path d="M137.4 531.4V664.5" stroke="#000" stroke-width="1.1" stroke-dasharray="4.16 1.8"/>
</g>
<rect x="38.4" y="531.4" width="198" height="133.1" fill="none" stroke="#000" stroke-width="0.58"/>
<path d="M38.4 664.5v2.5M63.15 664.5v2.5M87.9 664.5v2.5M112.65 664.5v2.5M137.4 664.5v2.5M162.15 664.5v2.5M186.9 664.5v2.5M211.65 664.5v2.5M236.4 664.5v2.5" stroke="#000" stroke-width="0.58"/>
<text x="38.4" y="675.6" text-anchor="middle" font-size="8.32" textLength="17.07" lengthAdjust="spacingAndGlyphs">−2.0</text>
<text x="63.15" y="675.6" text-anchor="middle" font-size="8.32" textLength="17.07" lengthAdjust="spacingAndGlyphs">−1.5</text>
<text x="87.9" y="675.6" text-anchor="middle" font-size="8.32" textLength="17.07" lengthAdjust="spacingAndGlyphs">−1.0</text>
<text x="112.65" y="675.6" text-anchor="middle" font-size="8.32" textLength="17.07" lengthAdjust="spacingAndGlyphs">−0.5</text>
<text x="137.4" y="675.6" text-anchor="middle" font-size="8.32" textLength="10.95" lengthAdjust="spacingAndGlyphs">0.0</text>
<text x="162.15" y="675.6" text-anchor="middle" font-size="8.32" textLength="10.95" lengthAdjust="spacingAndGlyphs">0.5</text>
<text x="186.9" y="675.6" text-anchor="middle" font-size="8.32" textLength="10.95" lengthAdjust="spacingAndGlyphs">1.0</text>
<text x="211.65" y="675.6" text-anchor="middle" font-size="8.32" textLength="10.95" lengthAdjust="spacingAndGlyphs">1.5</text>
<text x="236.4" y="675.6" text-anchor="middle" font-size="8.32" textLength="10.95" lengthAdjust="spacingAndGlyphs">2.0</text>
<path d="M38.4 664.5h-2.5M38.4 647.86h-2.5M38.4 631.23h-2.5M38.4 614.59h-2.5M38.4 597.95h-2.5M38.4 581.31h-2.5M38.4 564.67h-2.5M38.4 548.04h-2.5M38.4 531.4h-2.5" stroke="#000" stroke-width="0.58"/>
<text x="33.1" y="667.9" text-anchor="end" font-size="8.32" textLength="17.07" lengthAdjust="spacingAndGlyphs">−2.0</text>
<text x="33.1" y="651.26" text-anchor="end" font-size="8.32" textLength="17.07" lengthAdjust="spacingAndGlyphs">−1.5</text>
<text x="33.1" y="634.62" text-anchor="end" font-size="8.32" textLength="17.07" lengthAdjust="spacingAndGlyphs">−1.0</text>
<text x="33.1" y="617.99" text-anchor="end" font-size="8.32" textLength="17.07" lengthAdjust="spacingAndGlyphs">−0.5</text>
<text x="33.1" y="601.35" text-anchor="end" font-size="8.32" textLength="10.95" lengthAdjust="spacingAndGlyphs">0.0</text>
<text x="33.1" y="584.71" text-anchor="end" font-size="8.32" textLength="10.95" lengthAdjust="spacingAndGlyphs">0.5</text>
<text x="33.1" y="568.07" text-anchor="end" font-size="8.32" textLength="10.95" lengthAdjust="spacingAndGlyphs">1.0</text>
<text x="33.1" y="551.44" text-anchor="end" font-size="8.32" textLength="10.95" lengthAdjust="spacingAndGlyphs">1.5</text>
<text x="33.1" y="534.8" text-anchor="end" font-size="8.32" textLength="10.95" lengthAdjust="spacingAndGlyphs">2.0</text>
<rect x="50.4" y="531.9" width="7.74" height="7.8" fill="#f7fbff"/>
<rect x="57.84" y="531.9" width="7.74" height="7.8" fill="#dbe9f6"/>
<rect x="65.28" y="531.9" width="7.74" height="7.8" fill="#bbd6eb"/>
<rect x="72.71" y="531.9" width="7.74" height="7.8" fill="#88bedc"/>
<rect x="80.15" y="531.9" width="7.74" height="7.8" fill="#549ecd"/>
<rect x="87.59" y="531.9" width="7.74" height="7.8" fill="#2a7aba"/>
<rect x="95.03" y="531.9" width="7.74" height="7.8" fill="#0c56a0"/>
<rect x="102.46" y="531.9" width="7.44" height="7.8" fill="#08306b"/>
<path d="M50.4 531.9L46.9 535.8L50.4 539.7Z" fill="#f7fbff"/>
<path d="M50.4 531.9H109.9V539.7H50.4L46.9 535.8Z" fill="none" stroke="#333" stroke-width="0.58"/>
<path d="M50.4 539.7v2.5M57.84 539.7v1.44M65.28 539.7v1.44M72.71 539.7v1.44M80.15 539.7v2.5M87.59 539.7v1.44M95.03 539.7v1.44M102.46 539.7v1.44M109.9 539.7v2.5" stroke="#000" stroke-width="0.58"/>
<text x="50.4" y="550.6" text-anchor="middle" font-size="8.32" textLength="19.39" lengthAdjust="spacingAndGlyphs">−400</text>
<text x="80.15" y="550.6" text-anchor="middle" font-size="8.32" textLength="19.39" lengthAdjust="spacingAndGlyphs">−200</text>
<text x="109.9" y="550.6" text-anchor="middle" font-size="8.32" textLength="3.99" lengthAdjust="spacingAndGlyphs">0</text>
<text x="57.02" y="561.3" font-size="8.21" textLength="17.08" lengthAdjust="spacingAndGlyphs">MISR</text><text x="77.01" y="561.3" font-size="8.21" textLength="1.92" lengthAdjust="spacingAndGlyphs">-</text><text x="81.85" y="561.3" font-size="8.21" textLength="17.93" lengthAdjust="spacingAndGlyphs">ERA5</text>
<text x="65.02" y="568.7" font-size="8.21" textLength="14.21" lengthAdjust="spacingAndGlyphs">CTH</text><text x="82.18" y="568.7" font-size="8.21" textLength="12" lengthAdjust="spacingAndGlyphs">(m)</text>
<text x="107.54" y="686.6" font-size="8.66" textLength="18.37" lengthAdjust="spacingAndGlyphs">ERA5</text><text x="128.92" y="686.6" font-size="8.66" font-style="italic" textLength="5.29" lengthAdjust="spacingAndGlyphs">w</text><text x="137.22" y="686.6" font-size="8.66" textLength="13.31" lengthAdjust="spacingAndGlyphs">(cm</text><text x="153.54" y="686.6" font-size="8.66" font-style="italic" textLength="3.12" lengthAdjust="spacingAndGlyphs">s</text><text x="157.24" y="683.56" font-size="6.06" textLength="7.06" lengthAdjust="spacingAndGlyphs">−1</text><text x="164.89" y="686.6" font-size="8.66" textLength="2.17" lengthAdjust="spacingAndGlyphs">)</text>
<g transform="rotate(-90 12.5 597.95)"><text x="-17.16" y="597.95" font-size="8.66" textLength="17.7" lengthAdjust="spacingAndGlyphs">MISR</text><text x="3.58" y="597.95" font-size="8.66" font-style="italic" textLength="5.36" lengthAdjust="spacingAndGlyphs">w</text><text x="11.98" y="597.95" font-size="8.66" textLength="13.47" lengthAdjust="spacingAndGlyphs">(cm</text><text x="28.48" y="597.95" font-size="8.66" font-style="italic" textLength="3.17" lengthAdjust="spacingAndGlyphs">s</text><text x="32.23" y="594.91" font-size="6.06" textLength="7.15" lengthAdjust="spacingAndGlyphs">−1</text><text x="39.96" y="597.95" font-size="8.66" textLength="2.2" lengthAdjust="spacingAndGlyphs">)</text></g>
<text x="50.98" y="648.1" font-size="9.58" textLength="11.13" lengthAdjust="spacingAndGlyphs" style="stroke-width:0.2px">(g)</text>
<defs><clipPath id="csh"><rect x="291.6" y="531.4" width="198" height="133.1"/></clipPath></defs>
<g clip-path="url(#csh)">
<path d="M342.5 616.5h0M353 600h0M415 570.7h0M387 561h0M393.6 602h0M383.1 565.3h0M405.1 589.2h0M406.2 582.1h0M428.5 591.6h0M397.5 555.5h0M394.4 604.3h0M390.5 570.6h0M428 569h0M403.7 595.4h0M373.5 574h0" stroke="#0c56a0" stroke-width="3.2" stroke-linecap="round"/>
<path d="M402 584.2h0M395.2 587.6h0M393.5 558h0M420.9 567.9h0M377.5 572.5h0M385.7 567.1h0M390 576.5h0" stroke="#08306b" stroke-width="3.2" stroke-linecap="round"/>
<path d="M421.9 587.3h0M403.8 606.6h0M393.7 573.8h0M412 607.4h0M398.7 588.2h0M404.1 603.7h0M402.5 581.4h0M415.6 601h0M417.7 601.5h0M401.5 578.7h0M397.1 622.5h0M404.4 607.3h0M404.3 591.5h0M410.5 605h0M394.5 585h0M421.8 597.1h0M403.2 592.9h0M381.1 591.8h0M394 578.5h0M403.4 592.8h0M391 577h0M414 565h0M415.6 583.5h0M425.7 592h0M407.9 611.4h0M419.1 576.5h0M411.3 588.6h0M377.1 592.3h0M390.3 605.6h0M390 613h0M421.1 582.5h0M403.8 581h0M383.6 596.2h0M385.7 588.1h0M407.7 588.9h0" stroke="#bbd6eb" stroke-width="3.2" stroke-linecap="round"/>
<path d="M407.3 578.3h0M398.8 617.6h0M424.7 585.2h0M418.9 578.4h0M392.4 585.1h0M419.6 578.2h0M398.7 614.6h0M414 607.5h0M400 552.5h0M413 592h0M409.4 583.5h0M404.9 596.7h0M406.4 574.3h0M390.3 586.1h0M405.1 589.1h0M426 571h0M413.5 595.5h0M423.2 579.2h0M416.7 575.4h0M400.7 588.9h0M401.6 585.5h0M417.8 593.4h0M408.3 599.4h0M386.5 586.1h0M415.3 575.3h0" stroke="#88bedc" stroke-width="3.2" stroke-linecap="round"/>
<path d="M419.5 576.3h0M385.2 588.1h0M410.6 576.1h0M389.4 574.3h0M418.8 590.7h0M407.4 583.6h0M405.9 585.2h0M385.9 573.8h0M386.4 594.2h0M396.5 599.8h0M403.1 579.4h0M390.5 568.9h0M422.2 576.4h0M393.3 619.5h0" stroke="#2a7aba" stroke-width="3.2" stroke-linecap="round"/>
<path d="M413.5 609.5h0M394.4 612.5h0M392 601.8h0M385.8 589.8h0M410 588h0M422.1 590.6h0M399.6 593.3h0M412 594h0" stroke="#f7fbff" stroke-width="3.2" stroke-linecap="round"/>
<path d="M403.8 579.8h0M397.1 607.5h0M393.6 604.2h0M417.7 610.2h0M417.1 576.8h0M374.5 586.7h0M429.3 596h0M384.4 589.7h0M405.1 572.6h0M401.2 600.5h0M401.9 568.5h0" stroke="#dbe9f6" stroke-width="3.2" stroke-linecap="round"/>
<path d="M390.1 572.8h0M400.2 602.5h0M381.4 594.6h0M384 586.4h0M428.8 589.2h0M386.9 587.4h0M373.5 602h0M402.9 571.7h0M424 584.4h0M400.2 587.7h0M409.9 585h0M374.4 596.4h0M397.9 578.9h0M433.5 552h0M409.4 593.8h0M378.3 598h0M439 575.5h0M390.5 585h0" stroke="#549ecd" stroke-width="3.2" stroke-linecap="round"/>
<path d="M438 563h0M384 560h0M396.5 553h0" stroke="#08306b" stroke-width="3.2" stroke-linecap="round"/>
<path d="M386.3 584.9h0M398.2 576.3h0M405 599.4h0M412.4 575.9h0M391 597.5h0M409.8 583.8h0M396 584.9h0M410.4 570.4h0M423.2 585h0M399.5 619h0M404.8 574.9h0M417.8 568.9h0M411.6 619.9h0M431 611h0M397.1 613.4h0M396.2 578.4h0M418.1 604.2h0M422.9 577.7h0M421.7 597h0M411.3 581.7h0M400.1 622.1h0M388 597.2h0M420.9 602.1h0M416.3 576.9h0M423.1 577.9h0M376.7 596.9h0M393.3 619h0M412.9 576h0M420.3 598.3h0M387 582.9h0M384 584.2h0" stroke="#88bedc" stroke-width="3.2" stroke-linecap="round"/>
<path d="M407.9 605h0M414.7 608h0M417.2 589.7h0" stroke="#f7fbff" stroke-width="3.2" stroke-linecap="round"/>
<path d="M352.5 603.5h0M372.8 597.7h0M383.9 591.1h0M390.8 592.7h0M426.5 598.3h0M417 590.1h0M413.5 607.6h0M401.2 596.8h0M384.3 592.1h0M417.4 598.3h0M420.1 585.6h0M406.6 598.7h0M415.7 573.5h0M421.4 590.2h0M401.3 575.9h0M401.3 594h0M392.4 571.7h0M356 598h0M404.6 578.3h0M424.2 592h0M404.7 576.2h0M396.9 597.2h0M420 607.5h0M390.4 589.2h0M409.4 610.5h0M356.5 609h0M392.3 602.5h0M404.7 623h0M399.9 604.2h0M427.2 594.5h0M416.3 575.8h0M380.4 598.1h0M375 583h0M353 608.5h0M397.3 617.8h0M392.7 604.2h0M394.6 584h0M427 615h0" stroke="#549ecd" stroke-width="3.2" stroke-linecap="round"/>
<path d="M373.4 594.1h0M375.3 596h0M417.5 578.6h0M392.8 598h0M405.4 598.3h0M406.8 576.9h0M405 581.1h0M396 577.7h0M404.2 616.2h0M386.6 583.5h0M406.2 622.2h0M394.6 612.5h0M345 611.5h0" stroke="#dbe9f6" stroke-width="3.2" stroke-linecap="round"/>
<path d="M430.1 589.4h0M431.5 556.5h0M402.1 593.9h0M429.1 595.1h0M402.2 575.6h0M419 583.1h0M411.9 579.5h0M414.3 619.9h0M424.8 587.9h0M362 603.5h0M401.5 565.4h0M371.5 578.5h0M408.6 586.6h0M355 600h0M450.5 558.8h0M381.1 566.2h0" stroke="#2a7aba" stroke-width="3.2" stroke-linecap="round"/>
<path d="M390.4 576.5h0M389 582.1h0M376 568h0M396.9 598.8h0M415.2 596.9h0M372.8 593.3h0M429.9 592.5h0M377.1 586.4h0" stroke="#0c56a0" stroke-width="3.2" stroke-linecap="round"/>
<path d="M417 618.3h0M409.5 573.9h0M412.1 577.5h0M395.6 608.7h0M406 599.2h0M401.1 576h0M397.7 600.1h0M418.1 605.5h0M399.9 594.2h0M421.9 597.9h0M418.8 577.1h0M414.6 580.1h0M399.7 586.1h0M377.9 594.6h0M413.8 595.6h0M403 617.4h0M391.1 609.1h0M416.6 587.5h0M380.4 595.6h0M369 594h0M426.6 598.9h0" stroke="#bbd6eb" stroke-width="3.2" stroke-linecap="round"/>
<path d="M407.4 593h0M408.6 580.1h0M382 614.5h0M378 589h0M397.3 566.5h0M396.4 606.9h0M390 618h0M380.4 593.1h0M411.5 574.1h0M403.6 593.3h0M405.3 611.9h0M428 599h0M395.7 592.6h0M406.7 617.3h0M392.2 610.7h0M396.1 605.9h0M415.8 604.4h0M390.3 579.3h0M396.5 616.1h0M412.5 602.7h0M385.5 617h0M385.9 589.8h0M414.7 587.2h0M393.4 603.7h0M403.1 620.1h0M364 607h0M425.9 589.9h0M394.5 598h0M406.1 595.8h0M390.9 592.4h0M398.5 605.7h0M419.4 598.7h0" stroke="#88bedc" stroke-width="3.2" stroke-linecap="round"/>
<path d="M421.6 570.1h0M358.5 603h0M395.5 566.4h0M393.9 578.3h0M392.2 568.2h0M383.4 567.3h0M399.2 577.4h0M425.3 590h0M400.1 606.8h0M400 574.2h0M403.3 607.3h0M393.9 575.9h0M404.4 572.2h0M398.7 569.2h0M409.3 597.6h0M418.3 582.6h0M397.9 616.6h0M398.1 587.7h0M417.9 584h0M401.9 608h0M418.4 594.2h0" stroke="#549ecd" stroke-width="3.2" stroke-linecap="round"/>
<path d="M417.5 606.2h0M425.7 590h0M397.3 602.2h0M410.3 623h0M404.1 589.5h0M420.6 601.8h0M411.9 592.4h0M412.8 612.1h0M411.7 597.3h0M335.5 619.5h0M423.5 579h0M415.2 580.6h0M400.4 584.9h0M414.6 605.5h0M373.1 590.4h0M408.1 610.4h0M411.3 584.3h0M396.2 610.9h0M394.3 594.2h0M407 585.5h0M400.5 579.1h0M384.6 590.8h0M406.2 579.5h0M394.9 583.8h0M402.1 576.4h0M430.5 586h0M398.2 595.7h0M405.6 604.1h0M387.6 567.3h0M413.5 620.2h0" stroke="#bbd6eb" stroke-width="3.2" stroke-linecap="round"/>
<path d="M391.4 587.8h0M384.8 583.5h0M400.6 573.9h0M400.5 616.5h0M390.8 597.4h0M431 590.7h0M425 610h0M417.9 605h0M395.6 575.4h0M395.3 580h0M400.7 577.1h0M400.3 580.7h0M421.3 616.3h0M390.5 591.1h0M381.5 591.4h0M399.8 621.2h0M376.8 595.1h0M401.2 618h0M390.3 610.4h0M413.4 596.7h0" stroke="#dbe9f6" stroke-width="3.2" stroke-linecap="round"/>
<path d="M390.1 596.6h0M379 601h0M407.5 592.3h0M339 615h0M415.8 576h0M344 608h0M392.5 611.8h0M396.7 593.9h0M409.6 569.6h0M403.6 582.6h0M406.8 571.9h0M382.3 581.9h0M394.1 569.6h0M407.1 571.3h0M384 571h0M398.4 594.6h0M389.5 567.6h0M377.5 589.7h0M388 563.5h0M375.4 589.3h0" stroke="#2a7aba" stroke-width="3.2" stroke-linecap="round"/>
<path d="M408.5 587.8h0" stroke="#f7fbff" stroke-width="3.2" stroke-linecap="round"/>
<path d="M386.5 610.5h0M385 566.8h0M365.5 575h0M430 564.5h0" stroke="#08306b" stroke-width="3.2" stroke-linecap="round"/>
<path d="M365 594.5h0M389.5 560.5h0M392.4 604h0M394.2 584.8h0M410.4 590.2h0M414.9 585.8h0" stroke="#0c56a0" stroke-width="3.2" stroke-linecap="round"/>
<path d="M402.5 575.3h0M411.5 584.1h0M408 621.3h0M413.2 620.6h0M416.2 596.6h0M408.4 601.4h0M393.5 565.6h0M391 569.1h0M424.2 615.9h0M390 586.8h0M395.9 602.8h0M405.6 585.6h0M399.2 605.8h0M395.6 607.8h0M408.6 575.6h0M406.5 623.5h0M419.1 617.1h0M401.6 599.4h0M419.7 605.2h0M395.5 602.8h0M401.9 580.2h0M407 578.2h0" stroke="#bbd6eb" stroke-width="3.2" stroke-linecap="round"/>
<path d="M420.4 605.1h0M415.1 576h0M404.6 607.3h0M386.3 593.8h0M411.5 583.9h0M400.4 577.7h0M376.2 590.8h0M372.6 590.4h0M399.7 601.6h0M393 570.5h0M414.3 576.7h0M399.4 625.1h0M429.2 591.8h0M390.3 579h0M408.6 605.7h0M388.8 589.6h0M398.4 596h0M400.1 604.5h0M404.2 602.2h0M421.2 579.6h0M424.4 596.4h0M416.8 574.1h0" stroke="#88bedc" stroke-width="3.2" stroke-linecap="round"/>
<path d="M413.8 579.3h0M394.2 588.3h0M380.4 590.1h0M390.6 597.2h0M393.8 593.5h0M394.5 598.1h0M401.6 578.1h0M392.7 587.4h0M410.8 581.4h0M409.8 592.9h0M391 570h0M386.1 581.2h0M391.5 554.5h0M440 562.5h0M415.9 597.3h0M373.3 591h0M398.2 580h0" stroke="#2a7aba" stroke-width="3.2" stroke-linecap="round"/>
<path d="M436 571h0M425 564.5h0M387.5 574.9h0M385 595.8h0M413 612.5h0M402.5 610h0M405.9 584.7h0M374.3 598.9h0M410.5 589.9h0M393.2 597.2h0M412.6 587.4h0M388.9 568.6h0M386.5 583.3h0M380.5 561h0M390.6 595.5h0M405.7 579.8h0M395.9 571.7h0M392.9 576.2h0M391.6 573.3h0M394.2 596.3h0M400.4 586.9h0M397 605.4h0M389.5 591.4h0M430.6 592.1h0M416.8 600.6h0M403 582h0M410.9 590.7h0M398.4 588.6h0M379.8 589.3h0M424.7 575h0M391.8 592.7h0M418.6 595.3h0M392.9 620.3h0M368.5 577.5h0M420.7 584.5h0M400.2 567.1h0" stroke="#549ecd" stroke-width="3.2" stroke-linecap="round"/>
<path d="M378.9 583.6h0M340 610.5h0M381.8 571.3h0M345.5 609h0M337 615.5h0M388.7 567.8h0M386.5 554h0" stroke="#08306b" stroke-width="3.2" stroke-linecap="round"/>
<path d="M394 599.5h0M411.1 621h0M402 613.5h0M417.4 576.9h0M376.6 597.3h0M393.6 609.6h0M402.3 612.2h0M428.9 596h0M400 591.6h0M406.1 570.3h0M395.9 566.2h0M406.8 613.1h0M430.6 592.5h0" stroke="#dbe9f6" stroke-width="3.2" stroke-linecap="round"/>
<path d="M401.2 575.7h0M376.5 576h0M394.6 588.2h0M391.4 598.8h0M415.7 580.5h0M389 553.5h0M401.1 577.7h0M384.2 584.8h0M407.3 593.4h0M426.2 592.8h0" stroke="#0c56a0" stroke-width="3.2" stroke-linecap="round"/>
<path d="M388.7 584.9h0M394.8 590.4h0M406.9 576h0M425 602.5h0M395.6 587.8h0M399.5 604.1h0" stroke="#f7fbff" stroke-width="3.2" stroke-linecap="round"/>
<path d="M380.8 588.9h0M375.9 594.8h0M424 595h0M407.9 588.3h0M391.8 586.8h0M380 564h0M409.3 589.5h0M392.1 600.3h0M401.2 625.7h0M403 574.9h0M381 580h0M392.3 587.7h0M419.7 597.8h0M394.7 598.1h0M373.3 594.5h0M406.2 621.5h0M412.8 586.8h0M415.1 620.9h0M382 564.5h0M402.7 571.5h0M397 588.3h0M393.1 565.7h0M418.7 583.9h0" stroke="#549ecd" stroke-width="3.2" stroke-linecap="round"/>
<path d="M400.3 594.3h0M392.6 587.1h0M408 596.3h0M412.9 587h0M396.9 595.5h0M390.1 588.4h0M407.5 598.4h0M415.1 617.8h0M400.8 569.5h0M397 595.5h0M418 587.6h0M414.8 575.2h0M384.2 591.9h0M421.5 584h0M393.8 620.5h0M376 579h0M418.2 582h0M423.4 592.6h0M407.7 591.1h0M389.9 580h0M412.4 572h0M420.1 592h0M391.4 616.8h0M405.7 623.9h0M374.5 591.5h0M400.8 612.7h0" stroke="#88bedc" stroke-width="3.2" stroke-linecap="round"/>
<path d="M416.1 597.2h0M394.6 573.7h0M420.4 601.1h0M392.2 580h0M413.4 587.1h0M393.5 590.7h0M416 605.2h0M390.7 569.9h0M394.8 601.4h0M395.5 586.8h0M408.6 616h0M426 589.4h0M395.1 589.2h0M418.3 594.6h0M393.9 581.4h0M396.1 601.7h0M410.6 619.7h0M400.1 607.4h0M395.8 579.3h0M405.1 599h0M415.7 589.8h0M391.1 588.1h0M411.5 580h0M402 624.4h0M400.3 625.2h0M415 570.1h0M414.1 574.9h0M377.6 591.2h0" stroke="#bbd6eb" stroke-width="3.2" stroke-linecap="round"/>
<path d="M401.1 581.6h0M428.9 589.8h0M391.2 575.8h0M394.1 571.3h0M407.9 574.5h0M419.1 601.3h0M414 564h0M417.7 586.5h0M409.2 584.8h0M412.8 601.1h0M405.7 593.3h0M393.8 615.6h0M407.4 604.8h0M368.5 605.5h0M393.4 605.3h0M405.8 604h0" stroke="#dbe9f6" stroke-width="3.2" stroke-linecap="round"/>
<path d="M392.7 616.1h0M384 565.1h0M401.1 572.1h0M405.6 618.3h0M390.9 597.3h0M376.9 598.5h0M392.8 603.1h0M393 561h0M408.7 569h0M431.4 589.8h0M380.7 590.3h0M421.6 593.6h0M413.7 581.9h0M401.6 574.2h0M408.4 579.1h0M403.8 580.5h0M388.5 593.4h0M371 588h0M392.3 592.9h0M422.7 578.4h0M411.7 577.5h0M389.1 597.1h0M412.9 595.5h0M390.9 606.8h0" stroke="#2a7aba" stroke-width="3.2" stroke-linecap="round"/>
<path d="M418.7 579.9h0M415.8 580.3h0M388.5 556h0M371 570h0M378.4 585.6h0M385.8 566.9h0M415.3 584.6h0" stroke="#0c56a0" stroke-width="3.2" stroke-linecap="round"/>
<path d="M393.9 587.3h0M423 582h0M390.2 595.3h0" stroke="#f7fbff" stroke-width="3.2" stroke-linecap="round"/>
<path d="M374 585.8h0M364 592.5h0M387 574h0M381 576h0M374.2 598.6h0M442.2 558.2h0" stroke="#08306b" stroke-width="3.2" stroke-linecap="round"/>
<path d="M398.4 594.7h0M406.2 589.4h0M405.4 589.1h0M409.2 620.4h0M421.2 598.2h0M415.5 570h0M402.9 596.2h0M400.1 574.1h0M417.8 584.9h0M373.5 590h0M404.4 594.9h0M420.3 590.7h0M423.2 573h0M400.5 603.3h0M389 616h0M421.2 618.1h0M421.3 578h0M421 618.2h0M419 570h0M412.3 589.9h0M391.9 589.1h0M404.7 582.2h0M417.3 609h0M403.3 576.6h0M426.4 592.2h0M404.8 624.2h0M391.5 594.5h0M406 603.8h0M420 612h0M420.4 596.2h0M406.8 601.5h0" stroke="#bbd6eb" stroke-width="3.2" stroke-linecap="round"/>
<path d="M398.5 568.5h0M389.5 578.6h0M390.6 570.4h0M363 606h0M380.4 588.9h0M417 583.9h0M390.6 576.7h0M430 608h0M420.8 593.2h0M371.8 590.8h0M390.7 573.9h0M414.9 592.3h0M411.8 579.8h0M406.3 575.6h0M384 588.9h0M403.2 565.7h0" stroke="#2a7aba" stroke-width="3.2" stroke-linecap="round"/>
<path d="M403.1 573.7h0M341 610.5h0M382.4 594.8h0M367 590h0M393 564h0M370 581h0M385 563.5h0M390.5 566.1h0" stroke="#08306b" stroke-width="3.2" stroke-linecap="round"/>
<path d="M386.4 585.2h0M403.5 625.5h0M414.7 583.9h0M377.2 592.9h0M388.8 592.6h0M392.3 588.7h0M396.9 570.3h0M425.8 574.7h0M393.3 591.6h0M372 583.5h0M395.1 579.9h0M427.7 589.2h0M407.3 569.9h0M385.6 569.3h0M428.4 591.9h0M395.9 587.4h0M406 595.6h0M418.5 596.1h0M400.1 598.7h0M350 612h0M393 584.2h0M405.7 588.5h0M400.2 577h0M399.3 595.2h0M407.7 576.3h0M404.6 622.2h0" stroke="#549ecd" stroke-width="3.2" stroke-linecap="round"/>
<path d="M417.5 615.5h0M395.8 591.1h0M384.1 586.9h0M382.5 595.8h0M395.6 571.3h0M421.2 586.7h0M373.7 589.8h0M415.2 607.2h0M404.9 611.9h0M381.4 591.7h0M395.4 596.7h0M390.3 582.8h0M404.8 606.2h0" stroke="#dbe9f6" stroke-width="3.2" stroke-linecap="round"/>
<path d="M402.6 606.8h0M401.7 624.9h0M418.8 578.8h0M384.1 586.4h0M417.5 592.6h0M392.8 612.6h0" stroke="#f7fbff" stroke-width="3.2" stroke-linecap="round"/>
<path d="M432 608.5h0M409.6 621.2h0M407.4 597.7h0M373.9 593.6h0M373.4 591.1h0M421.3 599.2h0M398.4 621.8h0M392.4 616.6h0M427.5 605.5h0M421.6 591.1h0M386.6 591.2h0M386.2 581.4h0M416.3 589.1h0M419.9 615.5h0M372.5 593.4h0M419.9 596.7h0M431 566h0M423.8 587.8h0M411.9 581.9h0M392.1 593.2h0M375.7 589.9h0M419.3 591.8h0M349.5 614h0M386.9 598.6h0" stroke="#88bedc" stroke-width="3.2" stroke-linecap="round"/>
<path d="M383 583h0M402 555h0M405.5 587.2h0M388.6 571.7h0M417.5 585.4h0M400.5 590.6h0M411.8 584.1h0M424.5 566h0M408.9 569.1h0M414.9 591.1h0" stroke="#0c56a0" stroke-width="3.2" stroke-linecap="round"/>
<path d="M291.6 597.95H489.6" stroke="#000" stroke-width="1.1" stroke-dasharray="4 1.715"/>
<path d="M390.6 531.4V664.5" stroke="#000" stroke-width="1.1" stroke-dasharray="4.16 1.8"/>
</g>
<rect x="291.6" y="531.4" width="198" height="133.1" fill="none" stroke="#000" stroke-width="0.58"/>
<path d="M291.6 664.5v2.5M316.35 664.5v2.5M341.1 664.5v2.5M365.85 664.5v2.5M390.6 664.5v2.5M415.35 664.5v2.5M440.1 664.5v2.5M464.85 664.5v2.5M489.6 664.5v2.5" stroke="#000" stroke-width="0.58"/>
<text x="291.6" y="675.6" text-anchor="middle" font-size="8.32" textLength="17.07" lengthAdjust="spacingAndGlyphs">−2.0</text>
<text x="316.35" y="675.6" text-anchor="middle" font-size="8.32" textLength="17.07" lengthAdjust="spacingAndGlyphs">−1.5</text>
<text x="341.1" y="675.6" text-anchor="middle" font-size="8.32" textLength="17.07" lengthAdjust="spacingAndGlyphs">−1.0</text>
<text x="365.85" y="675.6" text-anchor="middle" font-size="8.32" textLength="17.07" lengthAdjust="spacingAndGlyphs">−0.5</text>
<text x="390.6" y="675.6" text-anchor="middle" font-size="8.32" textLength="10.95" lengthAdjust="spacingAndGlyphs">0.0</text>
<text x="415.35" y="675.6" text-anchor="middle" font-size="8.32" textLength="10.95" lengthAdjust="spacingAndGlyphs">0.5</text>
<text x="440.1" y="675.6" text-anchor="middle" font-size="8.32" textLength="10.95" lengthAdjust="spacingAndGlyphs">1.0</text>
<text x="464.85" y="675.6" text-anchor="middle" font-size="8.32" textLength="10.95" lengthAdjust="spacingAndGlyphs">1.5</text>
<text x="489.6" y="675.6" text-anchor="middle" font-size="8.32" textLength="10.95" lengthAdjust="spacingAndGlyphs">2.0</text>
<path d="M291.6 664.5h-2.5M291.6 647.86h-2.5M291.6 631.23h-2.5M291.6 614.59h-2.5M291.6 597.95h-2.5M291.6 581.31h-2.5M291.6 564.67h-2.5M291.6 548.04h-2.5M291.6 531.4h-2.5" stroke="#000" stroke-width="0.58"/>
<text x="286.3" y="667.9" text-anchor="end" font-size="8.32" textLength="17.07" lengthAdjust="spacingAndGlyphs">−2.0</text>
<text x="286.3" y="651.26" text-anchor="end" font-size="8.32" textLength="17.07" lengthAdjust="spacingAndGlyphs">−1.5</text>
<text x="286.3" y="634.62" text-anchor="end" font-size="8.32" textLength="17.07" lengthAdjust="spacingAndGlyphs">−1.0</text>
<text x="286.3" y="617.99" text-anchor="end" font-size="8.32" textLength="17.07" lengthAdjust="spacingAndGlyphs">−0.5</text>
<text x="286.3" y="601.35" text-anchor="end" font-size="8.32" textLength="10.95" lengthAdjust="spacingAndGlyphs">0.0</text>
<text x="286.3" y="584.71" text-anchor="end" font-size="8.32" textLength="10.95" lengthAdjust="spacingAndGlyphs">0.5</text>
<text x="286.3" y="568.07" text-anchor="end" font-size="8.32" textLength="10.95" lengthAdjust="spacingAndGlyphs">1.0</text>
<text x="286.3" y="551.44" text-anchor="end" font-size="8.32" textLength="10.95" lengthAdjust="spacingAndGlyphs">1.5</text>
<text x="286.3" y="534.8" text-anchor="end" font-size="8.32" textLength="10.95" lengthAdjust="spacingAndGlyphs">2.0</text>
<rect x="299.1" y="531.9" width="7.72" height="7.8" fill="#f7fbff"/>
<rect x="306.53" y="531.9" width="7.72" height="7.8" fill="#dbe9f6"/>
<rect x="313.95" y="531.9" width="7.72" height="7.8" fill="#bbd6eb"/>
<rect x="321.38" y="531.9" width="7.72" height="7.8" fill="#88bedc"/>
<rect x="328.8" y="531.9" width="7.72" height="7.8" fill="#549ecd"/>
<rect x="336.23" y="531.9" width="7.72" height="7.8" fill="#2a7aba"/>
<rect x="343.65" y="531.9" width="7.72" height="7.8" fill="#0c56a0"/>
<rect x="351.07" y="531.9" width="7.42" height="7.8" fill="#08306b"/>
<path d="M299.1 531.9L295.6 535.8L299.1 539.7Z" fill="#f7fbff"/>
<path d="M299.1 531.9H358.5V539.7H299.1L295.6 535.8Z" fill="none" stroke="#333" stroke-width="0.58"/>
<path d="M299.1 539.7v2.5M306.53 539.7v1.44M313.95 539.7v1.44M321.38 539.7v1.44M328.8 539.7v2.5M336.23 539.7v1.44M343.65 539.7v1.44M351.07 539.7v1.44M358.5 539.7v2.5" stroke="#000" stroke-width="0.58"/>
<text x="299.1" y="550.6" text-anchor="middle" font-size="8.32" textLength="19.39" lengthAdjust="spacingAndGlyphs">−400</text>
<text x="328.8" y="550.6" text-anchor="middle" font-size="8.32" textLength="19.39" lengthAdjust="spacingAndGlyphs">−200</text>
<text x="358.5" y="550.6" text-anchor="middle" font-size="8.32" textLength="3.99" lengthAdjust="spacingAndGlyphs">0</text>
<text x="306.32" y="561.3" font-size="8.21" textLength="17.08" lengthAdjust="spacingAndGlyphs">MISR</text><text x="326.31" y="561.3" font-size="8.21" textLength="1.92" lengthAdjust="spacingAndGlyphs">-</text><text x="331.15" y="561.3" font-size="8.21" textLength="17.93" lengthAdjust="spacingAndGlyphs">ERA5</text>
<text x="315.02" y="568.7" font-size="8.21" textLength="26.75" lengthAdjust="spacingAndGlyphs">CTH(m)</text>
<text x="359.34" y="686.6" font-size="8.66" textLength="18.33" lengthAdjust="spacingAndGlyphs">ERA5</text><text x="380.67" y="686.6" font-size="8.66" font-style="italic" textLength="5.28" lengthAdjust="spacingAndGlyphs">w</text><text x="386.53" y="688.27" font-size="6.06" font-style="italic" textLength="2.66" lengthAdjust="spacingAndGlyphs">e</text><text x="392.09" y="686.6" font-size="8.66" textLength="13.28" lengthAdjust="spacingAndGlyphs">(cm</text><text x="408.37" y="686.6" font-size="8.66" font-style="italic" textLength="3.12" lengthAdjust="spacingAndGlyphs">s</text><text x="412.07" y="683.56" font-size="6.06" textLength="7.05" lengthAdjust="spacingAndGlyphs">−1</text><text x="419.7" y="686.6" font-size="8.66" textLength="2.16" lengthAdjust="spacingAndGlyphs">)</text>
<g transform="rotate(-90 264.7 597.95)"><text x="233.14" y="597.95" font-size="8.66" textLength="17.88" lengthAdjust="spacingAndGlyphs">MISR</text><text x="254.08" y="597.95" font-size="8.66" font-style="italic" textLength="5.42" lengthAdjust="spacingAndGlyphs">w</text><text x="260.09" y="599.62" font-size="6.06" font-style="italic" textLength="2.74" lengthAdjust="spacingAndGlyphs">e</text><text x="265.78" y="597.95" font-size="8.66" textLength="13.6" lengthAdjust="spacingAndGlyphs">(cm</text><text x="282.44" y="597.95" font-size="8.66" font-style="italic" textLength="3.21" lengthAdjust="spacingAndGlyphs">s</text><text x="286.22" y="594.91" font-size="6.06" textLength="7.22" lengthAdjust="spacingAndGlyphs">−1</text><text x="294.03" y="597.95" font-size="8.66" textLength="2.23" lengthAdjust="spacingAndGlyphs">)</text></g>
<text x="304.78" y="648.1" font-size="9.58" textLength="11.12" lengthAdjust="spacingAndGlyphs" style="stroke-width:0.2px">(h)</text>
</svg></body></html>
